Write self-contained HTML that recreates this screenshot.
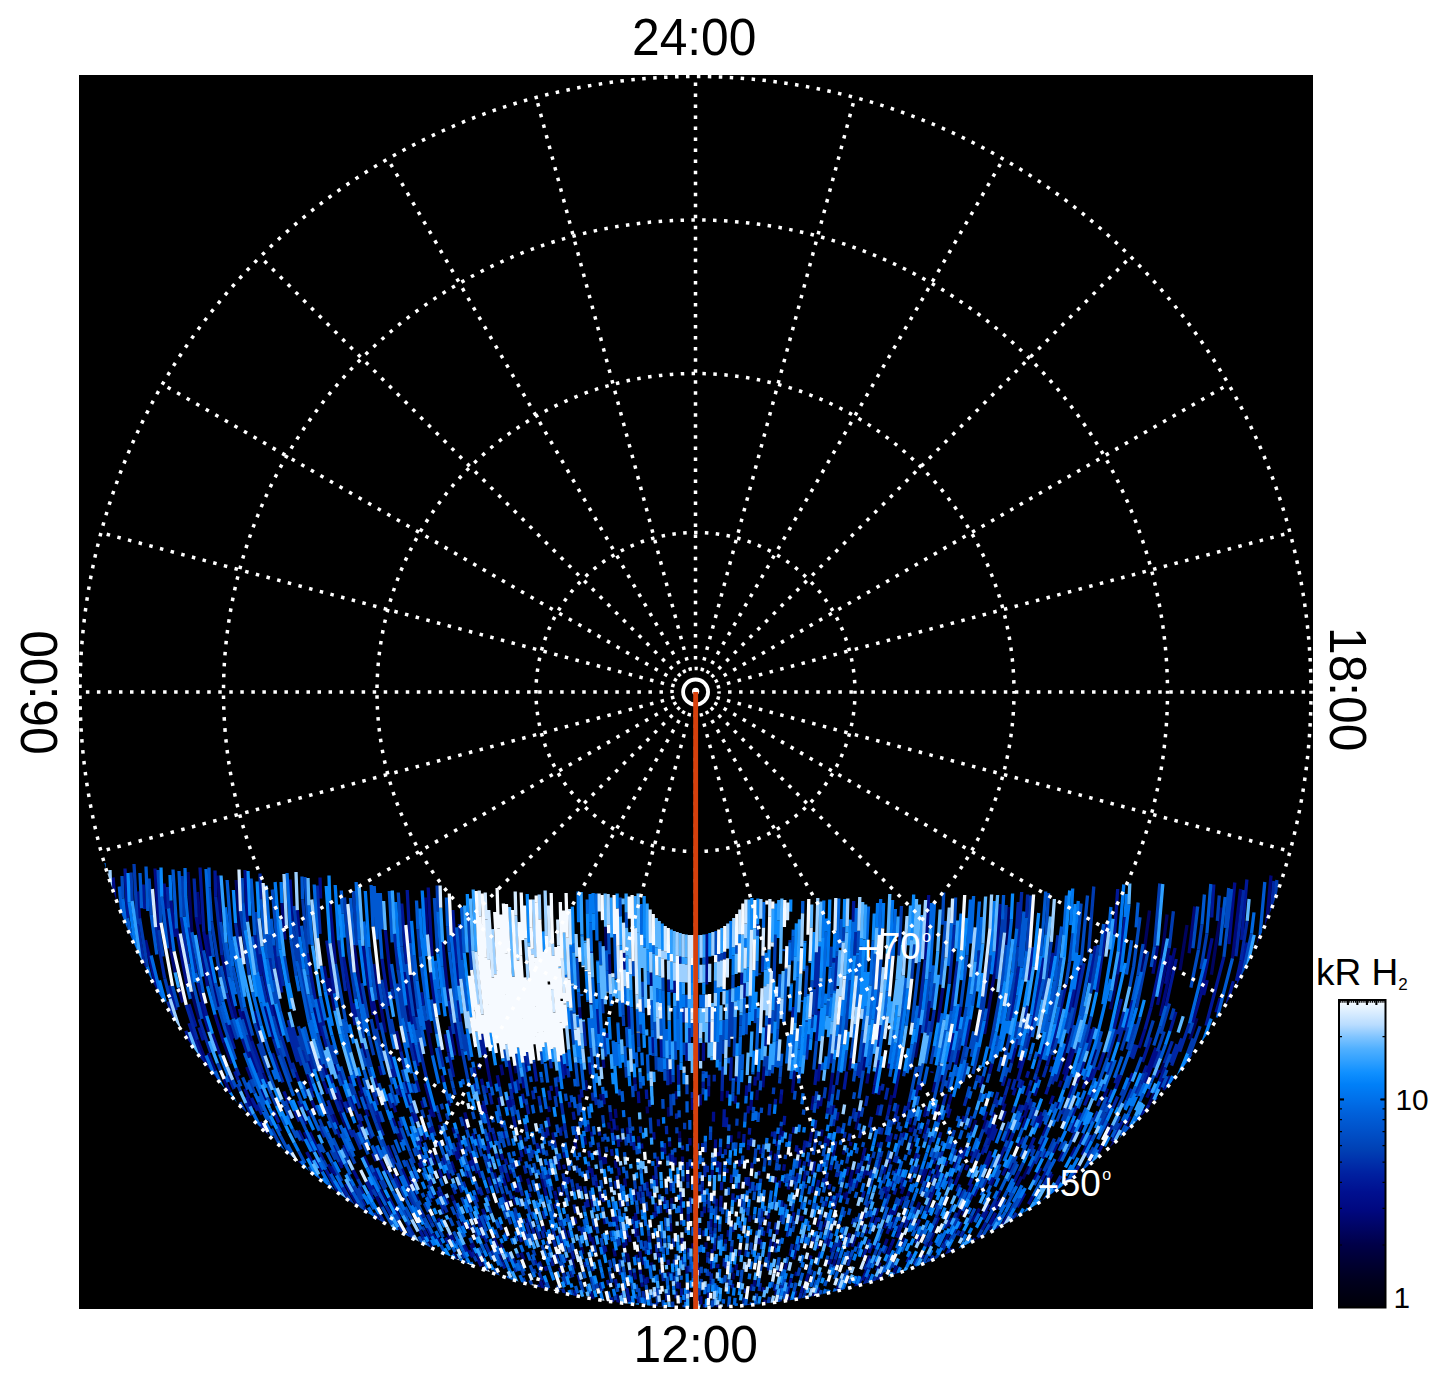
<!DOCTYPE html>
<html><head><meta charset="utf-8"><style>
html,body{margin:0;padding:0;background:#fff;width:1447px;height:1384px;overflow:hidden}
svg{display:block}
text{font-family:"Liberation Sans",sans-serif}
</style></head><body>
<svg width="1447" height="1384" viewBox="0 0 1447 1384">
<defs>
<linearGradient id="cb" x1="0" y1="1" x2="0" y2="0"><stop offset="0.0" stop-color="#000008"/><stop offset="0.087" stop-color="#00001e"/><stop offset="0.145" stop-color="#000032"/><stop offset="0.204" stop-color="#000048"/><stop offset="0.26" stop-color="#000464"/><stop offset="0.317" stop-color="#000880"/><stop offset="0.376" stop-color="#001090"/><stop offset="0.434" stop-color="#0020a0"/><stop offset="0.493" stop-color="#0038b0"/><stop offset="0.512" stop-color="#0040b4"/><stop offset="0.571" stop-color="#0050c8"/><stop offset="0.63" stop-color="#0060da"/><stop offset="0.677" stop-color="#0070ea"/><stop offset="0.726" stop-color="#0080f8"/><stop offset="0.764" stop-color="#1090ff"/><stop offset="0.802" stop-color="#30a0ff"/><stop offset="0.841" stop-color="#50b0ff"/><stop offset="0.88" stop-color="#80c4ff"/><stop offset="0.919" stop-color="#b8dcff"/><stop offset="0.977" stop-color="#e8f4ff"/><stop offset="1.0" stop-color="#f6faff"/></linearGradient>
<clipPath id="circ"><circle cx="695.5" cy="692" r="615.5"/></clipPath>
<clipPath id="sq"><rect x="79" y="75" width="1234" height="1234"/></clipPath>
</defs>
<rect x="79" y="75" width="1234" height="1234" fill="#000"/>
<g clip-path="url(#sq)">
<g clip-path="url(#circ)" fill="none" stroke-width="3.3"><path stroke="#00035f" d="M218.6 1177.9l4.5 6.1M299.4 1261l12.1 13.3M205.3 1131l8.4 13.7M330.5 1292.4l7.6 7.9M332.7 1290.6l10.2 10.6M235.2 1150.8l4.8 7.7M236.8 1145.1l5 8.3M299.2 1229.6l6.2 8M328.1 1265.4l6.8 7.9M165.6 909.4l5 39.4M250.9 1151.7l3.7 6.2M336.5 1265.6l5.2 6.3M191.4 991.7l7.7 27.2M260.2 1154.8l6.8 11.3M188 872l3.9 60.1M342.8 1260.5l5 6.3M321 1229l7.3 9.9M381 1304l7.1 8M223.9 1042.7l7.7 20.9M249 1098.4l4.4 9.5M236.1 880l4 56.4M307.6 1110.2l3.1 7.2M344.4 1122.6l5.5 13.1M341 1100l2.9 7.7M359.3 1090.7l2 6.1M362.9 1093.6l3.4 10.2M428.8 1239.1l4.2 7.7M455.7 1285.8l3.9 6.4M414 1190.9l4.5 9.7M398 1133.4l3.1 8.3M453.3 1252.6l3.6 6.9M479 1292.3l5 8.6M473.7 1267.9l2.7 5.2M490.2 1298.5l3.6 6.5M432.9 1159.5l1.9 5.2M451.4 1195l2.2 5.4M481.3 1253.6l2.1 4.6M406 1005.6l2.8 16.1M410.4 974.9l6.2 42.1M425.9 1021l6.5 34.4M428.6 1019.9l2.3 13.2M463.6 1118.4l3.1 11.4M490.1 1158.7l1.7 6M550.6 1297.6l2.7 6.9M515 1065.7l1.2 7.6M572.7 1262.6l1.7 6.1M581.3 1247l1.7 7.1M562.2 1126.3l0.8 5.2M585.6 1080.2l1.1 10.5M600.6 1093.8l0.6 6.6M608.7 1122.4l0.6 6.2M625.1 1252.5l0.6 4M611.9 1128.2l0.5 4.6M627.4 1253.5l1.3 8.8M605.6 926.8l0.6 23.6M616.8 1125.4l0.5 5.1M620.5 1137.7l0.4 4.3M637.1 1228.2l0.9 7.6M635.3 1188.8l0.6 6.5M643 1241.1l0.6 5.4M638.4 1136.2l0.5 6.5M642.2 1184.5l0.6 7.4M651.5 1262.3l0.8 7.8M647.1 1106.5l0.4 6.8M656.9 1252.2l0.4 4.8M672.8 1272.3l0.5 8.7M668.4 1107.1l0.3 9.7M671.6 1197.9l0.2 5.4M676.1 1091.1l0.2 8.2M679.5 1131.3l0.1 6.4M697.4 1227.8l-0 6.1M706 1242.2l-0.2 6.9M739.1 1131.5l-0.4 7M733.6 1273l-0.6 6.4M757.4 1089.8l-0.6 10.4M749.9 1215.4l-0.6 6.4M781.1 1126.3l-0.9 8.6M783.9 1202.5l-0.7 4.5M780 1264l-1.6 8.2M800.1 1215.7l-0.9 4.8M788.8 1296.2l-2.3 9M823.1 1224.6l-1.8 7.2M844.2 1150.4l-0.9 4.3M828.3 1239.1l-1.7 6.3M858.1 1118.2l-2.2 11.4M844.8 1192.6l-1.4 5.8M860.6 1167l-1.5 6.2M891.8 1095.2l-1.9 9.3M850.3 1251.9l-2.9 8.6M920.6 1025l-5.3 32.6M914.2 1125.2l-1.7 6.7M912 1143.2l-1.6 5.8M868.5 1279.8l-2 4.6M942.3 1075l-1.5 6.7M894.1 1280.5l-2.1 4.3M901.4 1269.7l-2.1 4.3M1009.1 907l-2.7 38M975.9 1120l-3.8 11.6M935.5 1224.4l-3.8 8.3M929.3 1274.5l-3.6 6.4M966.2 1207.4l-3.9 8.1M955.4 1264.7l-5.1 8.4M950.3 1273.1l-4.6 7.4M932.7 1309.5l-1.7 2.5M1071.1 1028.6l-7.9 28.9M1029 1166.3l-6.3 12.8M971.9 1267.9l-4 6.2M1096.4 1049.6l-5 15.7M1117.6 974.6l-7.3 34.8M1024.8 1221.7l-7.9 12.6M1082.8 1121.7l-4.5 9.9M1149.5 910.5l-8 61.4M1167.1 914.5l-5.5 43.9M1108.5 1122.8l-3.2 6.7M1059.5 1227l-7.7 10.9M1187 924.9l-7 45.4M1164.2 1063.2l-4 10M1154.4 1092.8l-5.7 12.2M1120.6 1157.9l-6.5 10.9M1197 1018.2l-7.1 21.2M1221.5 907.5l-10.1 67.2M1123.2 1177.6l-6 9.2M1182.5 1090.7l-4.8 9.9M1125.8 1207.7l-8.1 10.6M1260.2 935l-13.7 62.5M1226.3 1078.8l-4.8 9.7"/><path stroke="#000778" d="M329.1 1304.4l7.8 7.6M256 1217.6l9.8 11.9M202 1138.3l8.3 13.1M286.1 1250.7l7 7.9M303.4 1269.9l10.5 11.3M221.7 1164.8l4.5 6.6M214.9 1138.4l8.3 13.4M155.6 999l4 13.1M247.6 1184.7l9.8 13.7M216.4 1132.2l4.9 8.4M342.4 1296.8l12.9 13.4M208.4 1113.3l5.5 10M228.4 1143.7l8.1 13.1M230.6 1139l8.2 13.8M355.1 1302.2l9.3 9.8M241.8 1153.4l8.7 13.8M224.7 1114.1l5.9 11M289.5 1216.7l9.8 13M170.6 948.8l4.5 23.6M178.7 987.6l4 14.9M197.5 1039.8l12 30.7M214 1074.6l4.3 9.8M208.1 1053.2l7.1 17.8M250.9 1143.1l4.2 7.3M260.6 1159.5l7.9 12.7M274.7 1178.2l4.2 6.4M224.1 1079l6.1 13.6M352.9 1277.9l6.4 7.5M329.5 1246.1l6.2 8M259.5 1135.4l6.1 11.1M297.3 1198.2l7.8 11.5M256.5 1124.7l5.1 9.8M271.3 1147.6l4.5 8M197.5 892l2.5 32.5M213.4 986.5l5.1 20.3M324.3 1224.2l6.7 9.5M207.1 934.4l3.2 21.7M309.1 1194.6l9.1 14M246.7 1066.8l4.8 12.3M222 955.4l14.4 63.8M261.1 1088.9l4.9 11.4M218 875.5l2.6 46.5M353.4 1246.6l8.6 11.8M348.9 1237.1l6.6 9.3M242.8 1011.1l8.8 29.8M263 1073.3l4 10.3M324.6 1184.7l4.9 8.3M254.3 1011.2l5.3 19.2M304.3 1132l3.4 7M387.7 1268l5.9 8.1M264.6 1006.4l9 32.8M327.9 1164.2l5.4 10.1M347.8 1200l6.7 11.2M404.6 1282.9l6.1 8.3M272.9 1004.7l8.2 31M352 1195.1l6.3 10.9M401.9 1273.6l5.7 8M422.1 1301.4l3.3 4.3M402.4 1268.5l5.4 7.8M425.3 1298.1l5.5 7.5M307.4 1074.3l2.4 6.7M281.9 903l3.1 36.6M333.2 1114.4l4.5 11M376.5 1196.7l5.4 10.1M436.3 1294.7l4.8 7M323.4 1064.2l3.4 10.7M340 1111.6l4.4 11M372.9 1185l6.7 12.9M433.8 1288.3l3 4.4M335.7 1093l2.7 7.5M314 1007.7l6.9 28.4M363.9 1156.1l5 10.8M379.9 1189.5l6.8 13.1M334.5 1064.2l3.2 10.4M420.4 1250.8l2.9 4.9M324 966.2l4.9 29.1M328.8 978l6.1 32.6M420.7 1236.2l2.4 4.3M365.7 1109.5l2.6 7.1M357.3 1075.8l2.9 9.2M434.4 1253.1l3.1 5.5M459 1294.2l4 6.4M450.6 1277.3l5.1 8.4M362.2 1042.9l3.7 14.6M374.4 1077.9l2.9 9.7M353.9 945l8.5 59M398.6 1128.1l4.1 11.4M459.6 1260.6l3.5 6.6M447.8 1233.2l3.6 7.3M373.8 963.9l11.5 68.7M398.3 1084.9l3.5 12M489 1299.8l2.4 4.3M406.1 1093.3l3.6 12.1M464.2 1244.6l4.2 8.6M405.5 1081.3l3.5 12.7M396.4 1031.2l4.4 20.2M470.6 1244.4l3.9 8.2M462.5 1221.6l2.7 6.2M472.1 1243l2.1 4.6M483 1261.6l2.2 4.5M425.1 1083.2l9.3 34M439.3 1124.9l1.4 4.7M453.4 1168.2l1.5 4.4M480.6 1221.6l3.2 7.8M458.5 1153.9l1.5 4.7M453 1127.4l1.7 5.9M457.5 1142.3l2.6 8.3M498.6 1254.5l3.2 7.5M448.4 1100.5l1.4 5.6M457.5 1133.9l2.4 8.2M468.4 1161.4l2.4 7.5M425.4 897.5l1.8 37M500.7 1244l1.8 4.5M470.9 1153.2l2 6.6M475.2 1167.1l2 6.1M530.1 1306.9l2.4 5.1M464.7 1112.4l1.8 6.8M449.6 1026.3l5.2 29.2M535 1305.4l2.7 5.9M442.6 941.9l6 58.5M454.8 1022.8l5.6 32.9M494.1 1172.6l2.1 7M521.2 1252.6l2.8 7.3M503.1 1193.9l2.7 8.3M507.5 1200.5l2 6.3M543 1297.8l2.1 5.2M513.2 1195.8l2.6 8.6M543.1 1278l2.5 6.5M485.9 1057.7l3.4 19.3M489.3 1076.9l1.9 9.9M515.6 1187.9l1.2 4.2M556.6 1308.1l1.5 3.9M526.9 1218l2.3 7.2M498.7 1097.4l1.7 8.2M519.4 1175.3l1.8 6.6M500.9 1064.6l1.8 10.5M519.7 1157.2l1.1 4.3M565 1300.6l3.1 8.7M542.2 1178.8l2 8.5M564.8 1256.7l1.3 4.5M539.9 1145.7l1.6 7.7M555.5 1195.2l1.1 4.7M571.4 1258l1.3 4.6M548.5 1106.5l0.9 5.4M552.8 1132.4l1.3 7.1M558.1 1161.5l1.7 8.5M590.7 1291.3l2.4 8.6M574.8 1140.8l1.3 8.1M592.1 1237.1l1.7 8.3M594.3 1225.8l0.8 4M591.7 1198.8l1.5 8.5M584.4 1136.4l1.2 8.3M616.5 1294.3l0.9 4.3M579.5 1007.3l0.7 10.8M599.7 1156l0.6 4.3M613.8 1248.4l1.4 8.1M602.4 1157l1 7.5M604.8 1156.3l1 7.7M603.2 1059.7l0.6 8.1M623.6 1242.5l0.8 5.4M610.3 1112.1l0.9 9.1M615.3 1160.3l0.9 7.8M615.3 1108.9l0.8 9.1M629.2 1235.5l0.9 6.4M609.2 954.4l0.6 19.6M624.6 1178.2l0.9 8.4M633.5 1216.2l0.9 8.3M627.4 1127.3l0.5 6.7M635.4 1212.7l0.9 8.3M639.8 1250.9l0.9 7.5M642.8 1275l0.9 7.1M642.7 1257.3l0.9 7.4M650.4 1305l0.5 4.3M640.4 1191.8l0.5 5.9M634.7 1077.4l0.4 6.7M650.3 1249.5l0.4 4.3M653.6 1175.3l0.3 4.7M656 1211.1l0.4 5.3M651 972.6l0.3 13.4M662.1 1147.4l0.2 4.3M668.8 1272.1l0.3 4.7M670.4 1223.4l0.4 8.3M669.5 1141.4l0.2 5.3M669.9 1153.4l0.3 8.3M670.2 1069.1l0.3 15.1M675 1157.3l0.2 8.2M679.3 1282.6l0.2 6.1M681 1197.9l0.2 7.7M682.5 1156.5l0.1 7.5M685.6 1294.3l0.2 7.6M686.9 1266.1l0.1 7.5M689.9 1138l0.1 7.5M693 1243.2l0 5.1M695.1 1239.6l0 8.3M700.4 1094l-0.1 11.2M712.3 1169.8l-0.2 8.5M712.9 1230.8l-0.2 6.6M717.8 1152.1l-0.1 4.2M722.1 1091.2l-0.3 9.9M717.6 1304.7l-0.4 6.7M725.7 1239.2l-0.3 4.5M736.2 1076.4l-0.2 5.2M735.5 1095.6l-0.3 8.1M733.3 1224.6l-0.5 7.4M740 1159.6l-0.4 6.9M738.5 1182.6l-0.4 6.3M736.5 1263.8l-0.6 6.5M751.4 1099.8l-0.6 10.6M748.5 1145.3l-0.3 4.9M740 1249.6l-0.6 6.6M750.7 1181.9l-0.6 6.8M764.2 1066.6l-1.3 20.7M761 1147.8l-0.5 6M754.9 1280.1l-0.9 6.3M777 1140.7l-0.6 5.5M783.2 1130.8l-0.6 6M794.4 1070.5l-2 22.5M765.2 1299.6l-1.4 7.4M812.9 1014.9l-0.1 1.5M776.8 1289.7l-1.1 5.3M813.6 1095.9l-0.9 7.4M811.6 1131.8l-0.8 5.4M791 1250.9l-1 5M802.4 1215.9l-1 5.2M795.5 1249.9l-1.2 5.4M822.2 1129.6l-1 6.7M832.7 1072.7l-3.7 28.5M826.4 1135.9l-1.1 7M833.9 1104.7l-1.5 10.1M828.6 1138.5l-1.3 7.6M795.9 1290.8l-1.8 6.6M834.2 1150l-1.2 6.4M819.8 1219.4l-1.8 7.7M851.1 1058.4l-1.5 11.8M832.1 1196.1l-1.2 5.1M826.3 1220.7l-1.5 6.2M806 1308.5l-1.1 3.5M865.3 1056.9l-1.9 13.5M851 1141.9l-0.8 4M830.6 1230.4l-2.3 8.7M848.3 1166.8l-1.9 8.7M868.4 1073.6l-1.6 9.9M852.6 1169.7l-1.7 7.2M850.9 1176.9l-1.3 5.6M847.4 1191.7l-2 8M831.1 1259.1l-1.7 5.4M863.3 1155.8l-1.1 4.8M835.2 1259.5l-2.6 8.2M863.7 1174.5l-1 4M867.1 1170.6l-1.2 4.7M848.8 1243.1l-1.3 4.1M879 1142.3l-1.2 5.1M838.5 1285.8l-2.6 7M865 1212.5l-2.6 8.5M878 1207.9l-2.4 7.6M887.8 1191.6l-2.1 6.8M877.7 1241.1l-2.9 7.7M867.5 1267.6l-2.1 5.3M942.9 988l-4.8 34.6M926.9 1106.5l-2.6 10.5M903.7 1186.7l-2.4 7.1M935.3 1082.2l-2.3 10.1M893 1223.8l-2.5 6.6M887.3 1238.8l-2.5 6.4M880 1262.3l-3.6 8.4M909.4 1191.1l-1.7 5M938 1104.4l-1.8 7.1M891.1 1245.7l-3.6 8.6M926.7 1169l-2.8 8.3M923.8 1177.3l-2.3 6.5M951.5 1094l-2.7 10.3M925.1 1187.3l-1.6 4.3M919.6 1202.2l-2.8 7.3M905.1 1238l-3.7 8.7M897.2 1265.5l-3.3 7M917.1 1225.4l-2 4.6M928.8 1208.3l-2.3 5.6M899.3 1274l-2.1 4.3M994.4 973.8l-9.9 60.3M964.1 1115.9l-1.8 5.9M894 1292.3l-3.1 5.8M983.2 1076.4l-3 11.2M961.6 1147.5l-2.7 7.5M933.9 1232.7l-4.1 8.6M917.7 1265.8l-4 7.7M972.8 1151.4l-1.8 4.7M986.5 1119.7l-3.2 9.4M913.9 1287.7l-4.2 7.4M952 1218.1l-3.9 8.1M960.7 1209.2l-4 8.4M949.6 1232.3l-3.5 6.9M1005.1 1103.5l-2.3 6.9M914.5 1300l-4.8 8M930 1287l-3.9 6.5M973.3 1216.5l-3 5.9M994.4 1177.3l-3.7 8.1M979.5 1208.6l-5.9 11.6M953 1258.2l-5.1 8.8M1028.4 1105.6l-4.3 12M945.7 1280.6l-3.1 4.9M1020.9 1139.1l-3.1 7.4M1013.2 1162.9l-4.3 9.4M1000.3 1190.3l-3.1 6.3M974.9 1238.3l-2.4 4.2M965.5 1258.2l-4.9 8.1M982.2 1233.2l-6.5 11.3M966.3 1260.4l-3.8 6.2M1080.9 965.3l-7.7 42.2M995.1 1218.2l-6.6 11.8M981.3 1242.4l-6.9 11.5M950 1295l-2.8 4.1M1071.8 1047.3l-8.3 27.2M1061.3 1080.7l-2.2 6.3M1021.6 1176.4l-4.9 9.8M1059.1 1102.1l-2.4 6.3M1081.2 1070.7l-4.4 12.6M1052.3 1173.8l-6.5 12.1M979.7 1298.8l-10.1 12.9M1053.2 1193.7l-3.8 6.4M1049.4 1200.1l-6.3 10.4M1107.5 1088.5l-4.1 10M986.9 1296.9l-11 13.9M1039.6 1226.6l-5.2 7.9M1071.7 1178.3l-4 7M1157.6 945.7l-4.7 28.1M1045.1 1225.1l-9.2 13.6M1092.9 1158.1l-5.6 10.1M1169.1 948.3l-11.6 56.6M1175.1 948l-14.8 68M1115 1140.6l-6.9 12.6M1194.7 906.5l-5.6 46.7M1151.1 1088.1l-4.3 9.6M1073.5 1223.1l-7.3 10.1M1143.6 1115.4l-6.4 12.4M1163.5 1078.3l-4.7 10.7M1111.9 1176.2l-6.8 10.7M1078.2 1228.9l-8 10.6M1170 1076l-3.4 7.8M1158.2 1107.4l-5 9.8M1152.6 1123.5l-4.1 7.6M1131.6 1160.2l-4.4 7.1M1101.8 1212.2l-6 8.2M1034.6 1294.7l-11.4 12.4M1047.8 1288.7l-11.7 12.7M1240.6 889l-8.1 69.4M1211.8 1033.5l-4.8 13M1149 1160.4l-5.1 8M1195.1 1081l-3.1 6.6M1131.1 1190.7l-8.2 11.4M1126.9 1200l-6.3 8.5M1157.3 1159.1l-5.7 8.7M1094.6 1244.4l-11.4 13.5M1219 1044.7l-13.1 31M1156.1 1172.1l-4.7 6.8M1129.1 1209.5l-5.7 7.4M1078.2 1270.5l-10.2 11.2M1246.2 988.1l-2.8 10.2M1223.2 1055l-5.1 11.8M1160.8 1168.8l-8.9 12.8M1093.5 1255.6l-10.1 11.4M1107.9 1241.3l-7.4 8.7M1263 936.2l-4.5 25M1172.6 1158.7l-7.9 11.7M1087.8 1266.8l-9.1 9.9M1271 875.5l-6.2 67.9M1257.2 979.4l-9 31.2M1189.3 1136.4l-6.6 10.5M1241 1045.8l-10.2 23.5"/><path stroke="#000c89" d="M323.6 1300.8l8.2 7.9M206 1156.4l7.5 11M113.1 877.5l3.9 50.7M197.6 1139.5l6.6 10.3M134.6 996.7l6.3 20M171.2 1088.2l6.5 12.5M201.4 1141.4l7.4 11.5M218 1163.1l7.4 10.8M280.8 1244.6l5.3 6.1M284.9 1246.8l8.4 9.5M171.6 1072.1l4.9 10.4M219.2 1157.3l8 12M253.3 1205.3l6 7.7M137.7 962.6l3.3 14.4M161.9 1035.5l9.3 23.2M143.7 962.8l4 17.5M191.5 1096.3l6 11.4M256.9 1200.8l4.6 6.1M280.4 1231.1l10.9 13.2M137.5 891.5l2.1 26.8M191.4 1090.6l5.7 11.3M292.8 1243.4l8.6 10.2M341.1 1297.5l6.7 7M145.5 940.1l15 65.6M172.8 1041.8l4.9 12.5M190.8 1083.9l6.4 13.2M275 1215.7l4.7 6.1M312.7 1261.9l9.6 11M329 1278l11 12.1M198.2 1082.2l3.9 8.2M228.3 1139.4l6.8 11.4M347 1293.5l8.1 8.7M155 868.5l3.9 61.6M198.9 1071.6l6.1 13.5M253.3 1167.8l5.9 9.1M259.2 1176.9l7.6 11.3M318.6 1256.5l5.1 6.1M332.5 1272.8l6.7 7.6M238.1 1138.6l5.7 9.7M256.9 1169.5l4.5 7M164.2 883.5l1.5 25.9M231.6 1122.2l4.6 8.5M245.6 1147.1l6 10.1M171 900.6l3.7 36.4M221.2 1090.8l3.1 6.5M346.8 1280.2l11.8 13.5M176.6 928.6l10.5 57.6M309.8 1231.8l10.2 13.3M303 1216.4l5.9 8.1M199.9 1001.9l9 29.7M212.4 1033.8l7.3 20.4M378 1304.8l6.4 7.2M353.8 1271.7l9.6 11.7M196.2 917.3l11.3 68.8M215 1014.6l8.9 28.1M245.8 1097.2l4.3 9.2M310.7 1211.2l5.8 8.3M244.7 1088.7l4.4 9.8M203.8 931.9l9.7 54.6M278.8 1151.9l7.9 13.8M331 1233.6l5.4 7.4M298.9 1182l4 6.5M229.5 1024.9l4.4 13.7M324.5 1214.6l7.3 10.7M333.1 1220.6l4.2 6.1M249.4 1051.3l7.7 21M298.9 1161.1l5.8 10.3M308.2 1177.4l4.3 7.3M239.3 1008.9l2.8 10.4M358.3 1247.4l9.6 13.3M373.8 1268.5l7.4 9.7M330.8 1202.8l8.4 13.2M379.3 1273.1l4.7 6.2M383.9 1279.3l8.4 10.9M332.1 1201.1l5.2 8.3M398.9 1296l5.7 7.1M306.6 1152l6.3 11.8M351.5 1224.5l4.4 6.7M355.9 1231.2l4.6 6.9M383.2 1270.2l4.6 6.2M283.8 1091.4l5.1 12.3M315.2 1158.9l6.9 12.7M376.2 1257.7l5.9 8.2M245 870l2.4 51.7M336.5 1188.7l3.7 6.4M301.5 1114.5l4.5 10M309.6 1132.3l6.7 14M366 1233.2l4.6 7M337.4 1181.7l4.2 7.5M341.6 1189.2l6.2 10.8M302.3 1103.8l2.6 6.2M331.4 1166.1l5 9.4M295.6 1072.1l3.3 9.3M345.8 1183.8l6.3 11.3M376.7 1232.5l5.7 8.9M311.6 1100.3l4.1 10.3M339.2 1161.9l3.1 6.2M309.7 1081.1l3.7 10M308.5 1061l4.6 13.8M353.1 1169.9l4.7 9.2M336.6 1129l3.8 8.7M343.7 1144.9l5.4 11.5M406.2 1255.4l7.6 11.9M442.3 1308.6l2.5 3.4M323.5 1081.3l4.5 12.5M290.1 879.5l2 41.2M397.6 1234.3l8.3 13.7M405.9 1248l4.3 6.9M297.3 910.1l2.3 26.6M416.7 1255.2l5.2 8.4M346.8 1101.2l2.2 6.1M374.5 1168.3l5.8 12.2M407.9 1233l7.4 12.8M359.2 1120.3l2.6 6.6M380.9 1160.6l6.1 13.5M320 877.5l0.6 21M462.9 1303.3l3.6 5.5M360.2 1085l2.8 8.5M394.3 1173.9l6.4 14M329.8 903.1l5.6 60.6M401.8 1168.8l4.8 11.1M406.7 1179.9l4.5 10M432.6 1233.7l3 5.7M436.6 1237.2l4.2 7.9M462.3 1280.2l3.1 5.4M392.5 1118.1l2.8 8M472 1290.3l2.8 4.7M379.3 1065.9l2.5 9.1M392.9 1103.2l2.9 9M438.3 1218.2l3.2 6.7M474.6 1287.9l4.2 7.3M362.9 945.8l10.3 69.1M373.4 1001l5.6 28.9M419.1 1162.5l2 5.2M450.9 1235l4.3 8.7M419.3 1150l1.6 4.4M430.6 1179.2l1.9 4.5M437.7 1190.7l2.4 5.7M411.9 1112.7l3.2 10.2M427.4 1158.1l2.6 7M469.2 1250.4l3.4 7M423.8 1133.5l2.2 6.4M385.3 930l6.5 58.4M438.9 1169.1l3.2 8.5M477.9 1259.6l3.3 6.7M476.8 1253l2.7 5.6M421.6 1100.6l2.1 7.3M436.3 1140.2l1.9 5.6M446.8 1170.5l3.2 8.6M413 1043l5.2 23.2M429.5 1109.4l2.1 7.3M404.2 971.9l8 52.4M451.1 1161.6l2.3 6.5M479.2 1229.2l3.8 8.9M490.8 1251l2 4.5M455.3 1151.6l2.7 8.4M510.5 1289.5l2.2 4.6M456.3 1146.9l2.2 7M466.5 1170.7l2.3 6.9M484.1 1219.2l1.8 4.7M442.3 1075.3l1.6 6.8M482.5 1208.8l2.2 5.8M493.9 1237.9l3.5 8.4M430.7 972.4l4 31M524.9 1299.7l2.8 5.9M527.6 1305.6l3.1 6.4M428.2 887.5l3.8 68.6M472.9 1159.8l2.3 7.3M445.2 1034.1l3.4 18.4M478.8 1170.5l2.3 7.3M512.9 1258.5l2.1 5.1M472.8 1133.2l1.7 6M490.1 1167.4l1.4 4.6M496.2 1179.5l2.5 8M541.6 1303.4l2.3 5.4M456.3 963.9l2.2 21.9M487.8 1141.3l2.2 8.3M481.5 1104.8l1.9 8.2M488.1 1132.3l2.3 9M484.4 1105.9l1.8 7.8M503.1 1178l2.3 7.8M481.4 1078.8l1.2 6.2M540.3 1281.1l3.2 8.3M501.3 1153.9l1.6 6.1M506.5 1173l2.5 8.7M510.4 1169.4l1.1 4.1M516.7 1183.4l2.5 8.8M545 1266.4l1.5 4.3M497.3 1075.3l2.1 11.3M557.5 1295.7l2.3 6.1M507.3 1100l2.1 10.4M509.2 1096l2.1 11.1M527.5 1178.5l1.5 5.9M508.6 1060.6l5.4 32.2M559.8 1267.6l1.4 4.5M522.2 1076.8l1.8 11.5M544.2 1187.4l2.1 8.4M558.6 1234.8l2.3 8.4M525.9 1064.8l1.1 7.4M562.6 1241.4l1.1 4.1M548.1 1161.1l1.4 6.8M554.6 1190.9l1 4.3M568.5 1230.2l1.9 7.5M561.8 1191.5l1 4.4M563.7 1164.6l0.8 4.4M564 1152.6l0.9 5.1M568.5 1177l1.1 5.5M556.4 1086.7l1.3 9.9M601.4 1302.9l2.3 8.7M589.2 1233.5l1.7 7.9M564.6 1063.9l1.3 11.4M606.7 1301.7l1.3 5.5M579.1 1094.5l1 8M588.7 1166.3l1 6.7M591.5 1168.3l1.3 8.5M604.7 1245.7l1.2 6.2M588 1124.6l0.9 6.9M595.9 1181.3l0.9 6M617.4 1298.6l1.3 6M591.5 1131.6l0.6 4.8M604.2 1218.3l1 5.8M621.7 1301.2l1.5 7.3M621.9 1292.6l1 5.1M590.8 1003.2l0.1 1.3M615.3 1216.5l1.2 8.3M603.3 1094.1l1 10.2M625.3 1239.2l0.9 6.3M607 1033.1l0.3 4.6M618.5 1167.4l0.9 8M618.1 1139.4l0.7 7.5M634.4 1272.8l1 6.7M636 1254.8l0.8 6M635.4 1232.4l0.6 4.7M640 1269.6l0.6 4.5M641.8 1282.6l0.6 4.2M624 952.8l0.4 16.8M647 1276.9l0.7 6.2M628.6 1005.9l0.8 20.3M638.2 1091.3l0.7 11.9M641.5 1143.5l0.4 5.1M646.8 1181.9l0.4 5.9M656.2 1288.3l0.9 8.8M659.1 1253.2l0.3 4.2M653.7 1132.1l0.4 7.4M656.3 1179.5l0.4 6.9M652.5 1037.2l0.5 15.7M657.7 1161.2l0.3 5.6M664.4 1196.9l0.4 7.1M664.7 1148.5l0.2 5.8M667.3 1208.1l0.2 4.5M672.4 1040.6l0 0.8M674.5 980.8l0.1 12.3M681.2 1205.5l0.2 8.4M682 1237.7l0.2 5.9M687.8 1174.1l0.1 7.5M692.4 1098.7l0 11.2M695.1 1229l0 5.9M703.5 1042.8l-0.1 18M700.9 1296.3l-0.1 8.2M706.9 934l-0.2 50.6M704.4 1206.7l-0.1 6.5M708.6 1086.5l-0.1 9.9M713.6 1111.8l-0.2 9.8M711 1219.1l-0.2 7.9M708.7 1292.5l-0.2 5.5M715.6 1139.5l-0.2 8.7M711.8 1261l-0.3 8.3M717.5 1161l-0.2 6.5M716.3 1198.6l-0.3 7.7M720.9 1200.9l-0.2 5.7M717.9 1263.8l-0.2 4.4M727.5 1090.7l-0.2 7M728.2 1144.3l-0.2 4.3M727.1 1168.7l-0.2 4.2M731.2 1135.1l-0.3 7.3M728.5 1230.1l-0.4 6.7M746.8 1085.3l-0.5 10.5M740.1 1194.9l-0.3 4.1M748.4 1105.9l-0.4 7.6M755.4 1076.7l-0.5 9M760.2 1225.1l-0.6 4.5M758.6 1238l-0.8 5.9M770.9 1150.7l-0.4 4.3M760.6 1239.4l-0.7 5.1M781.3 1094.8l-0.8 8.8M775.6 1153.6l-0.7 6.5M768.5 1212.9l-0.8 5.8M775.4 1177.1l-0.7 5.8M779.8 1180.8l-0.9 6.9M763.6 1287.3l-0.8 4.4M784.4 1164.3l-0.8 6.5M775.4 1241.9l-1 6.2M794 1127l-0.7 6.1M789.5 1180.6l-1.3 8.9M799.1 1148.1l-0.9 6.3M800 1159.1l-1.3 8.7M793.9 1212.3l-0.8 4.4M812.7 1103.3l-0.8 6.8M786.4 1263l-1.4 6.5M819.9 1063.9l-1.9 17.5M810.8 1137.2l-0.8 5.3M805 1174.8l-1.1 6.5M784 1283.4l-1 4.7M818.4 1100.4l-1.1 8.3M821.5 1097.3l-1.1 8.8M800 1238.4l-1.3 6M791.2 1278.3l-1.6 6.8M789.5 1285.1l-2.2 9M812.7 1186.3l-1.2 6.4M796.7 1271.8l-1 4.2M818.7 1179.9l-1.3 6.9M838.1 1112l-1.4 8.5M811.1 1255.5l-1.1 4.4M808.4 1273.6l-2.2 8M818.4 1243.5l-1.3 5M804.6 1306.8l-1.6 5.2M810.5 1300l-2.2 7M859.5 1110.9l-1.3 7.3M830.5 1239.1l-2.1 7.6M814.6 1293l-2.1 6.5M833.2 1244.8l-2.2 7.7M874.7 1085.5l-1.5 8.6M857.6 1169.2l-1.2 5M865.1 1147.6l-1.9 8.2M857.3 1180.8l-1.9 7.4M840.7 1241.5l-1.8 5.9M880.1 1085.7l-1.6 9.1M865 1169.5l-1.2 5M889.3 1063.8l-0.8 4.8M849.7 1233.3l-2 6.5M855.6 1235.6l-1.8 5.7M853.7 1241.4l-1.7 5.3M899.4 1069.2l-5.4 28.8M885.4 1166.8l-1.9 7M866.6 1229l-1.4 4.3M928.7 895l-3.5 64.7M890.1 1158.6l-1.3 4.8M887 1186.7l-2.1 6.9M904.6 1132.4l-1.3 5M910.8 1118.1l-1.5 6.2M897.1 1168.9l-1.3 4.3M872.1 1244.6l-3.2 8.6M856.8 1284.1l-1.9 4.7M911.1 1127.5l-1.2 4.7M870.1 1255.7l-3.2 8.4M849.6 1305.9l-2.7 6.1M887.4 1214.1l-1.8 5.2M865.4 1272.9l-3.1 7.5M891.7 1208.5l-2.3 6.7M886.7 1222.7l-2 5.6M904.3 1177.4l-1.3 4.1M893.4 1210.3l-1.6 4.4M897.2 1205.9l-3.2 8.9M888.9 1228.8l-1.9 5.1M916.8 1153.1l-2.5 8.2M902.6 1197.1l-2.8 8.1M895.4 1217.3l-2.4 6.5M927.4 1124.6l-2.4 8.9M872.8 1279.1l-3.6 8.3M860.2 1306.9l-2.4 5.1M953.5 1033l-5.6 28.9M899.4 1224.8l-2.7 6.8M893.8 1239l-2.7 6.7M875.3 1282.5l-2.9 6.5M898.8 1232l-2.3 5.7M889.8 1253.8l-3.3 7.8M924.3 1168.6l-2.3 6.9M958.7 1050.2l-3.1 14.5M950.3 1108.6l-2.6 9.2M935.3 1158l-1.9 5.8M931.1 1170.4l-1.9 5.4M927.1 1181.9l-2 5.4M916.7 1209.4l-1.9 4.9M938 1164.9l-1.7 4.8M938.9 1169.2l-1.7 4.9M937.2 1174.1l-1.5 4.2M930.6 1191.8l-2.3 5.9M934.8 1187l-2.6 6.7M946.8 1160.8l-1.8 5M1000.3 904l-5.9 69.8M944.5 1174.1l-2 5.2M957.1 1160l-3.1 8.4M950.9 1176.4l-3 7.6M894.8 1301.4l-4.1 7.4M992 1063.7l-2.5 9.9M964.7 1153l-2.1 5.7M938.7 1217.3l-3.2 7.1M958.1 1176.8l-3.3 8.2M931.8 1241.6l-2.8 5.6M986.5 1111.6l-2.8 8.7M967.7 1164.9l-2.1 5.3M962.1 1190.5l-3.4 7.8M994.2 1112.4l-1.8 5.3M989 1127.7l-2.4 6.8M904.3 1307.8l-2.5 4.2M1015.2 1048.5l-3.7 14.5M992.9 1124.1l-4.8 13.4M972.1 1183.9l-3.4 7.8M946.1 1239.2l-2.2 4.4M932 1269.6l-2.8 5M1020.6 1060.5l-2.1 7.7M1015.4 1088l-2.3 7.3M991.6 1154.8l-5.6 13.6M976.9 1189.3l-3.1 6.7M961.4 1221.9l-3.2 6.4M1009.4 1128.8l-5 13.1M953.9 1248.9l-3.9 7M1039 1054l-0.7 2.7M1029.7 1085.8l-3.2 9.7M1044.4 1044.5l-4.1 15.2M1022.2 1115.7l-2.4 6.5M1038 1076.6l-2 6.3M1037.2 1087.7l-2.7 8.1M1026.4 1118.4l-3.6 9.4M1006 1167.9l-3.4 7.5M987.6 1210.8l-4.7 9M997.2 1201.2l-4 7.7M1000.9 1198.6l-5.6 10.8M1042 1112.2l-4.1 10.6M995.7 1212.8l-6.2 11.4M1043.1 1116.2l-4.6 11.5M1053.3 1095.8l-3.1 8.4M941.6 1307.3l-3.3 4.7M1074.1 1049.1l-10 31.7M1047.7 1124.4l-4.8 11.5M997.8 1225.4l-4.4 7.5M1044.6 1137.7l-5.9 13.2M1006.8 1217.5l-7.3 12.5M955 1298.8l-5.8 8.1M1091 1028.8l-3.9 14M1024.9 1193.3l-7.7 13.9M1040.6 1167.7l-6.4 12.5M1057.2 1143.8l-4.3 9M1032.8 1196.3l-4.4 7.8M1010.4 1234l-5.1 8.2M973.4 1289.1l-5.3 7.3M1092.9 1068.8l-4.6 13M1075.7 1120l-5.4 12.1M1063.5 1151.9l-4.9 9.7M1003.8 1254.3l-4.5 6.7M1021.2 1231l-4.3 6.8M1015.5 1243.1l-7.8 11.6M1076 1147l-4.9 9.7M1054.1 1200l-8 13M1109.4 1097l-3 7M1092.2 1135.1l-5.7 11.4M1086.4 1146.5l-4.3 8.4M1144.9 1029.5l-5.9 18.4M1132.7 1073.1l-3.4 8.6M1102.2 1145.5l-4.1 7.6M1171 955.4l-5.5 28.4M1033.9 1259.2l-6 7.9M1068.3 1214.1l-8.9 12.9M1156 1047.7l-9.2 24.5M1157.4 1051.5l-12.4 31.7M1130 1116.3l-4.4 9M1108.6 1156.8l-6.3 10.9M1102.3 1167.7l-7.3 12.1M1043.5 1254.8l-7.4 9.6M1001.4 1306.7l-4.6 5.3M1071.5 1219.5l-6.8 9.6M1028.7 1276.4l-5.2 6.3M1125.1 1136.1l-7.3 13.4M1158.9 1069.6l-3.2 7.9M1144 1109.2l-3 6.2M1011 1306.3l-5.1 5.7M1166.6 1083.8l-2.9 6.4M1059.4 1256.1l-5.8 7.2M1212.1 938.2l-11.2 55.9M1200.9 994.1l-8.2 28.5M1207.3 980.1l-3.7 15.1M1175.1 1076.8l-4.4 9.9M1033.4 1293.9l-9.9 11M1121.2 1184.2l-4.5 6.7M1040.4 1290.4l-6.3 7M1138.2 1165.6l-8.7 13.5M1234.8 882.5l-5.8 61.7M1220.2 998l-4.2 14.4M1153 1150l-5.1 8.3M1128.2 1191.6l-6.1 8.6M1198.1 1074.5l-3 6.5M1069 1271.7l-12 13.3M1104.7 1231.9l-10.2 12.4M1232.2 1006.6l-3.6 11.3M1117.7 1218.3l-7.6 9.7M1061.7 1284.2l-7.2 7.7M1199 1095.5l-3.2 6.2M1111.4 1229.2l-8.2 10M1112.9 1230l-6.8 8.3M1045.8 1305l-7 7M1114.1 1231.3l-11.2 13.5M1046.2 1306.4l-5.6 5.6M1253.5 982.5l-2.9 10.6M1239.8 1034.8l-14.7 34.9M1225.1 1069.7l-6.3 13.4M1184.9 1151.5l-7.4 11M1177.5 1162.5l-6.5 9.4"/><path stroke="#001797" d="M127.4 1010.6l8.1 22.5M177.9 1120l8.1 13.3M258.6 1231.6l12 13.8M108.3 902.6l3.7 32.5M308.6 1283.8l6.5 6.6M238.2 1200.8l9.2 11.7M243 1204l6.8 8.7M225.2 1177l6.5 9M323.4 1293l9.1 9.2M210.3 1151.4l7.7 11.6M181 1096.8l5.4 10.2M332.1 1298l12.2 12.3M125 868.5l2.6 49.6M255.8 1205.5l9.6 12.4M282.4 1238.9l6.5 7.6M178.7 1075.5l2.9 6.1M243.4 1185.6l8.9 12.3M229.4 1153.7l8.2 12.7M143.2 884.5l1.4 24.5M194 1084.9l4.4 9.1M262.3 1191.9l4.6 6.5M256.5 1180.1l6.8 9.9M169.4 985.5l6.8 24.6M187.9 1044.4l11.1 27.2M223.8 1122.4l5.8 10.3M302.7 1239.7l6.3 7.8M185.8 1030.8l6.9 19M311.3 1247.7l7.2 8.8M209 1081.9l5.3 11.3M189 1023.3l6.4 18.5M195.4 1041.7l9.8 25.1M331.4 1266.8l10.8 12.6M189 1004.3l6.9 22.5M258.6 1160.4l5.5 8.9M198.9 1027.5l4.4 12.9M255.2 1150.4l5.4 9.1M268.5 1172.3l8.9 13.8M285.2 1197.7l5.6 8.1M349.1 1280.5l11.9 13.6M242.2 1112.1l4.4 8.7M334.9 1255.9l9.9 12.3M198 983l2.7 11M200.7 994l6 21.8M285.7 1176.3l5.8 9.2M234.7 1071.4l3.6 8.7M331.1 1239.7l7.9 10.6M260.2 1121.9l4 7.8M264.2 1129.7l3.8 7.2M337.2 1245l8.6 11.3M200 867.5l3.8 64.4M251.5 1097.9l6 12.9M226.1 1023l8.5 25.9M257.2 1104.5l4.7 10M283.8 1156.4l8 13.8M291.8 1170.2l7.1 11.7M304.7 1183.6l6.7 10.8M226.7 993.3l6.6 25.1M308.8 1186.4l8.5 13.6M353.9 1253.1l6.5 8.7M215 870.5l0.7 26.4M242.3 1038.6l6.6 19.2M337.3 1226.7l4.3 6.3M273.3 1110.6l5.7 12.2M251.6 1040.9l11.4 32.3M397 1298.3l6.3 7.7M298.4 1130.6l5.1 10.4M412.1 1307.7l3.4 4.3M396.7 1285.7l6.7 8.8M272.4 1053.2l6.3 18.1M294.6 1110.7l4.8 10.8M344.9 1206.8l6.8 11M351.7 1217.8l6.2 9.7M326 1169.8l4.7 8.6M409.4 1297.1l5.2 6.7M316.3 1146.3l7.1 14M370.7 1240.2l5 7.5M254.8 935.1l6.1 40.2M298.4 1100.8l2.6 6.2M260.3 954.4l12.5 61.5M378.9 1239.5l4.8 7.5M365 1213.4l6.8 11.3M363.6 1207.1l7.2 12.3M422.4 1296.7l5.2 7M273.9 945.6l7.9 46.9M333.8 1145.5l4 8.5M337.8 1154l5.4 10.9M361.7 1199.7l3.4 6M358.8 1185.6l4.4 8.3M394.6 1243.7l5.8 9.3M331 1115.5l2.8 6.8M368.7 1190.9l4.7 8.8M366.4 1181.8l6.9 13.3M442.3 1306l4.3 6M367.6 1179.4l5 9.8M329.4 1074.3l3 8.9M338.4 1100.5l4.5 11.9M336.3 1086.8l4.7 13.2M307.5 953.7l7.6 45.4M320.3 1022.7l6.3 24.2M373.8 1172.1l3.7 7.7M317.9 998.7l5.9 26.6M388.9 1197.7l6.5 12.5M395.4 1210.2l4.7 8.8M435.8 1279.2l4.1 6.3M439.8 1285.5l2.7 4.1M436.4 1277l4 6.3M440.4 1283.3l4 6.2M350.4 1096.3l4.9 13.7M372.7 1153.3l3.5 7.8M349.2 1076.1l2.3 7.4M326.7 940.5l7.6 52.8M419.1 1229.1l3.9 7.2M366.4 1103.7l2.1 6M424.3 1230.6l4.5 8.4M375.9 1115.8l5.1 13.9M387.2 1145.5l5 12.2M376.8 1110.7l4.1 11.6M427.3 1227.8l4.5 8.6M471.4 1304.9l4.2 6.7M343.4 956.9l11.8 68.2M353.6 1003.3l2.7 13.7M447.6 1257.7l4.3 7.7M409.9 1176.1l5 11.3M445.6 1237.7l3.1 6.1M471.9 1286.6l3.9 6.8M398.8 1121l2.3 6.8M431.8 1193.6l2.1 4.8M475 1281.6l3.9 7M391.2 1069.1l2.3 8.6M420.2 1159l3.3 8.6M390.4 1054.8l5.7 22.2M418.6 1141l2.2 6.3M462.5 1245.5l3.2 6.5M419.4 1135.7l2 5.9M440.8 1192.4l1.8 4.3M488.8 1292.5l2.5 4.5M382 958.8l6.8 47.2M414.8 1113.7l2.5 7.8M444.2 1194.9l1.9 4.6M446.1 1199.4l2 4.8M429.9 1151.3l3 8.2M472 1251.9l2.1 4.4M416.2 1080.7l3 11.2M429.7 1127.8l1.7 5.2M431.8 1126.2l1.9 6M442.3 1157.8l2.5 7M468.4 1224.9l2 4.6M502.5 1292.9l3.6 7.1M401.7 903.5l4.6 60.6M468 1207.3l2.1 5.2M506 1288.2l3.3 6.7M407.2 890l2.8 52.7M477.3 1219.2l3.3 8.2M484 1235.3l3 7M514.5 1301.6l4.2 8.4M477.8 1214.7l2.7 6.9M421.4 992.2l1.9 13.3M475.1 1195.1l2.5 6.9M501.9 1262l2.9 6.5M499.1 1250.6l1.9 4.6M477.9 1189.7l1.6 4.5M470.6 1160.3l1.8 5.5M508 1256.7l2 4.9M448.6 1052.6l5 24.5M488.2 1177.2l2.8 8.7M457.4 1000.6l3 21.3M486.6 1146l2.2 7.8M452.8 910l3.5 53.9M473.8 1067.6l2 10.2M519 1234.9l2.5 7M537.6 1284.5l2 5M483.3 1100.7l1.2 5.3M486.2 1113.8l2.7 11.4M478.5 1063.4l1.1 5.8M493.7 1134l1.7 6.7M501.8 1165l2.1 7.6M485.6 1086l1.4 6.9M534.5 1260.2l1.8 4.8M480.2 1040l2.5 15.2M489.7 1093l2.4 11.4M505.1 1158.6l1.7 6.3M482.1 1033.7l3.8 24M539.2 1261.6l2.4 6.7M503.4 1131.5l1.7 7.1M532.5 1228.7l1.6 5M554.9 1293.9l1.6 4.4M529 1193.1l1.1 4.2M513.2 1116.3l2.3 11M520.6 1150.3l1.6 6.9M550.5 1257.9l2.6 8M512.6 1099.6l1.1 5.5M542.8 1226l1.8 6.1M524.8 1146.3l1.7 7.7M555.4 1253.4l1.6 5.1M517.2 1079.5l1.8 10.9M522.3 1093.7l1.7 9.8M526.9 1104.9l1.7 9.5M573.8 1292.9l1.9 6M536.8 1143.1l1.2 5.7M574.7 1289.7l2.4 7.5M524.7 1056l1.2 8.9M548.5 1174.4l1 4.3M555.2 1203.6l1.2 4.9M563.6 1228.2l1.1 4.1M533.9 1062.4l2.7 19M544.9 1131.7l1.2 6.2M571.6 1250.8l2.3 8.5M578.1 1274.6l1.9 6.5M546.8 1127.6l1.5 8.2M547.6 1117.3l1.6 9.2M548.8 1090.4l1.4 9.8M550.8 1085.7l0.7 5.2M574.5 1217.5l1.4 6.3M585 1261.8l1.3 5.2M560.9 1055.4l2.7 23.3M579.9 1186l0.9 4.9M569.2 1101.9l0.7 5.6M585.2 1201.9l1.1 5.7M573.2 1111.7l1.1 8.1M576.4 1134.3l0.9 6M587 1199.3l1.4 7.8M607.5 1279.8l1.2 5.3M611.4 1297.3l1.8 7.8M602.6 1245.8l1.7 8.6M581.2 1089.2l0.9 8.3M588.9 1150.7l0.9 6.5M599.9 1191.5l1.4 8.7M615.3 1279l1.5 7.5M603.3 1197.9l0.6 4.2M589.5 1062.7l1.1 11.6M598.7 1147.9l1 8.1M624.6 1306.3l0.9 4.5M599.2 1131.5l0.5 4.1M613.1 1216.8l0.8 5M626.8 1287.9l1.4 7.7M628.2 1295.6l1.2 6.4M597 1009l1.5 24.8M611.5 1149.1l0.8 6.8M617 1175.7l0.5 4.1M629.9 1269.8l1 6.6M613.6 1118.9l1 10.8M615.2 1135.4l0.5 5.1M637.9 1296.5l1 6.2M640 1309.7l0.4 2.3M634.5 1224.4l0.9 8M645.6 1297l0.7 4.8M647.1 1307.5l0.6 4.5M630.5 1133.1l0.6 7.3M645.2 1278.5l0.7 6M633.7 1142l0.7 8.1M649 1236.2l0.6 6.3M649.9 1191.6l0.5 6.9M646.3 1089.5l0.5 9.5M653.8 1212.3l0.4 5.6M655.4 1202.9l0.6 8.2M657.5 1156.6l0.2 4.6M666.3 1293.3l0.6 7.1M658.3 1119.3l0.3 6.9M668 1259.7l0.3 5.3M661.1 1039.3l0.5 18.4M675.8 1291.3l0.4 7.1M668.7 979.4l0.2 12.4M672.5 1154.9l0.2 7.9M677.3 1281.7l0.3 6.8M681.5 1288.4l0.3 7.6M682.3 1308.7l0.1 3.3M678.4 1064.8l0.3 19.8M679.7 1137.7l0.1 4.5M686.6 1042.8l0.1 18M687.6 1162.1l0.1 7.9M688.2 1214l0.1 7.3M688.7 1247.9l0.1 4.3M689.4 1290.7l0.1 6.5M695.2 1303.4l0 6.7M697.9 1043l-0 18M697.2 1262.7l-0 7.4M699.3 1267.9l-0.1 7.9M703.2 1081.8l-0 5.9M702.3 1187.2l-0.1 6.8M704 1230.4l-0.1 6M706.8 1199.7l-0.1 4.4M704.5 1304l-0.1 4.9M709 1208.3l-0.1 4.2M707.9 1251.9l-0.1 4.7M707 1284.6l-0.2 8.1M712.2 1249l-0.1 4.2M711.1 1280.5l-0.2 4.9M715.4 1223.1l-0.2 4.6M714.5 1245l-0.2 5.7M720.5 1147.3l-0.3 8.5M720 1162.1l-0.2 4.8M719.8 1166.9l-0.3 7.6M724.3 1109.3l-0.2 6.5M724.1 1115.8l-0.4 11.2M721.7 1182l-0.3 8.3M721.1 1195.6l-0.2 5.3M726.7 1117.3l-0.4 10M731.3 1057.2l-0.7 23.5M726.3 1262l-0.5 6.5M742 972.5l-0.3 12.1M733.1 1193.4l-0.4 6.5M744.7 983.2l-0.4 14.5M735.2 1197.6l-0.3 4.6M731.7 1246.6l-0.4 5.7M744.1 1134l-0.5 8.7M732.7 1283.7l-0.4 4.6M749.7 1127.9l-0.4 6.8M748.9 1139.6l-0.4 5.7M748.6 1177.2l-0.7 8.7M758.4 1071.9l-0.5 8.5M752.3 1162.7l-0.5 5.7M766.4 1025.9l-1 20.2M755.2 1185.3l-0.6 6.2M769.6 1017.9l-0.3 6.6M759 1170.8l-0.4 4.5M752.3 1284.2l-1 6.6M775.6 1098.8l-0.5 5.6M772.7 1131.7l-0.5 5M763.9 1230.6l-0.7 5.4M781.8 1089.3l-0.5 5.5M780.2 1134.9l-0.5 5M768.9 1226.8l-0.9 6.5M793.2 1007l-0.6 10.3M784.7 1115.8l-0.9 9.3M771.5 1239.1l-1.2 7.8M769.5 1251.9l-1.3 8.3M769.5 1264.8l-1 5.9M777.5 1229.3l-0.8 5.2M796.9 1145.2l-0.9 6.6M776 1284.1l-1.4 6.7M797.9 1173.1l-1.4 8.8M789.7 1222.9l-1.6 8.9M818.9 1010.7l-2.4 30.3M805.2 1140.4l-0.7 4.7M804.5 1145.1l-1 7.3M793.1 1216.7l-1.1 6M816.6 1069.3l-1.7 15.7M804.7 1161.3l-0.6 4.2M780 1292.9l-1.7 7.4M805.7 1170.5l-0.7 4.3M809.9 1159.6l-1.1 6.8M833.8 957.8l-0.2 4.7M794.3 1255.3l-0.9 4.1M814.6 1161.3l-0.9 5.2M813.8 1166.5l-1.4 8.3M828.1 1107.9l-0.8 5.7M805.4 1234.1l-1.7 7.5M791 1309.4l-0.7 2.6M853.7 901l-0.5 20.6M826.3 1178.5l-1.6 7.8M846.6 1071.5l-2.5 18M831.4 1165l-1 5.2M803.2 1285.7l-2 7.1M830 1183.8l-1.2 5.5M826.2 1201.2l-1.1 5.1M820.6 1251.7l-1.6 5.8M837.5 1193.3l-2 8.4M818.4 1287.3l-2.2 6.8M849.6 1182.6l-1.1 4.5M828.7 1260.1l-1.2 4.1M880.6 1025.2l-2.8 21.7M852.9 1178.8l-1.9 7.7M878.7 1060.3l-2.1 13.3M876.6 1073.6l-2 11.9M879.1 1105.2l-2 10M869.4 1171.4l-1 4M864.2 1190.9l-1.8 6.6M890 1104.6l-2.3 10.9M880.4 1157.3l-1.5 5.8M888.4 1135.3l-1.6 6.5M839.6 1293.2l-1.6 4.2M898 1104.5l-2.1 9.6M891.5 1133.1l-2.1 8.8M860 1242.2l-1.9 5.7M873.3 1215.4l-2.3 7.1M884.5 1186.9l-1.2 4M909.2 1102.2l-1.9 8.3M877.2 1217.4l-2.6 7.7M869.7 1239.2l-2 5.6M866.3 1248.8l-3.1 8.4M929.7 1001l-4.5 31.6M858 1276.1l-3.2 8.1M918.3 1084.9l-2.5 11.4M893.5 1180.9l-2 6.3M886.3 1203.7l-1.8 5.5M921.9 1080.8l-2 9.3M896.1 1188.1l-2.1 6.5M932.1 1071.4l-0.3 1.5M903 1181.6l-2.3 7.2M869 1273.8l-2.5 5.9M905.3 1196.2l-1.6 4.4M960.7 1006.9l-4 24.1M900.5 1227.7l-1.7 4.3M881.7 1272.6l-3.8 8.4M940.5 1115.2l-2 7.1M907.3 1216l-2.9 7.3M900.9 1232.2l-2.3 5.7M908.1 1219.8l-3.3 8.2M940.9 1132.1l-1.7 5.7M970.1 1019.6l-4.9 26.2M882.1 1296.8l-3.2 6.4M919.6 1219.4l-2.5 6M886.8 1291.2l-3.9 7.8M932.2 1193.7l-3.2 8.1M897.7 1273.1l-3.6 7.4M919.6 1235l-3.8 8.4M911.2 1253.5l-4.3 9M898.3 1284l-4.3 8.3M893.1 1297.5l-4.5 8.3M940.1 1208.8l-3.9 8.9M966.7 1147.3l-2.1 5.7M927.5 1241.5l-2.4 4.9M959.8 1172.5l-1.7 4.3M923.4 1254.4l-2.1 4.1M1018.8 966.7l-8.8 53.9M919.7 1269.7l-4.1 7.7M978.6 1149.4l-3.3 8.7M948.8 1220.1l-3.9 8.1M927.5 1262.7l-3.4 6.4M1005.1 1076.5l-2.7 9.4M909.3 1299.2l-5 8.6M1032.9 947.1l-4.2 33.2M984.6 1147.1l-2.8 7.3M972.1 1178.2l-3.2 7.5M1010 1078.6l-2.2 7.4M1005 1095.4l-3.2 10M995.4 1124.4l-3.5 9.9M991.9 1134.3l-3.8 10.3M996.6 1128.5l-4.4 11.9M1005.3 1111l-3.5 10M990.6 1151.2l-5.3 13.2M972.2 1194.5l-2.5 5.5M1043.6 957.7l-6.8 44M1036.7 1001.7l-7.2 34.2M1024.2 1057.3l-6.6 23.5M950.2 1247.9l-3.6 6.7M1023.1 1080.6l-2.3 7.5M942.1 1266.3l-5.1 8.9M1053 952.8l-3.5 25.5M1028.6 1071.2l-2 6.6M1020.7 1104.8l-2.1 6M1004.9 1146.9l-4.7 11.3M992 1177.2l-3.2 7M1013.1 1132.9l-3.6 9M1026.8 1102.6l-2.7 7.6M943.7 1277.4l-4.5 7.3M988.6 1204.3l-6.6 12.8M1066.1 984l-14.6 65.3M1050.1 1054.6l-3.1 10.8M938.1 1298.6l-5.2 7.8M1055 1056.8l-0.9 3.1M985.9 1222.6l-3.8 6.9M960.6 1266.2l-5.1 8.3M1073.9 989.5l-4.6 22.7M1048.3 1087l-2.5 7.3M1038 1115.6l-4.6 11.9M1034.4 1137.5l-4.8 11.2M1019.2 1171.2l-5.2 10.6M974.5 1253.8l-3.5 5.7M1095.3 946.1l-5.7 36.9M962.8 1284.8l-5.9 8.7M1106.6 924.3l-9.9 67.9M1073.3 1085.6l-4.6 12.5M1046.1 1151.3l-3.4 7.2M1084.1 1061.8l-2.9 8.9M1117.7 889l-3.2 45.4M1087.3 1076.9l-4.3 11.8M1076.3 1105.8l-4.6 11.2M1047.5 1168.8l-5.7 11M1125.1 917l-7.5 57.6M1096.3 1067l-4.6 13.1M1015.1 1233.6l-8.5 13.3M986 1277l-4.3 6M1103.9 1052.4l-5.9 17.6M1088.8 1094.9l-4.3 10.6M1081.4 1112.8l-2.9 6.7M984.2 1282.3l-9 12.3M1121.4 998.9l-7.6 29.9M1027.8 1227.5l-6 9.3M1132.6 1000.3l-7.9 30.2M1085 1133.8l-5.2 10.6M1060.3 1181.3l-7.1 12.4M1037.5 1219.5l-4.3 6.7M997.4 1278l-7.1 9.6M1055.1 1194.5l-5.1 8.6M1038.9 1220.8l-8.8 13.5M999.8 1280.1l-5.9 7.7M1118.4 1074.5l-3.4 8.8M1120.8 1075.3l-5.3 13.5M1078.8 1165.6l-7.2 12.8M1089.8 1149.9l-3.4 6.4M1035.3 1242.7l-9.4 13.2M999.9 1290.1l-5.4 6.8M1161.6 958.4l-10.5 49M1151.1 1007.5l-6.2 22.1M1044.4 1232.7l-7 10.1M1112.4 1125.4l-4.9 9.8M1063.6 1210.8l-9.3 14M1005.5 1290.4l-10.6 12.9M1151 1037.4l-8.5 24.5M1054.5 1230.9l-6.8 9.6M1176.3 959l-10.3 47M1146.7 1065.5l-2.9 7.5M1122.4 1121.2l-6.1 12M1116.3 1133.2l-4.3 8.3M1028.8 1268.6l-6.4 8.1M1083.6 1194.4l-8.8 13.5M1040.6 1256l-8.9 11.5M1053.2 1241.9l-9.7 12.9M1013.8 1294.3l-7.2 8.5M1175.9 1011.8l-5.8 19.3M1130.7 1125.5l-5.6 10.7M1091 1193.9l-6 9.2M1125 1145.8l-7.5 13.1M1165.3 1067.4l-5.8 14M1148.7 1105l-5.1 10.4M1045.7 1265.4l-6.7 8.3M1137.1 1133l-4.3 7.9M1132.8 1140.9l-7.7 13.6M1097.8 1197.9l-6.3 9.3M1020.2 1298.1l-9 10.1M1125 1158.9l-5 8.3M1213.8 884.5l-2.1 33M1135 1146l-6.5 11.2M1098 1211l-4.4 6.1M1223.9 956.9l-17.9 68.7M1115.5 1199.5l-5.7 7.9M1166.4 1126.9l-7.3 12.8M1078.7 1253.2l-7.2 8.5M1143.9 1168.4l-8.7 13M1095.3 1235.4l-7.4 9.2M1219.9 1018.3l-5.5 16.2M1176.3 1118.3l-4.6 8.3M1152.7 1158.4l-6.9 10.7M1094.7 1238.9l-6 7.3M1246.9 879.5l-5.3 60.4M1233.4 981.1l-7.9 28.5M1157.8 1154.3l-7.4 11.5M1144.8 1174.4l-7.9 11.6M1240.9 960.7l-4.5 20.1M1230.7 1002l-10.9 33.1M1164.8 1147.2l-7.5 11.9M1247.1 942.5l-10.5 48.6M1134.4 1196.1l-8.6 11.6M1103.2 1239.2l-8.2 9.8M1085.6 1259.9l-6.2 7M1226.3 1040.5l-13.4 31.8M1137.8 1197.9l-8.7 11.6M1238.6 1013.8l-4.8 14.1M1233.8 1027.9l-10.5 27.1M1188.4 1124.9l-7.8 13.2M1218.4 1072.3l-3.5 7.4M1171.4 1156.6l-6.4 9.6M1133.8 1209.4l-9.7 12.3M1078.6 1276.7l-10.6 11.2M1156.4 1185.6l-7.3 9.9M1207.7 1109.4l-7.9 13.8M1199.8 1123.3l-5.7 9.6M1091.5 1267.2l-8.7 9.4M1145.4 1206.3l-4.8 6M1140.7 1212.4l-11 13.6"/><path stroke="#0027a4" d="M150.4 1068l6.2 12.7M193.2 1140.7l4.8 7.4M203.9 1157l9.6 13.8M176.1 1102.7l6.5 11.8M287.6 1257.1l7.1 7.8M305 1276l12.3 12.7M151.1 1044l10.1 23.5M131.4 973.7l6.3 23.8M273.3 1235.9l7.5 8.7M170.6 1075.9l3.5 7.4M212.5 1150.9l9.2 13.9M150.5 1019.6l6 16.8M166.2 1059.9l5.4 12.2M236.5 1182.6l7.6 10.5M172 1066.8l4.8 10.4M248.1 1195.3l7.6 10.2M144.3 978.5l6.4 23.7M171.2 1058.7l7.5 16.9M181.6 1081.6l4.4 9M137.3 924l6.4 38.8M297.4 1251.5l12.1 13.9M284.2 1230.2l9.4 11.6M167.9 1001.4l5.5 17.8M292.2 1231.9l5.8 7.2M155.5 927.1l9.2 51.4M192.7 1063.5l3 7.1M224.6 1128.5l6 10.5M251.7 1172.8l4.8 7.3M296.4 1228.9l9.4 11.9M256.5 1165l5.3 8.3M299.2 1226.7l6.4 8.3M167.3 887l1.2 21.2M186.2 1004.9l11.2 34.8M223.4 1101l3.6 7.3M254.6 1157.9l4.2 6.9M314 1242.9l11 13.8M228.1 1105l4.5 9M295.4 1215.5l9.5 12.9M290.8 1205.8l4.6 6.5M199.1 1019l11.6 33.8M246.8 1131l7.2 12.9M290.2 1201.5l7.4 10.5M181.3 917.3l6.8 46.3M289.9 1197.6l8.7 12.7M266.7 1157.1l4.9 8.2M291.2 1196.1l8.3 12.1M188.4 927.6l7.4 45M228.2 1075.7l5.9 13.5M344 1264.6l8.1 9.9M285 1179.1l7.4 11.6M324.4 1236.6l10.4 13.7M245.8 1103.1l5.9 12.1M306.8 1208.7l4.5 6.6M194.1 878.5l2.2 38.8M260 1126.5l4.8 9.1M284 1169.5l7.5 12.2M236.1 1067.9l3.1 7.7M313.5 1211.8l6.1 8.8M312.2 1206.5l4.8 7.2M317 1213.7l7.3 10.5M331.8 1225.2l8 11.4M215.7 896.9l6.3 58.5M277.1 1124.2l3.5 7.1M313.5 1190.2l7 11.1M257.1 1072.3l4.9 12.2M246.8 1035l4.8 14.7M251.7 1049.8l10.8 29.2M333.2 1213.9l5.3 8M315.8 1182l8.1 13.5M317.2 1180.3l6.8 11.4M235.6 923l4.6 35.1M338.6 1207.9l7.6 12M366.4 1243.6l4.2 6.1M278.7 1071.3l4.2 11.1M307.6 1139l6.5 13.1M330.7 1178.4l5.9 10.4M273.6 1039.1l5.1 16M260.9 975.3l5.7 27.1M342.9 1187.2l4.7 8.3M353.9 1206.4l8.2 13.6M281.1 1035.7l10.6 33.3M354.9 1204.2l3.7 6.2M260 873.5l0.7 25.6M292.3 1062.7l3.3 9.5M269.7 957.8l3.7 21.9M319.4 1125.4l5.4 11.9M394.5 1259.9l5.6 8.2M287.2 1027.2l10.4 34.7M349.3 1181.4l7.4 13.5M430.8 1308l3 4M288.2 1020.1l8.8 31M297 1051.1l4.6 14.3M309.5 1088l3.7 9.6M278.3 956.6l5.1 29.5M292.9 1027.2l5.6 19.9M302.4 1050.6l3.9 12.3M374 1213l7 11.9M414.8 1277.8l5.3 7.6M436.3 1308l3 4M309.1 1054.2l4.7 14.9M327.3 1106.2l3.7 9.3M379.1 1213.9l6.9 11.8M385.9 1225.8l5.1 8.5M327.7 1100.4l5.5 14M402.5 1246l5.3 8.6M318.9 1058.6l6.2 19.2M335.4 1099.6l4.5 12M349.8 1129.4l3.2 7.7M385.9 1205.5l5 9.1M430.9 1280.9l4.5 6.7M352.6 1129.9l3.4 8M355.9 1137.9l5.1 11.6M368.9 1166.9l4.4 9.3M396.7 1221l5.7 10.2M441.5 1293.9l2.8 4.1M344.3 1101.8l4 10.8M424.2 1260.7l3.7 6M339.4 1071.4l4.2 13M358.2 1124.5l4.8 11.9M355.3 1110l3.9 10.3M406.2 1221.8l7.4 13.4M359.4 1114l2.7 7.2M420.3 1243.3l2.9 5.1M317.2 885.5l2.9 48.3M355.2 1094.8l4.8 13.7M367 1126.9l4.6 11.5M374.9 1146.6l6 13.9M404.5 1210.1l3.8 7.3M430 1256.4l3.3 5.6M439.2 1271.7l5.1 8.2M393.8 1178.3l4.6 9.9M423 1236.4l3.9 7.1M371.6 1103.4l4.3 12.4M381 1129.7l2.3 6M392.2 1157.7l2.8 6.7M408.2 1193.8l6.3 13.2M338.6 940.5l7 50.4M420.8 1214.9l4.1 8.1M373.3 1092.2l4.3 13.1M421.1 1210.8l3.2 6.5M463.1 1288.3l3.5 5.7M451.8 1265.4l5 8.7M465.5 1289.1l3.2 5.4M427.4 1214.4l4.1 8.3M412.5 1170.8l4.7 11.1M460.5 1269.9l5 9M387.4 1094.2l4.4 13.9M427.2 1193.9l3.8 8.6M396.6 1088.7l1.9 6.5M428.9 1180.9l2.2 5.4M441.1 1209.3l2.2 4.8M462.1 1253.2l2.5 5M416.1 1141l1.6 4.5M441.4 1204.7l2.2 4.9M443.7 1204.7l3.4 7.8M438.6 1186.9l2.2 5.5M411.7 1103.3l3.2 10.4M400.8 1051.4l4.3 17.9M483.8 1275.7l3.1 5.9M391.8 988.4l1.7 10.7M456.5 1212.9l2.7 6.3M453.6 1200.5l3.7 8.9M499.4 1298.1l2.4 4.4M394.5 933.9l3.6 35.9M408 1032.4l6 28.2M453.3 1187.8l2.4 6.1M443.7 1154.8l2.8 8M475 1229.7l2.9 6.7M497.1 1278.1l2.1 4.3M413.6 1016.3l2.4 13.4M418.5 1042.4l7.7 34.6M459.5 1185.3l2.7 7.1M438.5 1113.2l2.5 8.6M485.3 1243.5l3.8 8.7M452.1 1149.5l1.8 5.4M463.1 1181.7l2.2 6M482.3 1214.5l1.8 4.6M521.4 1304.2l3.8 7.8M459.9 1142.1l2.1 7M439.1 1046.8l4.1 20M466.4 1146.6l1.5 4.9M479.4 1187.1l2.9 8.3M486.9 1195.2l2.1 6.1M514.6 1267.6l1.8 4.3M486.9 1188l1.8 5.4M498.6 1221.4l3.1 8.5M504.9 1232.4l2.6 6.8M448.7 1000.4l1.9 13.5M476.9 1138.6l2.4 8.6M517.2 1253.4l1.7 4.3M486.7 1155.6l1.8 6.1M503.8 1203.3l2.9 8.7M474.2 1083.5l1.6 7.7M459.4 924l2.4 35.6M488.9 1125.2l1.7 7M496.2 1153.6l1.4 5.2M499.7 1166.3l1.7 6M515.5 1217.9l2.5 7.5M492.2 1127.9l1.5 6.1M548.7 1302.5l1.8 4.5M524.5 1231.4l2.9 8.4M539 1272.4l2.9 7.8M526.2 1222.9l1.8 5.7M528 1228.6l1.5 4.5M500.1 1116.6l2.4 10.7M513.6 1162.5l1.6 6.3M521.1 1190.6l1.5 5.3M536.4 1227l2.1 6.8M538.5 1233.8l1.7 5.4M563 1300.5l2.6 7.1M524.2 1165.4l2 8.1M542 1230.8l2.2 7.2M510.6 1089.1l1.9 10.5M519.8 1135.4l1 4.7M562.6 1288.5l2.9 8.4M543.1 1210.9l2.2 8M525.3 1124.2l1.5 7.3M553.5 1239.8l2 7M563.4 1272.8l2.6 8.3M566.1 1281l1.3 4.1M533.1 1149.8l1 4.6M552.6 1228.8l2.3 8.3M540.8 1172.8l1.4 6M544.6 1178.9l2 8.5M546.1 1174.8l1 4.6M570.9 1270.8l1.9 6.4M526.9 1051.8l1.9 13.8M532.6 1090.5l1.4 8.7M551.1 1186.1l1 4.4M558.5 1217.2l1.1 4.5M564.6 1232.4l2.2 8.4M538.8 1096l1.5 9.3M569.9 1244.3l1.7 6.5M558.4 1186.9l2 8.9M554.1 1139.6l1.5 8.4M562.5 1183.2l1.7 8.1M562.9 1173.4l1.7 8.7M567.3 1195l1.4 6.5M566.1 1177.1l1.4 7.2M550.2 1059.1l1.1 9.3M559.7 1127.4l1.4 8.3M574 1204.5l1.8 8.7M578.6 1225.8l1.2 5.1M573 1187.6l0.8 4M581.2 1227.3l1.6 7.3M594.8 1284.5l1.2 4.6M557.8 1076.6l0.7 5.7M561.4 1103.1l1.6 11.4M564.3 1123.1l1 6.8M592.3 1266.3l1.1 4.7M576.9 1183.3l1.2 6.4M603.6 1304.2l1 4M600.1 1282.3l2.1 8.7M567.9 1068.3l1 9.2M575.1 1125.9l0.6 4.3M584.7 1186.2l1.3 7.6M585.7 1126.7l0.7 5.3M592.8 1176.9l1.3 8.5M595 1174.8l1 6.5M583.4 1021.6l1.9 24.5M592.4 1092.7l0.8 8M598 1142.5l0.7 5.3M595.5 1097.4l0.8 7.6M619.4 1268.5l1.2 6.5M619.9 1259.5l1.1 6.4M591.4 951.7l0 1.2M616.6 1224.8l0.8 5.4M617.5 1215.6l0.8 5.8M631 1300.3l1.6 8.8M615.2 1180.7l1 7.9M620.1 1200.4l0.9 6.9M626.3 1230.3l1 7.1M642.9 1291l1 7.2M633.6 1195l0.7 6.6M631 1140.4l0.5 5.5M638 1191.7l0.8 8.7M629.4 1026.2l0.1 2.7M640.9 1197.7l0.6 6M645.9 1248.2l0.6 6M635.1 1084.1l0.4 7.1M647.4 1241.6l0.8 8M655.8 1302.9l0.9 7.9M647.2 1187.8l0.7 8.6M656.3 1244.2l0.7 7.9M649.4 1099.7l0.3 7.1M655.5 1166l0.3 4.9M655.8 1170.9l0.5 8.5M660.2 1238.5l0.6 8.6M662.7 1272.7l0.7 8.5M660.2 1205.1l0.5 8.1M664.4 1143l0.2 5.5M666.4 1125.9l0.3 8.3M667.4 1070.2l0.4 15M671 1183l0.3 8.2M673.3 1238.3l0.4 8.8M674.2 1259.3l0.4 7.7M671.7 989.7l0 2.8M676.5 1113.4l0.1 5.5M680.8 1191.8l0.1 6.1M682.5 1256.6l0.2 7.8M680.2 956.5l0 7.1M682.4 1145.5l0.1 4.4M683.5 1007.5l0.1 15.1M689 1265.6l0.1 6M689.3 1027.9l0.1 15M690.4 1197.5l0.1 7.4M692.3 1092.1l0 6.5M692.6 1163.9l0 4.7M695.2 1295.2l0 8.2M697.5 1174.7l-0 8.8M697.5 1196.4l-0 5M697.4 1220.6l-0 7.2M699.6 1227.9l-0.1 7.3M702.7 1142.9l-0 4.2M702.4 1181.1l-0.1 6.2M702 1211.1l-0.1 5.9M705.2 1147.9l-0.1 4.4M705 1164l-0.1 5.7M704.9 1169.7l-0.1 7.4M709.3 1022.3l-0.2 20.1M708.8 1074.8l-0.1 11.7M707.5 1165.7l-0.1 6.5M704.4 1308.9l-0.1 3.1M707.8 1256.6l-0.2 6.1M714.3 1074.7l-0.1 6.9M710.8 1226.9l-0.2 6.6M709.4 1271.6l-0.2 4.5M711.4 1273.3l-0.3 7.1M714.8 1237.9l-0.3 7.1M724.6 951.8l-0.1 7.7M722.7 1066.5l-0.6 24.7M720.6 1206.5l-0.2 5M725.5 1149.1l-0.2 5.8M724.5 1258.2l-0.5 8.3M731.7 1174.7l-0.5 8.3M729.1 1279.4l-0.5 6.2M732.1 1267.4l-0.4 5.2M749.6 1083.2l-0.4 8.6M742.1 1199.1l-0.6 8.2M746.2 1177.1l-0.6 7.6M751.6 1138.1l-0.6 7.9M746.1 1207.8l-0.4 4.4M746.4 1250l-0.7 6.5M745.8 1288.5l-0.6 4.6M744.6 1297.8l-0.7 5M769.9 1103.8l-0.9 11.5M747.6 1303.7l-0.8 5.4M762.1 1208.8l-1.1 9M763.4 1217.1l-0.6 4.7M775.4 1131.4l-0.8 7.7M792.4 960.4l-0 0.9M790.1 1010.7l-0.1 1M769.6 1221.8l-0.7 5M760.4 1282.9l-1.3 8.1M776.3 1222.6l-1.1 7.2M790.6 1133.8l-0.9 7.5M785 1178.6l-0.6 4.4M781.9 1200.2l-1 6.6M782 1214.7l-1.2 7.4M806.7 1020.3l-0.1 1.3M808.5 1034.4l-2.1 25.2M816.3 952.2l-1.7 35.1M795 1176.4l-0.6 4.1M819.5 946.6l-3.8 68.4M788.1 1231.8l-0.9 5.1M807.7 1141.2l-0.9 6.4M781.6 1285.4l-1.7 7.5M792.4 1243.9l-1.4 7M780.4 1299.6l-1.3 5.6M815.8 1120.1l-1.2 8.4M784.2 1291.2l-1.3 5.7M815.7 1138.6l-1.1 7.4M796.7 1244.1l-1.2 5.8M836.8 956.6l-2 34M785.3 1302.6l-1.5 6.1M832.1 1053.5l-1.1 9.9M833.9 1084.9l-1.2 9.1M831.1 1105.7l-1.3 9M821.7 1163.8l-1.4 7.9M838.4 1070.9l-1.8 14.1M834.2 1119.6l-1 6.4M823.9 1178.2l-0.8 4.2M855.8 932l-1.1 23.5M827.4 1172.5l-1.2 6M813.6 1236.6l-1.1 4.8M838.4 1126.3l-1.2 6.9M835.8 1141.3l-1.6 8.8M815.8 1236.5l-1.7 6.9M801.2 1292.8l-2.2 7.8M840.8 1127.5l-1 5.8M811.6 1269.5l-1.5 5.3M806 1289.6l-1.5 5M845.2 1131.9l-1.1 5.8M837.2 1172.5l-1 4.6M858.9 1062.4l-1.9 13.5M840 1170.9l-1.2 5.7M864.3 1043l-4.8 35M854.6 1108.3l-1.8 10.5M850.1 1133.5l-1.4 7.5M835.5 1201.7l-1.8 7.3M826.4 1237.9l-1.5 5.5M840 1192.7l-1.2 4.9M867.4 1095.9l-1.8 10.1M861.2 1129.4l-1.8 8.7M836 1242.6l-2.6 8.8M839.1 1239.5l-2.2 7.3M871.6 1116.9l-2.2 10.7M862.1 1160.6l-1.5 6.4M837.5 1251.8l-2.4 7.6M883.1 1083.9l-1.2 6.6M839.7 1258.3l-2.1 6.6M870.5 1157l-1.8 7.6M854.1 1218.5l-1.7 5.9M887.8 1087.7l-2.3 11.9M882.4 1127.8l-1.5 6.7M872.3 1169.7l-2.2 8.4M887.7 1115.4l-1.1 5.1M878.9 1163.1l-1.6 6.2M868.5 1200.9l-2 6.7M850.7 1257l-3 8.7M845.2 1272.7l-2.5 6.9M863.6 1224.4l-1.7 5.1M895.9 1114.1l-2.3 10.3M898.1 1116.1l-1.3 5.9M925.2 959.7l-6.5 58.3M896.4 1134.2l-1.3 5.4M905.7 1105.9l-2.6 11.3M901.9 1133l-1.8 7.2M895.8 1156.2l-1.7 6M898.2 1156.4l-1.9 6.7M889.4 1186.4l-1.6 5.2M879.5 1217.4l-1.5 4.4M934.3 1009.9l-3.3 22.1M866.8 1264.1l-2.2 5.6M861.2 1278.2l-3.1 7.6M901.9 1169.5l-1.7 5.7M902 1177l-1.8 5.7M871.4 1263l-2.5 6.3M860.2 1290.1l-2.9 6.8M876.1 1256.4l-2.8 6.9M866.6 1279.7l-2.9 6.8M954.4 925.4l-5.1 58.3M921.1 1128.7l-1.4 5.2M928.4 1111.1l-1.3 5.1M957.6 961.3l-6.1 49.4M928.9 1119.2l-1.5 5.4M925 1133.5l-1.4 5M918.9 1154.3l-1.3 4.2M915.1 1166.5l-1.9 6.1M911.9 1176.6l-1.9 5.6M886.6 1246.1l-3 7.3M918.2 1164.6l-2.9 9M875.9 1276.6l-3.9 8.9M932 1135.9l-2.7 9M902.7 1222l-2.2 5.7M950.1 1077.3l-2.7 11.2M946 1094l-2.9 11.2M880 1280.7l-3.2 6.9M948.8 1104.3l-2.5 9M979.3 950.4l-2.5 23.4M913.1 1218.7l-1.7 4.2M874.4 1304.7l-3.7 7.3M942.6 1151.1l-2.3 6.8M934.6 1174.4l-2.8 7.8M884.9 1291.1l-2.8 5.6M940.3 1172.1l-2 5.5M929.1 1201.8l-1.6 4.1M927.4 1205.9l-2.1 5.1M966.8 1097.1l-2.5 8.8M953.1 1142.4l-2.4 7.1M978 1075.2l-1.4 5.3M955.9 1149.3l-2.1 6M937.8 1203.2l-2.2 5.3M971.8 1116.3l-3.5 11.1M958.9 1155l-1.8 5M963.1 1150.3l-2.4 6.7M917.1 1258.6l-3 6.1M1018.3 902l-1.6 26.5M909.5 1281.4l-2.2 4.1M1021.7 892l-3.5 54.7M959.9 1184.3l-3.1 7.4M1027.6 894.5l-1.1 22.9M976.2 1149.2l-5.2 13.6M901 1307l-2.9 5M997.9 1092l-1.9 6.4M996 1098.4l-1.6 5.3M988.8 1120.7l-4 11.7M998.2 1099.9l-2.3 7.4M933.4 1255.4l-4 7.7M1017.4 1039.2l-2.2 9.3M988.1 1137.5l-3.6 9.6M956.7 1212.8l-2.4 5.1M1027.3 1005.7l-2.2 11.1M1007.8 1086l-2.9 9.4M988.1 1144.6l-3.1 8.2M968.7 1191.7l-4 8.8M943.9 1243.5l-2.2 4.2M930.3 1269.1l-2.2 4M928.1 1273.1l-4.1 7.3M913.5 1298.6l-2.8 4.8M958.6 1218.5l-3.9 8M945.8 1244l-3.3 6.3M1015.3 1079.3l-3.2 10.5M955.8 1228.8l-2.4 4.8M1029.5 1035.9l-3.1 12.6M1020.8 1079.3l-2.6 8.4M959.4 1230.5l-2.5 4.8M944 1259.1l-2.9 5.3M1014.7 1106.6l-2.1 6.2M986.7 1178.2l-4.9 10.8M963.6 1230.8l-3.1 5.9M950.1 1255.8l-4.8 8.5M1057.9 935.2l-2.3 20.7M1000.3 1158.2l-3 7M1031.4 1080.3l-1.7 5.5M1023.3 1105.1l-2.6 7.5M1009.5 1141.9l-3.9 9.6M1040.3 1059.6l-2.4 8.3M1037.9 1067.9l-1.6 5.3M959.7 1250l-3.8 6.6M1030.9 1098.4l-2.5 7.2M964.7 1244.9l-4.9 8.6M943.1 1281.6l-4.5 7.2M1032.5 1101.6l-2.9 8M1047 1065.4l-1.7 5.6M1045.3 1070.9l-2 6.4M1035.8 1107.2l-4.4 11.8M1024.2 1137.3l-3 7.3M997.2 1196.6l-7.1 13.9M1055.3 1073.9l-3.4 10.4M1084.1 963.1l-13 65.4M1063.2 1057.5l-7.6 24M1033.6 1145.2l-3.3 7.3M964.8 1275.8l-3.1 4.7M989.2 1240.2l-5.9 9.8M1034 1160.9l-6.5 13.5M1041.1 1151.1l-6 12.6M1010.5 1211.1l-3.6 6.5M1064.7 1108.2l-2.5 6.2M969.9 1283l-6 8.6M1094.3 1027.1l-6.7 23.8M1016.4 1212.9l-5.2 8.8M969.6 1289.1l-5.4 7.5M1009.9 1231.3l-8.7 13.8M1001.3 1245.1l-8.8 13.6M964.4 1299l-5.8 7.8M1015.5 1225.8l-5.1 8.2M1051 1171.5l-7 13.1M1075.2 1127l-2.8 6.2M1094.1 1088l-3.6 9.1M1075.4 1132.3l-3.6 7.6M1116.4 1029.6l-8.7 28.3M992.4 1276.5l-8.4 11.5M1124 1011.8l-6.1 22.4M1021.8 1236.8l-6.4 9.6M1122.7 1027.6l-4.3 14.4M1112.2 1061.1l-4.8 13.5M1103.8 1084l-2.7 6.9M1060.9 1175.9l-7.3 13M1000.5 1270.8l-4.6 6.3M1100.9 1098.1l-3.3 7.9M973.2 1309.5l-2 2.5M1097.9 1111.5l-4.4 9.9M1023.7 1243.9l-5 7.3M1112.4 1089.8l-3 7.2M1047.8 1217.6l-7.8 11.8M1134.6 1044.4l-4.3 12.8M1110.5 1107l-3.4 7.6M1107 1114.7l-4.9 10.5M1137.2 1045l-4.7 13.8M1117.7 1096.5l-5.2 11.8M1054.3 1224.8l-8.2 11.8M1131.8 1088.9l-4.9 11.3M1066.2 1210.4l-6.8 10.2M1046.5 1239.2l-5.9 8.1M1000.1 1299.4l-10.6 12.6M1140.7 1080.5l-5.5 12.9M1146.8 1072.2l-4.8 11.8M1058.8 1231.1l-7.3 10.2M1160.6 1050.4l-6.6 17.5M1105.4 1170.9l-5.6 9.1M1101 1181.9l-4.6 7.2M1050.3 1254.3l-8.6 11M1172.3 1041.2l-8.1 22M1099.5 1191.7l-7.4 11.1M1176.9 1044.2l-6.9 18.5M1181.8 1038.3l-10.2 27.3M1157.3 1098.1l-5.4 11.3M1112.4 1179.3l-5.4 8.4M1189.6 1023.3l-9.9 28.4M1045.8 1272.7l-8.5 10M1167.3 1088.2l-3.2 7M1093.6 1217.1l-4.4 6.1M1192.6 1054.6l-12.1 28.6M1034.1 1297.4l-9.6 10.4M1077.9 1249l-6.5 7.9M1078.2 1251.2l-10.2 12.2M1184.2 1092.7l-6.9 13.9M1139.3 1171.7l-7.1 10.7M1172.6 1120.3l-4.8 8.7M1033.8 1305.8l-6 6.2M1243.6 890l-7.7 66.2M1171.8 1126.6l-4.9 8.6M1078.9 1257.9l-8.8 10.2M1150.4 1165.9l-5.6 8.5M1094.1 1242.3l-10.6 12.6M1078.3 1261.1l-9.3 10.6M1247.1 920.9l-6.2 39.7M1135.3 1198.1l-6.1 8.2M1234.3 1018.1l-8 22.3M1177.1 1139.6l-5.6 9.1M1258.5 961.1l-5 21.4M1250.6 993.1l-3.9 13.1M1243.3 1016.8l-5.8 16.5M1175.8 1157.6l-8.6 12.7M1103.6 1251.4l-8.7 9.8M1273.9 881l-4.4 51.7M1189.2 1140.7l-8.7 13.6M1162.1 1180.9l-8.1 11M1111 1245.3l-7.3 8.3M1202 1124l-4.3 7.2M1171 1171.9l-7.2 10.1M1100.7 1259.4l-7 7.7"/><path stroke="#003bb1" d="M198 1148.1l5.9 8.9M315.1 1290.5l14 13.9M187.6 1127.4l7.2 11.7M119.9 928.3l14.7 68.5M161.2 1067.5l6.5 13.7M231.7 1186l5.7 7.6M142.3 1012.1l11.3 31M175.5 1091.4l5.3 10.1M180.8 1101.6l6.4 11.6M187.2 1113.2l4.2 7.5M225.5 1173.9l9.9 13.9M263.3 1223.8l10.1 12.1M313.9 1281.2l13.5 14M135.5 978.6l10.1 34.9M174.2 1083.3l6.8 13.6M192.7 1118.3l4.8 8.3M260.9 1218l8.9 11M264.5 1219.7l9.6 11.8M200 1121.9l5.3 9.2M131 872.5l1.1 28.6M201.2 1119.4l6.4 11.1M134 864l3.3 60M161 1024.9l13 33.6M248.6 1189.5l8.2 11.3M139.6 918.3l7.8 48M301.4 1253.6l8.2 9.5M234.6 1157.9l6.2 9.5M279.8 1221.8l7.5 9.5M213.3 1117.5l3.5 6.3M280.1 1219.3l9 11.5M301.8 1246.5l7.7 9.1M183.2 1046.9l11.7 28.1M343.5 1291.9l12.3 13.1M164.8 978.5l5.2 20.3M318.5 1261.4l6.9 8M325.4 1269.4l10.9 12.4M158.9 930.1l4.2 26.3M230.8 1130.3l7.8 13.6M243.8 1148.4l7.2 11.9M224.3 1108.2l7.3 14M269.3 1184.7l9.2 13.5M227.1 1108.4l5.7 11M286.6 1203.1l8.8 12.4M224.4 1091.7l3.3 7M253.9 1143.9l6.3 10.9M217.6 1063.3l2.9 7.1M247.3 1127.1l5.5 10.2M308.8 1224.5l8.5 11.4M182 876l2.2 40.7M250.4 1128l3.8 7.1M240.1 1102.2l4.9 10.1M279.4 1174l3.8 6M357.6 1278.7l6.4 7.6M237.3 1084.1l3.2 7.2M291.5 1181.8l7.5 11.8M286.7 1165.7l7.7 12.9M249.2 1080.1l5.6 13.1M258.8 1102.3l4.2 9.1M271.5 1128.7l6.2 12M291.2 1165.1l4 6.9M211.6 921.4l8.6 55.8M230.8 1019.7l6.2 19.9M347.8 1247.7l4.5 6.1M339.5 1233.2l5.7 8M333.3 1217.5l5.3 7.9M271.2 1093.8l5.2 12M311.9 1175.3l3.9 6.6M323.9 1195.5l3.9 6.3M336.1 1214.8l4.6 7M258.1 1043.6l11.1 31.6M349.7 1228.5l8.5 12.5M254.8 1023.4l10.1 32.2M284.6 1106.3l5.6 12.5M351 1227.2l7.3 10.9M285 1100.8l4.1 9.5M240.5 911.1l8.6 64.1M378.7 1258.3l6.4 9M323.4 1160.3l3.5 6.7M345.3 1199.8l5.7 9.6M279.3 1048.3l11.7 33.7M255.6 912l4.7 42.4M272.8 1015.9l6.7 23.9M347.6 1195.6l6.3 10.8M291.7 1068.9l3.2 8.9M332 1162.4l4.5 8.6M336.5 1171.1l5.3 10M362.7 1213.4l7.5 12.4M304.5 1088.9l2.8 7.3M330.8 1150l4.8 9.7M382.3 1241.4l4.2 6.4M319.3 1119.2l3 6.9M334.4 1152.1l4.8 9.8M356.7 1194.9l6.9 12.2M397.8 1261.7l4.6 6.8M347.2 1172.9l3.4 6.5M354.2 1186l7.6 13.7M357.7 1188.1l6 10.9M376.1 1220.6l6.6 11M382.8 1231.7l8.5 13.7M298.1 1035.6l4.4 15M344.7 1158l3.2 6.5M298.4 1026.2l10.1 34.9M324.6 1106.3l3.2 7.9M327.8 1114.3l3.2 7.7M331 1121.9l5.3 12.4M342.4 1147.8l5.8 12.2M357.7 1179l3.9 7.4M379.8 1219.2l4.8 8.1M424.3 1288.6l5.6 8M308.1 1041.3l9.2 30M349.2 1151.4l5.8 12.3M393.3 1234.5l4.4 7.2M427.8 1288l4.8 6.9M320 1071l3.5 10.2M292.1 920.7l4.6 40.1M328.5 1087.9l4.2 11.5M372.7 1189.2l3.9 7.4M294 906l6.8 62.7M300.8 968.7l10.1 50.5M405.3 1243.5l4.3 7M419.5 1266.4l4.6 7.1M392.1 1212.6l4.6 8.4M444.3 1298.1l3.1 4.5M302.7 899.3l4.8 54.4M356.4 1132.9l5 11.8M327.3 1039.1l7.1 25.1M380.3 1180.4l4.6 9.3M419.8 1253.4l4.4 7.4M331.7 1045l5.4 19M348.1 1097.4l4.9 13.6M363 1136.5l2.6 6.3M382.5 1180.1l3.7 7.7M406.9 1227.2l5.4 9.7M348.7 1083.3l4 11.9M459.5 1306.7l3.6 5.3M351.5 1083.5l3.7 11.3M387.6 1170l4.4 9.7M400.7 1187.9l5.9 12.2M455.7 1289l3.2 5.2M366.6 1096.5l4.5 13.1M371.1 1109.6l4.8 13.3M375.9 1123l2.9 7.8M382.2 1139.4l4.6 11.4M386.8 1150.7l3.3 8M422.2 1226.6l2.1 4M405 1186.8l3.2 7M396.7 1162.6l5.4 12.5M407.2 1186.6l5.2 11.1M412.4 1197.7l6 12.4M392.1 1145l4 9.9M365.9 1057.6l3.1 11.2M375.4 1090.1l2 6.3M344.5 897.5l4.2 54.3M348.7 951.8l7 47.2M357.6 1009.2l6.3 29M366.6 1049.1l4.6 17.4M431.4 1222.7l2.2 4.4M456.2 1269.6l2.9 5.2M384.4 1101.7l2.7 8.1M405.7 1160.3l4.4 10.7M424.4 1203.2l4.2 8.8M473.1 1295.4l3.3 5.6M369.1 1036.3l4.6 18.9M435.5 1221.7l3.4 6.8M353.3 891l3.6 54.4M361.8 983.1l6.2 34.9M371.1 1019.1l4.6 21.2M409.7 1151.3l4.6 11.8M376 1028.7l7.6 32.2M392.5 1093.2l3.8 12.2M487.9 1307.7l2.6 4.3M428.2 1185l3.7 8.6M463.9 1260.8l3.7 6.9M415.9 1147.4l2.7 7.2M421 1154.3l2.7 7.2M491.4 1304.1l4.5 7.9M476.4 1273l3 5.7M381.7 979.8l9.5 54.2M391.1 1019l3.1 15.3M457.5 1220.6l3.9 8.7M474.2 1256.3l2.4 5M411.5 1083.5l2.6 9.4M421.6 1109.7l2.4 8M429.5 1135.2l1.5 4.4M436.2 1154.7l2.9 8.2M491.9 1283.7l3.7 7.1M396.9 983.6l5.5 34.4M441 1161.1l1.6 4.4M485.2 1266.1l2.1 4.3M398 969.8l10 62.5M428.4 1114.8l3.5 11.4M433.7 1132.1l1.3 4M446.5 1162.8l2.2 6.3M448.8 1169.1l1.6 4.4M449.6 1164.4l2 5.6M461.7 1197.3l2.8 7M473 1224.9l2 4.7M499.2 1282.3l3.3 6.6M447.7 1151.5l1.7 5M436.3 1105.5l2.1 7.6M446.7 1140.7l2.8 8.9M466.1 1196.4l3.3 8.5M441.2 1103.8l1.5 5.6M492.6 1250.2l3.7 8.3M519 1306.9l2.5 5.1M446.4 1113.2l1.9 6.7M474.6 1200.2l3.2 8.5M418 929.1l2.2 27.2M449.1 1068.6l2.6 11.7M453.6 1088.7l1.5 6.2M460.6 1116.9l2.5 9.2M466.4 1137.8l2.6 9M469 1146.8l1.9 6.4M488.4 1206.1l2.6 7.2M473.2 1143.8l2.4 8.1M522.7 1281.9l3.6 8.4M532 1303l3.4 7.4M437.1 885.5l0.8 25.9M523 1277.8l2.6 6.1M450.6 1013.9l3.2 20.1M479.3 1147.3l2.6 9M521.2 1268.6l2.9 7M485.5 1160l2.4 8M462.1 1049.6l1.3 7.1M463.4 1056.6l4.4 22.4M495.3 1184.4l2.8 8.9M529.9 1280.1l1.9 4.5M460.4 1021.8l4.8 29.4M508.4 1217.1l2.5 7.1M465.1 1034.2l4.5 26.3M501.4 1172.2l1.7 5.8M513.3 1211.2l2.2 6.7M533.6 1269l1.7 4.6M482.7 1085l1.9 9.1M509.2 1190.7l2.5 8.2M514.5 1207.7l1.9 6M516.4 1213.7l2.1 6.5M520.9 1227.3l1.5 4.5M532 1258.9l2.4 6.4M504.1 1164.3l2.4 8.7M545.2 1288.7l1.8 4.5M467.9 914.2l3.7 55.8M533 1250l2 5.8M529.5 1233.1l2.8 8.5M511.3 1163.4l1.1 4.1M507.5 1137.9l1.9 7.8M530.3 1221.7l2.2 7M528 1206.5l2.4 8.2M542 1244.9l1.8 5.7M557.6 1285.2l1.7 5M529 1184.3l1.9 7.3M513.6 1105.1l1.8 9.4M547.3 1241l1.7 5.7M530.2 1169.8l1.4 5.5M525.4 1137.3l0.9 4.1M528.8 1153.2l1.8 8M562.6 1276.5l2.5 7.7M569.4 1297.1l2.8 8.2M530.8 1150.8l1.6 7.1M534.7 1168.1l1.2 5M516 1053.7l4.5 29.8M562.3 1262.4l1.6 5.1M570.9 1289.8l2.4 7.3M525.8 1098.8l1.1 6.1M533.2 1137.9l1.3 6.4M550.6 1203.9l1.6 6.4M560.4 1233.3l2.2 8.1M547.5 1170.2l0.9 4.2M581 1297.6l2.6 8.3M541.9 1129.6l1.5 8.2M545.9 1150.3l1.1 5.6M561.5 1219.9l2.1 8.4M568.5 1247.2l1.5 5.4M533.6 1060l0.3 2.4M581.1 1285.1l2.2 7.5M549.1 1140.8l1 5.2M552.7 1159.2l0.9 4.3M551.5 1139.7l1.1 5.8M556.7 1154.2l1.4 7.2M555 1096.1l1.6 10.8M590.8 1276.8l1.6 6.3M568.8 1165.5l0.9 5M571.4 1179.3l1.6 8.3M565.3 1129.9l1.3 8.4M583.2 1226.4l1.2 5.6M596.5 1283.7l1.2 4.6M576.3 1165.9l1.2 6.7M583.5 1205.6l1.2 6.1M593.9 1245.4l1.6 7.3M566.2 1052.6l1.4 13.6M577.5 1103.9l1.5 11.6M609.8 1271.7l1.4 7M611.3 1278.7l0.8 4M614.9 1295.8l0.9 4.4M590.2 1141.5l0.8 5.8M609.5 1259.7l1.6 8.2M576.9 958l1.5 30.4M614.8 1265.9l1 5.5M600.3 1160.2l1.1 8.5M610.8 1230.8l0.9 5.6M591.1 1048.1l1.4 16.7M598.4 1099.3l0.9 8.8M602.5 1137l0.5 4.6M616.6 1239.2l1.2 7.3M602.7 1115.1l0.8 8.1M606.1 1146.6l0.7 5.7M610.5 1182l0.6 4.8M618.4 1237.1l1.3 8.3M602.2 998.8l0.8 14.5M604.3 1035.9l1.4 20.7M609.7 1105.1l0.6 7M635.6 1294.2l0.8 4.8M627.2 1201.6l0.6 4.7M639.9 1296.8l0.9 6.2M619.1 1089.4l0.4 5.9M622.3 1128.3l0.4 4.8M625.6 1136.8l0.8 8.7M638 1235.8l0.7 6.3M623.2 1015.8l0.5 10.2M625.9 1067.5l0.6 10.1M629.2 1117.2l0.8 10.3M634.6 1180.4l0.8 8.4M638.5 1219.9l0.4 4.2M649.8 1299.6l0.7 5.4M639.9 1186.1l0.5 5.6M645.1 1240.7l0.8 7.4M642.8 1191.9l0.4 4.4M654.2 1305l0.5 4M640.4 1126.5l0.4 6.3M646 1202l0.8 8.9M648.5 1230.5l0.5 5.7M638.2 1032.6l0.6 13.8M657.1 1297.1l0.7 6.4M640.8 1024.8l0.3 8.7M642.4 981.7l0.4 14.7M650.3 1117.6l0.6 11.8M650.9 1129.3l0.2 4.2M660.4 1269.4l0.4 4.9M665.5 1306.5l0.5 5.5M653 1052.9l0.1 3.1M659.6 1194.3l0.3 5.2M656 1056.5l0.4 13.4M668 1289.8l0.4 5.2M666 1226.4l0.2 4.2M666.4 1187.7l0.3 6.6M672.6 1301.7l0.3 4.9M672.9 1306.6l0.3 5.4M670 1214.5l0.4 8.9M667.2 1058.4l0.3 11.8M671.8 1203.4l0.3 6.5M675 1275.9l0.4 7.8M670.8 1094.2l0.2 9.8M671 1104l0.3 11.8M673.1 1075.2l0.1 7M676.8 1127.2l0.1 6.2M681.5 1220.3l0.1 4.3M684 1304.8l0.2 6.2M682.9 1176.5l0.1 5M684.6 1122.7l0.1 6.5M686.9 1084.4l0.1 9.9M687.8 1181.6l0.1 6.5M690.1 1159.3l0.1 7.1M690.5 1204.9l0.1 7.9M693.1 1269l0 8.8M695.1 1143.2l0 4.4M695.1 1210.2l0 6M697.3 1249.7l-0 4.5M699.9 1184.6l-0 6.6M699.1 1288.3l-0.1 7.3M703.3 1070.9l-0 3.2M703.2 1087.7l-0.1 6.7M701.2 1278.9l-0.1 5.8M705.3 1141.7l-0.1 6.2M710.6 1131.9l-0.2 8.1M709.2 1200.4l-0.2 7.9M708.7 1221.1l-0.2 8.6M707.4 1269.2l-0.2 6.7M710.6 1233.6l-0.2 6.3M718.7 954.1l-0.1 7.4M714 1195.6l-0.2 8M721.6 953l-0.1 7.5M716 1206.3l-0.3 8.9M715.2 1227.7l-0.2 5.5M723.3 1040.4l-0.3 13.5M714.1 1299.1l-0.4 7M719.3 1235.8l-0.2 4.9M730 989.3l-1.2 57.6M721.6 1234l-0.3 5.8M732.7 1002.1l-0.8 34.7M729 1124.4l-0.3 6.4M734.7 1037.9l-0.5 18.7M737.1 1118.6l-0.3 7.2M728.8 1304.2l-0.5 5.1M745.4 1112.5l-0.5 8.8M757.6 923.9l-0.2 12.1M755.6 1008.9l-0.5 14.2M742.2 1225.7l-0.5 5.2M763 955.8l-0.4 16.2M755.9 1148.5l-0.7 8.6M764.8 1056.3l-0.6 10.3M767.6 1055.8l-0.9 14.3M751.5 1242.5l-0.9 7.8M744 1302.8l-0.7 5.5M775.3 934.7l-1.3 45.9M769.6 1069.9l-0.4 6M760.7 1178.7l-0.4 4.2M776.3 996.7l-1.1 24.1M765.2 1157.8l-0.8 8.7M773.8 1087.5l-0.5 6.7M761.1 1217.7l-0.9 7.3M780 1077.5l-0.5 6M790.1 940l-0.1 2.2M761.3 1264.2l-1 6.6M756.7 1293.5l-1.1 6.5M778.5 1150.4l-0.9 8.2M777.6 1158.6l-0.5 4.2M785.6 1154.7l-0.5 4.4M806.9 965.6l-0.1 1.5M776.6 1247.9l-0.8 4.6M786 1204.3l-1.1 7.2M780.3 1238.7l-1.2 6.9M769.5 1296.9l-1.3 6.6M792.7 1175.2l-0.7 4.8M814.5 989.2l-1.7 25.7M812.7 1016.4l-0.9 11.4M794.4 1180.5l-0.6 4.1M793.1 1203.6l-1.3 7.6M775.2 1305.9l-1.4 6.1M794.6 1221l-0.9 4.6M825.2 1003.6l-0.1 0.7M816.8 1091.3l-1.4 11.4M810 1142.5l-0.7 4.8M785 1279l-1 4.4M831.4 946.6l-1 20.1M808.1 1170.9l-0.8 4.7M805.9 1184l-0.7 4.2M816.9 1130.6l-1.2 8M814.6 1146l-1.4 8.7M825.5 1087.2l-1.4 11M820.4 1141.2l-0.7 4.1M844 927.2l-0.5 14M799.8 1267.7l-2 8.2M816.5 1203.1l-1.5 6.9M794.2 1297.4l-2.1 7.8M850.1 980.5l-4.2 49.4M827.3 1160.3l-1.1 6.1M821 1214.5l-1.1 5M804.5 1294.6l-1.2 4.1M833.6 1199.7l-1.1 4.6M856.6 1112l-1.7 9.6M848 1156.7l-1.4 6.8M843.4 1177.8l-1 4.4M841.2 1187.4l-1.2 5.3M834 1217.4l-1.6 6.4M862.8 1107.4l-1.7 9.3M839.9 1220.8l-1.1 4.1M851 1186.5l-1.8 7.1M848.2 1197.8l-1.6 6.3M844.8 1210.7l-1.7 6.2M833.4 1251.4l-2.3 7.7M859.1 1162.8l-1.5 6.4M845 1226.7l-2.6 8.9M865.7 1156l-1.1 4.6M901.5 906l-2.5 49.5M882 1104.5l-2.2 11.1M879.9 1127.2l-1.5 6.7M874.3 1151.7l-1.5 6.3M856.8 1217.1l-1.6 5.4M881.7 1142l-1.4 6M872 1180.1l-1.7 6.1M856.9 1231.4l-1.4 4.3M914.5 944.5l-2.8 34.3M882 1150.9l-1.6 6.3M891.8 1120.6l-1.4 6.3M841.6 1288l-2 5.3M904.6 1071l-1 5.3M882.1 1169.8l-2 7.2M870.6 1209.2l-2.5 7.9M915.1 1042.4l-4.7 27.1M899.3 1122.1l-1.8 7.3M885.7 1174.6l-2.5 8.8M881.7 1188.2l-2 6.5M838.8 1309.4l-1.1 2.6M891.1 1164.2l-2.1 7.4M883.3 1190.9l-2.5 8.3M849.8 1286.9l-3.4 8.5M911.6 1091l-2.4 11.2M847.7 1297l-2.2 5.2M919.4 1065.7l-1.2 6.4M894.2 1170.7l-1.3 4.4M934.7 983.4l-3 24.5M929.8 1020.9l-2.2 14.2M889.5 1194l-1.8 5.5M887.7 1199.5l-1.4 4.2M916.4 1116.6l-2.2 8.7M911.4 1136l-1.8 6.8M882.4 1228.4l-2 5.6M934.2 1046.2l-3.3 17.8M915.9 1129l-2 7.3M876.6 1249.6l-2.1 5.5M917 1134.5l-2 7.4M897.7 1197.5l-2.2 6.4M881.5 1248l-3 7.5M927.5 1133.7l-2.3 8M907.7 1196.1l-1.6 4.4M947.5 1064.1l-6.5 28.5M953.1 1050.2l-4.1 19.6M921.7 1169.1l-1.9 5.8M934 1137.8l-1.3 4.2M913 1200.9l-2.7 7.3M890.2 1258l-2.7 6.3M960.9 1038.9l-2.2 11.3M934.8 1152l-2.4 7.4M915.3 1207.2l-1.9 5M892.6 1261.8l-3.6 7.9M965.2 1045.8l-3.8 17.9M894.6 1262.2l-2.4 5.3M965.6 1057.2l-0.5 2.5M939.8 1152l-2.8 8.4M967.2 1062.8l-4.5 19.1M982.5 996.6l-2.1 13M990.6 955.6l-9.6 67.3M981 1022.9l-3.7 19.2M954.5 1130l-2.1 6.6M936.5 1182.6l-1.6 4.3M918.8 1226.7l-1.9 4.5M979.1 1046.9l-3.8 17M975.2 1063.9l-2.4 10M942.5 1179.3l-3.1 8M921.9 1229.9l-2.3 5.2M1002.5 919.7l-5.8 59.3M967 1115l-2.5 8.1M1006.2 905l-1.7 27.6M980.6 1075.9l-1.8 7M1001.7 985.1l-11.7 63.5M952.3 1179.2l-3.2 7.9M936.2 1217.8l-3.3 7.3M926.7 1238.7l-2.5 5.3M972.1 1131.6l-1.4 4M931.7 1232.6l-4.2 8.9M911.8 1273.2l-3.5 6.8M963.3 1163.5l-3.5 9M1018.2 946.7l-8.3 59.8M914.6 1275.6l-2.2 4.2M924.2 1261.1l-2.3 4.4M1009.9 1034.8l-4.7 20.2M983.3 1129.1l-4.2 12M1030.6 895.5l-1 21M1029.6 916.5l-3 34.6M929.7 1258.5l-2.2 4.2M1018.4 1021.7l-3.4 15.6M979.8 1152.9l-3.1 8M972.1 1172.3l-1.8 4.3M965 1189.3l-3.7 8.5M911.9 1294.7l-2.6 4.5M1011.6 1063l-2.6 9.5M927.3 1270.7l-3 5.4M956.8 1217.5l-3.7 7.6M937.8 1255l-4.3 8M907.8 1308.1l-2.4 3.9M1027.3 1033.3l-4.1 17.2M953.4 1233.5l-4.1 7.9M982.3 1177.1l-5.4 12.2M940.1 1262.5l-3.3 5.9M916.5 1302.9l-5.3 8.6M934.7 1275.5l-2.5 4.3M1051.3 941.9l-8.3 57.6M1009.4 1121.9l-3.3 8.9M951 1250.3l-4.4 7.9M971.2 1216.1l-3.4 6.6M957 1251.1l-4 7.1M1036.3 1073.2l-2 6.5M1030.7 1091l-3.9 11.6M1062.2 989.8l-3.2 16.7M962.2 1253.1l-2.7 4.6M1051.5 1049.3l-1.5 5.3M1057.3 1038.2l-4.6 16.8M1016.4 1155.8l-3.2 7.1M1052.2 1066.5l-1.8 5.8M1016.5 1161.2l-6.2 13.4M982.1 1229.5l-4.4 7.9M1069.2 1012.2l-4 17.1M1051.9 1076.1l-3.6 11M966.5 1263.5l-4.1 6.6M949.5 1290l-4.3 6.5M1045.5 1109.9l-2.4 6.3M1023.2 1162.8l-4 8.5M1093.8 886.5l-5.2 66M1014 1186.9l-4.6 8.9M969.5 1265.2l-3.8 6M1034.5 1149l-3.4 7.5M1098.4 945.1l-7.8 48.2M1078.8 1042.4l-3.1 10.7M948.1 1305.9l-4.2 5.9M1017.6 1198.1l-7.1 13M949.3 1306.9l-3.7 5.1M1091.2 1016.6l-4.9 19M1086.3 1035.6l-8 26.9M1061.3 1110.1l-4.6 11.4M1006.4 1226.1l-8.4 13.8M1067.8 1107.3l-5.7 13.8M1054.5 1138.6l-5.7 12.5M1069.6 1109.4l-5 12.1M1004.2 1237l-4.2 6.7M1060.1 1137.5l-2.9 6.3M1049.5 1159.8l-5.8 11.5M1051.1 1161.7l-3.6 7.1M1063.4 1141.5l-4.4 9.2M1014 1231.8l-4.9 7.8M1026.4 1215.3l-5.8 9.5M1010.5 1244.2l-6.7 10.1M1030.8 1215.6l-4.8 7.8M977.9 1293.6l-8.1 10.7M970 1308.8l-2.5 3.2M1092.6 1117.4l-2.9 6.3M980.7 1300l-7.4 9.5M1128.4 1027.6l-7.1 23M1147.9 951.4l-11.3 56.4M1066.6 1178.7l-7.2 12.4M1135.1 1023.9l-7.9 25.7M1106.5 1104l-6.2 13.9M1069.4 1178.1l-6.4 11M1159.8 883.5l-5.2 62.7M1105.5 1112.2l-6.4 13.9M1063 1193.1l-6.9 11.3M1035.9 1238.7l-9.1 13M1093.6 1147.4l-5.7 10.7M1048.9 1222.7l-4.6 6.9M1123.4 1089.4l-2.7 6.3M1070.4 1192.6l-4.3 7M998.1 1294.8l-9.4 11.5M1129.3 1081.7l-5.1 12.2M1124.2 1093.9l-5.8 13.1M1066.4 1202.9l-8 12.4M1173.4 911.2l-4.2 37M1153.3 1020.4l-8.3 26.5M1092.9 1162.6l-7.1 12.3M1119.6 1116.1l-6.7 13.8M1118.9 1122.9l-3.3 6.6M1092 1172.7l-3.8 6.3M1143.7 1073l-3 7.5M1096.3 1169.6l-8 13.4M1169.5 1003.5l-8.8 30.2M1142 1084l-5.4 12.4M1164.2 1031.5l-6.8 20M1073.6 1213l-6.9 10M1017.8 1287.2l-6.3 7.5M1173.9 1008.5l-3.3 11.4M1040.7 1261.3l-7.1 9.1M1124.1 1142.8l-5.8 10.4M1201.9 924.7l-3.4 25.1M1104 1184.9l-4.5 6.9M1206.9 933.4l-5.9 35.5M1219.3 895.5l-2 25.3M1193.1 1038.3l-5.6 15M1148.6 1135.5l-5.1 8.9M1096.3 1216.6l-7.3 9.8M1023.5 1304.9l-6.6 7.1M1200.1 1026.2l-10.7 29.4M1083.7 1236.2l-8.8 11.1M1126.3 1180.3l-6 9M1113.1 1199.6l-9.8 13.6M1118.2 1199l-7.1 9.9M1135.2 1181.4l-7 10.2M1056.4 1283.6l-10.2 11.1M1105.2 1228.5l-11.1 13.7M1219.8 1035.1l-12.4 31M1195.8 1091.2l-4 8M1112.6 1222l-7.8 9.9M1236.6 991.1l-4.4 15.5M1129.2 1206.4l-10 13M1211.8 1080.4l-3 6.1M1192.1 1118.3l-3.8 6.6M1246.5 997.6l-5.4 17.3M1093.1 1258.4l-11.4 12.7M1081.8 1271.1l-12.8 13.8M1180.5 1146.5l-7.9 12.2M1068 1287.9l-8 8.3M1074 1283.7l-6.2 6.5M1265.4 956.1l-5.4 23.7M1171.8 1167.2l-9.6 13.7M1276.9 880l-5.7 60.6M1084.3 1277.1l-11.3 11.8"/><path stroke="#004ac1" d="M142.9 1044.7l4.7 11M231.9 1195.7l7.7 9.9M177.7 1100.7l4.1 7.5M213.3 1159.7l4.7 7M338.9 1306.8l5.3 5.2M122 876l0.9 22.5M202.2 1134.5l4.5 7.3M206.7 1141.8l5.8 9.1M325.4 1291.1l6.7 6.9M149.9 1009l8.1 23.6M158 1032.6l13.9 34.2M213.7 1144.8l7.5 11.8M341.6 1301.9l10 10.1M223.2 1151.8l6.5 10.1M159.6 1012.1l5.8 17.2M257.5 1198.4l8.2 11M320.1 1274.9l10.9 11.9M177.7 1054.2l5.6 13.1M183.3 1067.3l3.6 8M237.6 1166.4l8.8 13M189.5 1075.2l4.5 9.7M198.4 1093.9l5.3 10.4M240.7 1167.4l8.2 12.3M175.5 1033.9l7.6 19.8M191.9 1074.4l2.9 6.3M149.1 878.5l2.1 36.3M279.8 1215.9l5.6 7.3M208 1091.5l4 8.3M250.5 1167.2l7.6 11.6M158 870l3 52.8M172.5 986.1l5.7 21.1M205.9 1081.2l4.8 10.2M261.4 1176.5l8.5 12.7M220 1093.9l3.4 7.1M243 1138.2l7.9 13.6M252.2 1149.6l6.4 10.7M227.7 1098.7l4.6 9.5M238.1 1119.6l4.8 9.1M329.6 1257.1l6.9 8.5M188.1 963.7l13.8 55.3M236.3 1105.5l5.3 10.7M263.8 1156.5l7.6 12.6M271.4 1169.1l6.4 10.2M339.4 1264.1l6.5 7.9M273.2 1163.9l6.2 10.1M335.7 1254.2l8.3 10.4M232.7 1079.8l3.2 7.5M278.1 1167.9l6.9 11.2M311.3 1215.3l9.7 13.6M238.3 1080.2l2.6 6.1M203.4 950.4l13.1 59.7M372.5 1289.6l7.2 8.5M218.5 1006.8l6.8 23.2M225.4 1030l10.3 29.7M242.6 1077.3l5.2 12.4M215.6 983.2l5.3 21.8M209.7 931.3l3.7 25.6M209.3 887.6l2.3 33.8M251.5 1079.1l3.2 7.6M269.4 1119.2l3.1 6.3M373.5 1281.2l6.7 8.3M220.9 965.9l5.8 27.5M280.5 1136.2l5.9 11.2M286.4 1147.4l7.3 13.2M220.6 922l8.2 54.5M267.3 1097.3l3 6.7M242.1 1019.3l4.7 15.8M232.8 966.5l10 44.7M267 1083.6l4.2 10.2M298.6 1151.3l6.4 11.9M244.8 1007.7l7.9 27.9M309.3 1166.4l7.9 13.9M269.2 1075.2l5 12.6M292.4 1128.9l4.3 8.8M281.8 1099.8l2.8 6.5M295.7 1130.4l5 10.2M333.8 1192.2l8.1 13.5M382.1 1265.9l6.1 8.3M242.1 878l0.9 25M407.9 1297.7l4.8 6.1M299.8 1116.6l6.1 13.3M344.5 1202.4l5.8 9.5M278.7 1055.1l12 33.1M351 1209.3l7.2 11.6M317.8 1144.1l3.9 7.9M370.4 1236.5l7.6 11.5M393.4 1270.2l7.8 10.9M279.5 1039.8l5.3 17M297 1090.6l5.3 13.2M320.4 1144.2l4.1 8.3M273.1 992.7l2.4 10.9M417.4 1295.1l4.7 6.3M266.6 934.1l3.1 23.8M273.4 979.8l6.8 31.3M358.9 1203l6.1 10.5M386.5 1247.8l8 12M400.1 1268.1l5.8 8.4M269.6 934.8l4.7 33.8M322.3 1126.1l6.3 13.8M386.8 1241.7l5.7 8.8M272.3 889.5l6 67.1M298.6 1047.1l8.8 27.2M332.9 1138.1l5.8 12.5M419 1286.5l4.7 6.7M306.3 1062.8l3.1 9.3M397.6 1251.8l5.2 8M284.2 956.2l4.4 26.4M319.3 1092.3l5.4 14M432.5 1294.8l4.4 6.2M291 939.9l5.2 36M382 1206.8l6.3 11.4M388.3 1218.2l3.6 6.4M431.6 1287.8l4.7 6.9M317.3 1033.4l10 34.7M435.3 1287.6l5.3 7.8M448.4 1306.7l3.7 5.3M307.8 975.4l3.6 19.6M373.3 1176.2l6.6 13.3M370.6 1165.3l3.2 6.9M395.2 1214.1l3.3 6.1M405.9 1233.3l4.7 8.1M305 877l4.3 67.5M323.8 1025.3l3.5 13.8M337.7 1074.6l3.7 11.2M363.2 1142.9l5 11.4M415.3 1245.8l4.5 7.5M432.9 1274.6l2.9 4.6M455.3 1308.6l2.3 3.4M428.1 1263.6l3.5 5.7M340.7 1066.4l4.3 13.6M399 1203.8l6.6 12.6M418.7 1236.5l5 9M444.2 1279.9l5.1 8.2M365.2 1115.4l5.3 13.9M370.5 1129.3l2.9 7.3M405.3 1207l6.4 12.4M426.9 1243.4l3 5.4M437.3 1261.7l4.5 7.6M378.2 1135.7l4.4 11M335.4 963.7l10.3 57.4M390.1 1158.7l4 9.4M363.4 1077.9l3.7 11.8M464.1 1296.3l4 6.5M455.4 1278.6l2.9 4.9M360.8 1048.5l4.9 18.1M379.6 1111.3l3.8 10.7M396 1154.9l5.8 13.9M416.8 1202l4.3 8.9M424.3 1217.4l4 8M447.6 1261.5l4.9 8.6M369 1068.7l2.2 7.6M418.5 1200.6l2.1 4.4M440.8 1245.1l3.5 6.6M403.2 1160.1l2.7 6.5M378.7 1083.2l2.3 7.5M395.3 1126.2l2.6 7.3M422.1 1193l1.9 4.2M438.8 1228.5l4.4 8.8M409.9 1158.3l3.3 8.3M401.1 1127.8l3.7 10.3M404.8 1138.1l4.9 13.3M390 1084.6l2.5 8.6M400.1 1117l3 8.8M390.7 1077.4l2 6.9M413.6 1148.2l2.9 7.7M368.9 947.2l7.3 52.9M380.4 1022.7l7.5 33.7M388 1056.4l3.2 12.7M455.9 1240.9l2.1 4.3M453.6 1231.5l2.3 4.9M379.4 983.8l4.1 25.2M449.6 1217.9l3.6 8M402.9 1082.1l3.1 11.2M416.8 1128.1l2.6 7.6M402.4 1069.7l3.1 11.7M424.3 1142.6l3 8.6M461.2 1233.7l1.9 4.1M451.5 1206.6l3.4 8M457.3 1209.3l2.8 6.7M469.7 1237.8l2.4 5.2M423.3 1097.2l2.8 9.9M478.7 1247.8l2.7 5.8M398.3 892.5l3.2 54.2M401.5 946.7l2.7 25.2M451.5 1170l2 5.4M406.2 964.1l7.4 52.2M416 1029.7l2.5 12.7M494.4 1268.3l4.1 8.7M416.6 1017l3.8 20.7M457.6 1173.3l2.9 8.2M410.1 942.7l8 65.5M452.6 1143.1l2.7 8.5M423.4 1005.5l2.5 15.4M464.4 1171.6l1.6 4.8M480.6 1215.8l2.6 6.7M483.2 1222.5l3.5 8.7M498.6 1259.2l3.3 7.3M463.7 1154.2l1.4 4.3M465 1158.5l1.9 5.8M469.1 1171l3 8.8M431.2 999.6l5.5 34.3M475.1 1181.5l2.8 8.2M514.9 1282.2l3.2 7M495 1229.7l3.3 8.4M451.7 1080.4l1.9 8.3M466.7 1129.8l2.2 7.8M476.4 1163.1l2.3 7.4M434.4 898l3.2 55.6M474.1 1128.4l1.5 5.8M517.7 1260l3.5 8.6M472.5 1111.7l1.9 7.5M483.8 1154.1l1.7 6M498.8 1202.4l2 5.9M447.6 926.2l1.7 25.2M457 1018.1l5.1 31.5M491.5 1172.1l2 6.7M503.9 1210.7l2.8 8.2M471 1067.5l1.8 8.9M480.5 1112l2.7 11.1M484.6 1128.8l1.8 7M500.8 1186.5l2.3 7.3M478.1 1089.4l1.1 5.1M530.1 1265.1l2.6 6.7M505.4 1185.8l2.6 8.4M543.4 1294l3 7.3M484.6 1094.2l2.3 10.6M492.2 1117l1.2 5.3M498 1140.9l2.1 8.1M546.9 1293.2l2.2 5.7M499.3 1136l1.8 7.1M522.6 1218.9l1.5 4.6M527.5 1233.7l1.5 4.5M537.7 1263.4l3.2 8.7M545.5 1284.5l2.6 6.7M502.6 1138.7l2.1 8.6M546.6 1282.2l2.2 6M513.6 1172l1.6 5.8M504.6 1125.2l1.2 5.2M518.9 1182.5l2.3 8.1M499.3 1086.6l1.9 9.8M525.5 1197.9l2.5 8.7M531.9 1211.8l2.1 7M557.9 1291.6l3.1 8.5M504.2 1049.6l2.7 17.3M534.3 1186.1l1.4 5.5M556.9 1258.5l1.6 5.1M533.6 1163.2l1.1 4.9M560 1261.6l1.3 4.1M559.8 1253.9l2.5 8.5M522.8 1062.6l5.3 33.7M542.8 1170.9l1.8 8M552.2 1210.3l2.2 8.4M577.1 1297.2l2.3 7.3M563.8 1245.5l1.8 6.5M530.4 1076.5l0.9 5.6M559.6 1221.7l1.1 4.2M534.7 1086.7l1 6.3M540.9 1124l1 5.6M580 1281.1l1.2 4.1M571.6 1242.5l2.1 8.2M541.5 1077.3l0.7 5.2M566.9 1214.2l1.9 8M540.9 1051.4l1.6 12.6M566 1188.6l1.3 6.4M556.7 1124.5l1.4 8.4M562.6 1144.5l1.4 8M592.4 1283.1l1.9 7.2M555.2 1077.5l1.2 9.3M565.4 1093.6l1 7.4M571.1 1095.3l0.9 7M575.8 1130.2l0.6 4.1M592.9 1218.5l1.4 7.3M579.7 1121.4l0.8 6.3M586.9 1170.3l1.4 8.6M590.2 1190.6l1.4 8.3M596.7 1226.8l1.3 6.7M571.1 1010.6l2.8 33.9M575.6 1062.7l2.5 23.8M580 1102.6l1.2 9.6M582 1118.2l0.9 7.1M601.1 1238l1.5 7.8M574.1 1012l0.1 1.6M602.5 1233.9l1 5.2M578.6 992.5l0.9 14.8M616.8 1286.5l1.1 5.3M600.6 1180l1.3 8.6M623.2 1308.5l0.7 3.5M601.2 1100.4l0.7 6.7M604.7 1133.7l0.7 6.1M623.2 1266.6l0.9 5.5M623.7 1256.7l0.9 5.9M600 941.2l0 1.1M632 1283.5l0.9 5.8M633.8 1268.6l0.6 4.2M636.1 1284.4l1.2 7.7M608.7 933.2l0.5 21.2M638.6 1288.2l1.3 8.6M624.5 1152.2l0.4 4.4M626.3 1170.7l0.8 7.9M631.6 1219l0.6 5.2M640.6 1274.1l1.1 8.5M620.1 897.5l0.2 18.9M622.7 1002.7l0.5 13.1M630 1127.5l0.4 5.6M637 1205.4l0.9 8.5M646 1284.6l0.7 5.2M626.6 1027.2l1 20.2M632.5 1126.5l0.3 4.2M643.6 1246.5l0.4 4M626.3 912.6l0.2 15.1M632.5 1085.8l0.7 11.3M636.6 1145.8l0.7 8.6M652.1 1303.3l1 8.1M639.3 1148.8l0.4 4.8M643.2 1196.3l0.6 7.1M633.1 961.1l0.4 15.2M644.4 1183l0.6 7.6M640.5 1082.3l0.3 6.2M658.1 1288.2l0.7 7.2M659.9 1306.2l0.6 5.8M657.9 1237.4l0.4 4.7M663 1300l0.7 8.1M654.7 1152.6l0.3 6M662.9 1246.2l0.5 7.4M655 1021.9l0.4 16M664.5 1238.4l0.3 4.9M665.5 1217.5l0.5 8.9M662.8 1099l0.3 9.7M667 1200.2l0.4 7.9M662.8 977.6l0.2 12.7M664.7 1069.3l0.3 11.5M667.5 1155.6l0.2 4.9M669.9 1055.3l0.1 4M672.3 1149.6l0.2 5.3M673.5 1093.6l0.3 11.7M674.8 1148.1l0.1 4.3M675.3 1041.7l0.3 18.2M679.1 1110.3l0.1 7.3M682.7 1164l0.1 5.9M683.7 1042.6l0.1 12.3M686.2 1227l0.1 6M687.4 1289.7l0.1 4.1M687.4 1143.9l0.1 7.4M688.2 1206.9l0.1 7.2M688.8 1252.2l0.1 7.2M691 1263.9l0.1 8.3M692.2 1023l0 14M695 995l0 10.9M695 1034l0 9M695.1 1176l0 4.4M697.9 1023l-0 20M697.1 1292.4l-0 8.3M702.6 1157.7l-0 4.1M701.3 1266.7l-0.1 6.5M701.1 1284.7l-0.1 5.7M704.5 1202.3l-0.1 4.4M710.7 1126.4l-0.1 5.6M715.8 931l-0.1 24M712.6 1157.5l-0.1 5.1M709.8 1258.4l-0.2 5.2M717.6 1042.5l-0.3 17M715.1 1156.7l-0.2 7.8M720.6 1035l-0.5 27M712.2 1300.3l-0.4 8.3M723.7 1020l-0.4 20.4M719.8 1224.4l-0.3 7.4M725 1161.6l-0.3 6.1M722.9 1207.6l-0.3 6.7M733.1 975.3l-0.2 13M736.5 945.2l-0.1 8.5M733.3 1080.7l-0.4 11.6M732.9 1092.4l-0.3 8.9M728.6 1187.3l-0.4 7.7M725.4 1243.6l-0.5 7.5M723.2 1277.6l-0.4 5.9M725.4 1275.2l-0.5 6.9M741 1015.2l-0.3 10.3M736 1142.3l-0.3 6.2M728.9 1255.6l-0.4 5.7M732.2 1240l-0.5 6.6M746.8 1012.9l-0.7 21.5M742.8 1155.5l-0.6 8.6M744.3 1201.5l-0.6 7.7M753.7 1106.8l-0.4 6.1M750.1 1188.7l-0.4 4.5M748.4 1207.1l-0.8 8.4M742.1 1269.7l-0.8 7.3M741.3 1277l-0.6 5.2M760.7 1080.6l-0.6 9.8M758.6 1112.3l-0.7 9.7M753.1 1181.8l-0.8 8.9M761.6 1107.7l-0.4 5.1M754.6 1191.6l-0.8 8.6M754.6 1214.6l-0.5 5M772.8 1010.3l-1.1 23.1M763.9 1144.3l-0.8 8.7M772.7 1065l-0.5 8.3M759 1215.9l-0.8 6.6M777.6 1029.1l-0.7 11.6M783.9 949.1l-0.1 2M769.9 1160.9l-0.5 4.6M754 1286.4l-0.7 4.7M780.9 1066l-0.9 11.5M762.4 1242l-1 7.3M781.5 1121.7l-0.5 4.5M777.1 1162.8l-0.9 7.7M779.4 1164.3l-0.7 5.9M774.4 1203.6l-0.7 5.3M768.2 1260.2l-1.2 7.5M795.2 1090.9l-0.9 8.7M785.5 1174.3l-0.6 4.2M806.9 967.1l-1.5 29.8M788.1 1173.6l-1.2 8.8M784.8 1211.5l-1.3 7.9M783.6 1219.4l-0.8 4.9M772.5 1281.6l-1.1 5.8M812.1 980.5l-0.6 11.6M779.2 1257.3l-1.5 8M803.9 1109.5l-0.6 5.2M796.6 1181.9l-1.3 8.2M816.5 1041l-2.7 28.6M793.7 1225.7l-1.2 6.3M787.6 1256.9l-1.3 6.1M815.4 1102.7l-1.3 10M802.8 1201.6l-1.4 7.7M831.6 994.7l-0.2 2.4M785.9 1292.4l-1.6 6.9M837.1 951.8l-0.2 4.8M836.7 1036.2l-1.4 13.3M829 1101.2l-0.9 6.7M808.2 1220.6l-1.2 5.5M841.5 1015.9l-1.7 18.3M824.1 1149.7l-1.1 6.6M796.1 1282.7l-2.2 8.7M825.9 1154.2l-1.4 7.6M838.7 1089.6l-1.5 10.3M846.5 1050.2l-2.6 20.9M822.5 1196.7l-1.3 6.3M858.8 930.7l-1 22M823.9 1201.2l-1.3 5.8M853.5 1038.4l-2.4 20M821.7 1221.2l-2.1 8.9M810.8 1264.9l-2.3 8.7M844.2 1122.9l-1 6M837.2 1160.7l-1.7 8.5M855 1071l-1.5 10.5M839.1 1163.8l-1.8 8.7M834.2 1186.7l-1.1 4.8M828.2 1212.8l-1.9 7.9M862.9 1030.7l-3.9 31.7M854.6 1092.3l-1.1 6.8M850.6 1116.2l-1.7 9.6M863.3 1070.4l-4.4 28M816.6 1280.1l-2.3 7.6M821.1 1271.9l-1.8 5.9M881 959.2l-5.9 64.7M828 1255.6l-1.2 4M814.3 1299.9l-1.7 5.3M857.5 1147.4l-1.3 6M821.3 1290.1l-2.8 8.5M818.5 1298.6l-1.4 4.2M863.7 1142.1l-1.1 4.9M854.3 1183.2l-1.9 7.7M831.6 1264.3l-1.7 5.5M826.5 1280.4l-1.8 5.5M850.1 1208.5l-1.7 6.4M860.8 1176.4l-1.4 5.7M902.7 1009l-2.7 20.7M860.2 1213.2l-2.5 8.5M848.5 1250.8l-1.9 5.7M829.9 1303.8l-1.7 4.5M879.3 1152l-1.9 7.6M868.1 1194.1l-1.4 5M866.7 1199.1l-1.8 6.2M830.3 1307.7l-1.7 4.3M853 1250.1l-2.4 6.9M895.6 1103l-1.8 8.4M871.3 1199.4l-1.3 4.5M848.2 1269.9l-2.3 6.4M919.1 962l-6.8 60.6M842.5 1290.5l-1.8 4.6M889.7 1150.8l-2.3 8.6M860 1248.5l-2 5.6M871 1222.5l-1.7 5.1M850.7 1279.4l-1.6 4.2M901 1126.1l-1.3 5.3M930 972.5l-7.7 60.7M916.5 1066.8l-4.9 24.2M898 1147.9l-2.2 8.3M903.3 1137.4l-2.1 8.1M922.6 1063.4l-4.3 21.5M943.7 892.5l-1.2 32.3M915.1 1111.3l-1.4 5.6M897.5 1175.7l-2.3 7.5M945.7 921l-5.3 63.7M910.4 1149l-1.7 5.8M920 1123l-1.9 7M955.6 897.5l-1.2 27.9M899.6 1199l-2.4 6.9M939.4 1062.8l-0.6 2.7M864.9 1292.5l-3.8 8.5M941.6 1065.9l-7.8 34.5M906.1 1200.5l-3 8.2M900.3 1216.4l-1.6 4.2M868.6 1292.9l-2.5 5.4M908.7 1199.8l-3 8.4M967 955.7l-6.3 51.2M946.6 1080.3l-1.4 6M959.9 1029.1l-6.5 33.2M966.4 1007.2l-5.5 31.7M925 1181l-2 5.6M899.5 1246.1l-3.3 7.5M967.8 1046.8l-2.2 10.5M925.9 1191.6l-1.7 4.4M973.7 1031.4l-3.5 17.5M929.1 1189.5l-3.4 8.9M922.9 1205.6l-3.4 8.6M893.9 1272.6l-3.5 7.3M975.8 1035.4l-4.5 21.4M932.9 1185.8l-2.3 6M958.8 1115.9l-1.6 5.3M892 1284.8l-2.1 4.1M969.7 1086.5l-2.8 10.6M956 1141.3l-2.1 6.4M969.3 1107.1l-2.4 7.9M925.2 1227.5l-3.8 8.6M1006.5 945l-4.8 40.2M939.2 1205.6l-3.8 8.9M981.4 1093l-2.2 7.6M929.8 1232l-3.1 6.7M998.4 1035.7l-2.2 10.1M989.4 1073.6l-2.4 9M894.7 1305l-2.9 5.2M986.8 1093.3l-1.6 5.4M1009.8 1006.4l-2.6 14M1001.9 1057.2l-3.7 14.3M927.7 1254.3l-3.5 6.8M949.7 1213.2l-3 6.6M994.3 1103.7l-3.8 11.7M919.6 1277.5l-2.8 5.2M1007.6 1067.4l-2.5 9.1M1025.1 1016.8l-6.3 28.4M910.6 1303.3l-2.9 4.8M914.4 1303.2l-2.7 4.5M1048.6 893l-2.6 41.4M955.5 1233.6l-2.9 5.6M1030.5 1054.4l-1.6 5.9M921.8 1300.4l-5 8M974.9 1208.6l-3.7 7.5M1007.5 1140.5l-2.6 6.4M1000.2 1164.1l-5.8 13.2M1061.3 957.9l-11.4 63.9M1000.1 1170l-4.3 9.5M966.7 1245.3l-4.5 7.8M1072.9 933.3l-3.5 29.7M1069.4 963.1l-3.3 20.9M1033.1 1107.5l-4.1 11.2M1013.6 1156.3l-5.4 12.2M957.6 1267.8l-4 6.5M1081.1 903.5l-4.4 48.8M1035.2 1115.9l-3.8 9.7M993.2 1208.9l-7.3 13.7M1026.3 1144.5l-5.4 12.4M1017.7 1164l-5.1 10.9M1087.5 895.5l-6.6 69.8M1073.2 1007.5l-6.1 25.9M1007.2 1190.7l-3.3 6.5M989.5 1224.2l-6 10.6M962.4 1270l-2.6 4.2M1005.5 1198.7l-6 11.4M1074.8 1025.1l-4 15.4M1070.8 1040.5l-3.6 12.6M1047.2 1112.2l-3.6 9.2M959.3 1281.1l-4.7 7.2M1013 1193.4l-7.3 13.7M1056.4 1102.2l-4 10.4M1042.8 1135.8l-3.6 8.3M950.8 1299.5l-3.6 5.1M1038.7 1150.9l-4.6 9.9M977 1263.3l-6.6 10.2M1071.8 1074l-4.8 14M969.3 1278.1l-5.2 7.6M1044.9 1148.4l-4.1 8.7M1020 1198.1l-5.6 10.1M969.5 1280.6l-5.7 8.3M1012.6 1215.4l-6.3 10.7M963.9 1291.6l-6.2 8.7M1076.8 1083.3l-4.2 11.3M959.6 1300.3l-5.8 8M1055.6 1141.7l-6.5 13.9M1039.2 1175.4l-5 9.6M1101.7 1031.2l-5.4 18.4M1041.7 1179.8l-3.8 7M1101.4 1042.1l-8.6 26.7M1006.6 1246.8l-7.2 10.9M1071.8 1139.9l-3.6 7.5M1107.7 1057.9l-11.1 30.8M1041.8 1201l-6.5 11M984 1288l-8.5 11.3M1140 917.2l-6.3 49M1133.7 966.2l-3.9 20.5M1048 1194.4l-4.6 7.9M1006.8 1262l-6.3 8.8M1143.1 943.9l-5.2 31.7M1026.5 1236.4l-9 13.4M1106.8 1096.8l-5.7 13.2M1089.7 1134.8l-5.3 10.7M1021.3 1250.4l-8 11.3M1026 1246.7l-9.4 13.2M1154.6 946.2l-3.4 20.8M1139.9 1017.2l-5.8 19.9M1134.1 1037.1l-4.4 13.6M1109.7 1102.8l-4.1 9.4M1095.4 1133.7l-3.6 7.2M1032.5 1240.5l-8 11.4M1024.5 1251.9l-9.5 13.1M1069.5 1186.2l-7.1 11.7M1056.4 1207.6l-5.9 9.3M994.6 1294.4l-6.4 7.9M1069.1 1190.8l-8.5 13.8M1060 1209.2l-6.9 10.6M1141.5 1057l-5.6 14.9M1126.9 1100.2l-3.3 7.3M1160.1 1026.3l-6.3 19.3M1132.3 1105.9l-3.6 7.6M1074.8 1207.8l-9.1 13.4M1125.5 1125.3l-5.1 9.9M1094 1185.4l-8.6 13.3M1153.8 1075.3l-2.9 7M1037.7 1267.7l-7.2 8.9M1197.7 906.5l-4.8 41.7M1023.1 1290.2l-12 13.9M1011.1 1304.1l-7 7.9M1198.5 949.9l-7.6 37.7M1170.6 1053.8l-5.3 13.6M1167 1069.9l-3.5 8.4M1167.1 1076.2l-4.9 11.3M1047.6 1268.1l-10 12M1084.3 1223.6l-7.1 9.5M1192.7 1022.6l-3.6 11M1164.1 1095.2l-5.9 12.3M1114.8 1183l-6.4 9.6M1119.8 1179.1l-5.7 8.6M1155 1123.9l-6.4 11.6M1130.5 1166.1l-7.3 11.5M1089 1226.4l-5.3 7M1131.9 1167.8l-5 7.8M1042.1 1286.3l-7.5 8.4M1228.7 888l-3.2 40M1086.5 1235.4l-9.7 12.3M1231.6 889l-7.7 67.9M1186.5 1075.9l-5.6 12.4M1129.5 1179.1l-9.1 13.5M1109.8 1207.4l-9.8 13.2M1165.2 1124.3l-6.6 11.8M1133.5 1176.7l-7.2 10.7M1198.1 1061.9l-4.8 11.1M1156.2 1148.8l-7.2 11.6M1192 1087.6l-3.9 8M1158.6 1149l-5.8 9.4M1193.6 1090l-3.2 6.5M1205.8 1075.7l-3.8 8.2M1081.7 1261.9l-6.4 7.2M1251.5 933.5l-13.6 63.7M1226.8 1031.5l-7.7 20.1M1213 1065.9l-6.3 13.9M1146.1 1186.5l-8.2 11.3M1249.3 975.7l-3.1 12.4M1187.7 1130.5l-7.6 12.5M1059 1295.3l-6.6 6.8M1213.4 1093.8l-6.4 12M1225.2 1075.5l-5.5 11.2M1176 1161l-4.2 6.2M1082.8 1276.6l-13.1 13.7M1065.6 1296.4l-11.8 11.7"/><path stroke="#0058d1" d="M114 962.1l3.5 14.8M135.5 1033.1l14.9 34.9M164.1 1090.2l5.6 10.5M311.1 1280.3l12.2 12.7M119.3 886.5l4.1 45.1M171.2 1082.8l4.3 8.6M327.4 1295.2l11.5 11.6M293.2 1256.3l9.6 10.7M127.6 918.1l10.1 57.7M180.3 1090.2l6.2 12M186.5 1102.2l6.8 12.5M227.2 1169.2l4.7 6.8M265.4 1217.9l9.6 11.9M157.9 1024.2l4.1 11.2M275 1221.5l10.2 12.7M309.6 1263.1l10.5 11.8M140 873l1.6 35.3M316.6 1268.7l10.2 11.3M179.1 1050.7l7.1 17M186.2 1067.7l3.3 7.5M203.7 1104.4l4.7 8.9M292.5 1237.9l8.7 10.6M146 866.5l1.8 44.5M247.4 1173.7l5 7.5M151.2 914.8l5.6 39.7M312.4 1254.1l6.2 7.3M205 1085.1l3 6.4M345.2 1287.3l8.6 9.4M161.8 896.7l5.8 51.7M269.9 1189.2l9.4 13.5M315.8 1250.5l6.8 8.2M322.6 1258.8l5.5 6.6M208.4 1074.3l5.2 11.6M213.5 1085.8l6.4 13.5M296.2 1219.6l7.9 10.5M319.9 1247.7l6.9 8.5M173 869.5l3.6 59.1M187.1 986.1l3.3 12.9M215.2 1070.9l4.5 10.5M242.4 1122.8l4.4 8.2M179 871l2.3 46.3M241.6 1116.2l5.7 10.9M256.3 1143.5l7.5 13M317.3 1235.9l6 7.9M225.6 1076l2.6 6.1M195.7 972.6l2.3 10.4M319.9 1233.5l9.5 12.6M191.9 932.1l11.4 60.7M295.5 1184.3l5 7.8M327.2 1231.4l4.5 6.2M336.4 1241l9.9 13.2M220.9 1005l5.1 18M247.4 1082.3l4.5 10.5M276.8 1143.6l7 12.8M362.3 1272.1l8.8 11M219.3 986.5l3.6 15M263.1 1111.4l4.3 9M277.7 1140.7l6.3 11.6M209 867.5l0.3 20.1M258.7 1096l5.3 11.8M264 1107.8l5.4 11.4M233.3 1018.4l5.9 19.2M244.4 1052.9l12.4 32.1M256.7 1085.1l5.6 13.1M262.3 1098.2l2.9 6.5M276.9 1129l3.6 7.2M293.7 1160.6l6.2 10.8M299.9 1171.4l5 8.4M287.4 1144.5l4.3 8M385.9 1291.7l10.8 13.2M238.7 1017.4l10.7 34M226 942.6l6.7 38.4M281.3 1116.6l4.3 9M327.8 1201.7l8.3 13.1M227.1 880l4.4 59.3M339.2 1216l8.2 12.4M317.3 1176.2l5 8.7M400.5 1295.5l4.9 6.2M265.2 1039.4l3.8 12M328.3 1182.8l5.5 9.5M341.9 1205.8l6.5 10.5M243 903l2.3 27.1M338.2 1195.6l6.7 11.1M319.4 1157.4l6.5 12.3M251.9 936.4l5.4 35.8M290.6 1088.2l3 7.6M330.6 1173.8l3.7 6.7M382.1 1257.1l9.6 13.6M251.1 878.5l3.7 56.6M410.7 1291.2l6.6 8.8M326.8 1152.2l5.2 10.3M376.5 1239.1l8.1 12.3M260.7 899.1l6 59.1M310.3 1110.2l4.2 9.8M314.5 1120l4.8 10.9M394.2 1262.5l7.7 11.2M280.2 1011.1l8.4 30.9M301.7 1081.5l2.7 7.4M352.7 1192l6.2 11M412.8 1286.1l4.5 6.2M328.6 1139.9l5.8 12.2M271 918.7l2.9 26.9M316.2 1105.2l4.3 10.4M327.8 1132.6l5.9 12.9M345.1 1163.7l5.4 10.7M309.4 1072.1l3.9 11.2M328.1 1121.2l2.9 6.7M366.5 1195.6l7.6 13.7M304.2 1026.7l3.9 14.6M341.2 1133.6l3.4 7.8M344.6 1141.4l4.6 10.1M413.9 1267.2l8.8 13.2M340.2 1125.2l5.5 12.8M350.7 1149.3l3.4 7.3M407.9 1254.6l8.1 12.7M296.7 960.8l12.1 61.4M349.8 1141.6l4.3 9.6M421.8 1273.2l5.5 8.3M446.6 1309.4l1.9 2.6M316.4 1040.3l7 23.9M390.6 1218.2l6.9 12M378.8 1192l7.1 13.6M301.5 925.7l6.4 49.7M311.4 995l2.6 12.7M302 876.5l0.6 22.8M428.7 1261.2l4.5 7.4M371.9 1145.5l3.8 8.8M392.7 1191.1l6.3 12.7M405.6 1216.4l4.4 8.2M429.1 1258.3l4.1 6.8M392 1179.7l4 8.5M462.9 1306.2l3.8 5.8M353 1070.6l2.3 7.7M361.3 1096.8l4.4 12.7M381.3 1149.8l2.8 6.6M342.5 1019.2l8.1 33.1M406.5 1200.1l6.4 12.9M417.7 1222.3l3.7 7.1M345.7 1021.1l2.7 11.9M363.6 1087.3l3 9.2M363.8 1069.8l3 10M424.8 1223l2.5 4.8M411.2 1189.9l5.6 12.1M428.3 1225.3l4.3 8.3M341.3 890.5l1.1 23.2M395.1 1139.6l5 13M468 1290l2.6 4.4M390.6 1120l4.8 13.4M350.5 898l3.3 47M375.7 1040.3l3.8 15.8M379.5 1056.1l5 18.7M452.6 1247.1l2.5 4.8M470.3 1280.2l4.3 7.7M487.2 1309.6l1.4 2.4M407.1 1130.1l2.2 6.2M423 1172.4l2.9 7.1M438.4 1197.9l3 6.9M462.9 1250.7l3.6 7.2M371.1 885l1.9 41.6M430.8 1173.5l1.8 4.6M374.2 886l2.9 53.5M409.6 1105.4l2.2 7.2M377.3 893l4.7 65.8M380.3 893l1.9 36.3M440 1178.4l2.9 7.4M461.5 1229.3l3.5 7.6M391.5 963.9l9.6 62M414.3 1083.7l2.4 9M389.3 891l2.9 51.3M414 1071.8l2.3 8.9M428 1122.3l1.7 5.5M505.8 1306.4l3 5.6M439.2 1141.2l2.6 7.8M441.8 1149.1l1.9 5.7M454 1183.5l2.3 6.1M416.2 1045l3.8 17.4M448.1 1160.2l1.5 4.2M481.1 1243.8l2.9 6.5M502.4 1289l3 6M470.1 1212.6l3.1 7.5M443.9 1131.6l1.6 5.1M445.5 1136.7l1.3 4.1M460.6 1181.5l1.6 4.4M489.1 1252.1l3.4 7.6M500.7 1277.3l2.6 5.4M421.2 1026.8l3.8 19.6M444 1123.1l2.1 7.2M414.2 955.3l2.8 25.1M483.8 1229.4l3.7 9M495.4 1251.9l3.2 7.3M516.2 1297.3l2.3 4.7M416.5 900.5l1.4 28.6M420.2 956.3l8.4 63.5M454.7 1133.2l1.4 4.8M464.6 1164.9l1.9 5.8M495.8 1247.8l2.9 6.7M507.9 1275.6l2.7 5.9M436.5 1047.9l4.4 21.2M445.6 1089.4l2.8 11.1M456.2 1129.3l1.3 4.6M484.6 1214.5l2.8 7.2M464.7 1149.4l1.9 6.3M472.3 1165.8l1.6 5.1M446.6 1056.6l1.2 6M506.1 1252l1.9 4.7M438.6 989.5l1.8 13.6M495.7 1219.6l3.1 8.3M508.6 1252.9l2.4 5.8M523 1287l3.5 7.9M532.2 1307.3l1.9 4.2M452.3 1057.2l0.5 2.6M475.6 1151.9l1.8 6.1M481.4 1171.1l2.8 8.8M515 1263.6l2.9 6.9M526.4 1290.3l3.8 8.5M462.3 1079.1l1.2 5.4M521.7 1264.7l2.7 6.8M446.4 897.5l1.2 28.7M449.3 951.4l7.6 66.7M501.8 1197.1l2 6.2M515 1235.9l2.1 5.7M486.4 1135.8l1.4 5.4M499.4 1181.8l1.4 4.7M539.5 1294l2.6 6.1M456.6 927.4l4.1 51.5M461.8 959.6l5.7 51.6M527.4 1252.3l3 8.2M549.9 1309.9l0.9 2.1M461.6 907l2.6 45.9M525.2 1240l1.9 5.5M532.4 1254.4l2.1 5.9M498.3 1131.6l1.1 4.4M548.1 1291.2l2.5 6.4M491.2 1086.8l1.7 8.6M500.8 1131.3l1.8 7.4M509.2 1164.7l1.3 4.8M518.5 1198l2.5 8.4M497.6 1105l2.5 11.6M508.5 1152.4l1.3 5.3M509.8 1157.7l1.5 5.7M505.8 1130.4l1.7 7.5M513.3 1151.4l1.1 4.7M536.6 1220l1.3 4.4M565.6 1307.5l1.7 4.5M511.3 1107.1l1.9 9.3M509.6 1083.2l1 5.9M525.7 1161.3l1.6 6.5M517.2 1109.7l2 10.4M529 1164.5l1.3 5.2M532.7 1180l1.5 6M514.7 1081.4l2.1 11.9M537.7 1190.3l2.2 8.4M529.6 1145l1.3 5.9M538.4 1183.5l1.3 5.2M574.9 1302.2l2.2 6.6M567.2 1271.8l2 6.6M578.9 1308.6l1.1 3.4M532.3 1104.9l1.5 8.5M548.3 1184.4l1.8 7.7M550.1 1192.1l1.6 6.6M575.5 1286.1l2.2 7.2M543 1148.7l1.2 6M571.4 1265.3l2.6 9M556.6 1199.9l1.4 5.8M540.3 1105.3l1.2 7.1M588.3 1309.2l0.9 2.8M565.5 1218l1 4.2M544.5 1097.6l1.8 11.5M570.5 1219.8l2 8.4M583.4 1271.7l1.8 6.6M545.2 1063.4l2.5 19.2M555.4 1132.3l0.8 4.8M559.1 1153.5l1 5.5M579.4 1238.7l2 8.4M587.9 1265.3l1.4 5.8M583.9 1219.1l1.8 8.4M572.6 1126.3l1.3 8.7M577.1 1155.9l0.7 4.4M579.1 1168.1l1.3 7.6M579.1 1152.4l0.7 4.5M573.9 1096.9l1.4 11.2M608.2 1291.5l1.4 6.3M574.6 1078.9l0.8 7.5M588 1161.4l0.8 4.9M581.3 1063.7l2.7 26.3M587.4 1120l0.6 4.6M602.4 1207.1l0.7 4.4M593.4 1126.2l1 8.4M606.3 1217.1l1.1 6.6M613.4 1258.2l1.4 7.7M604.4 1189.8l0.9 6.1M609.3 1221.8l0.8 4.9M587.8 1000.4l0.1 1.4M611.7 1222.1l0.7 4.4M618.5 1263.5l0.9 5M596.5 1046l1.9 23.7M624.1 1272.1l1.5 8.8M607.6 1136.7l0.6 5.1M618.8 1208.7l1 7.3M620.7 1222.2l0.9 6.5M600 942.3l0.7 22M612.3 1132.8l0.8 8.1M620.4 1184.1l0.9 7.7M606.2 950.4l0.7 20.5M606.8 970.9l0.8 20.8M623.4 1166.6l0.7 6.6M614.7 934l1.3 44.8M622 1091.1l0.8 10.7M638.5 1257.7l0.6 4.5M643.9 1298.1l0.9 6.6M627.9 1134l0.8 8.9M624.7 1046.1l1.2 21.4M636.5 1200.4l0.5 5.1M640.7 1240.2l1 8.5M645.2 1260.9l0.9 7.7M631.5 1007.5l1.1 26.7M640.9 1168.6l0.4 4.7M645.3 1220l0.6 6M652.6 1291.6l0.7 5.9M636.2 1052.4l0.7 15M637.4 1010.6l0.8 21.2M638.8 1046.4l0.2 5.5M656.8 1274.6l0.6 6.2M642.7 996.4l0.5 16.5M651.7 1183.5l0.4 5.1M647.5 1054.4l0.7 18.8M663.8 1308.1l0.4 3.9M651.5 1000.1l0.4 16M651.9 1016.1l0.4 13.8M661.9 1232l0.4 6.3M655.4 1037.9l0.6 18.6M667 1276.5l0.6 8.7M658.8 1057.2l0.4 14.3M671 1305.5l0.4 6.5M660.6 1018.6l0.4 17.2M661.6 1057.7l0.4 14.3M664.4 1057.7l0 0.7M669.4 1137.2l0.1 4.2M673.3 1181.3l0.2 5.9M676.1 1254.1l0.2 5.5M679.9 1297.1l0.2 5.7M681.1 1275.6l0.1 4.3M677.6 1000.8l0.2 18.3M684.8 1262l0.1 4.6M686.3 994.7l0.1 13M687 1101.2l0.1 11.3M689.8 1119.9l0.1 9.8M690.9 1256.5l0.1 7.4M692.7 1184.3l0 5.7M692.9 1227l0 8.8M695 958l0 7M695.2 1290.8l0 4.4M697.6 1143.3l-0 6.4M697.6 1160.8l-0 8.3M697 1306.4l-0 5.6M700 1172l-0 6.3M703.9 957.5l-0 7.1M703.3 1074.1l-0.1 7.7M706.1 1071.4l-0.1 6.6M709.5 1007.1l-0.1 15.1M705.4 1268.5l-0.1 4.3M709.3 1193.1l-0.2 7.3M711.4 1205.8l-0.2 7.1M713.6 1208.4l-0.2 6.6M710 1306.6l-0.2 5.4M713.1 1278.8l-0.2 5.5M720.7 1138.6l-0.3 8.6M722.8 1154l-0.2 4.2M716.8 1285.1l-0.3 5.2M728.5 1057.8l-0.2 5.6M724.7 1167.6l-0.2 4.2M735.2 1017l-0.5 20.9M727 1217.3l-0.3 5.7M733.4 1142.5l-0.4 8M723.6 1299.2l-0.3 4.5M740.7 1025.5l-0.3 10.9M739.7 1055.1l-0.7 19.1M739 1074.2l-0.8 20.3M730.9 1226.7l-0.6 8.8M730.3 1235.5l-0.4 5.5M744.4 997.7l-0.4 16.3M742.6 1054.3l-0.6 15.4M731 1280l-0.5 5.1M729.6 1296.3l-0.7 8M752.9 1072.6l-0.1 1.7M738 1270.1l-0.6 5.9M759.6 973.5l-0 1M758.1 1018.6l-0.5 11.4M757.6 1030l-0.9 19.6M747.5 1190.5l-0.4 5M755.2 1157.1l-0.6 6.8M747.8 1236l-0.8 7.3M766.8 1015.6l-0.5 10.2M766.8 1070.1l-0.4 5.8M757.8 1183.1l-0.7 7.5M763.1 1153l-0.5 5.1M752.8 1249.5l-0.6 5M746.4 1299.1l-1.1 7.9M759.9 1208l-0.9 7.9M757.3 1230.6l-0.6 4.8M780.1 974.2l-2.5 54.9M777 1040.7l-1.7 26.3M778.5 1060.9l-0.5 6.8M770.5 1155l-0.6 5.9M762.2 1227l-1.1 8.2M758.8 1252.7l-0.9 6.5M751.5 1302.6l-1.1 6.8M786.2 968.4l-2.5 54.6M781.8 1053.6l-0.9 12.4M759.2 1278.1l-1.4 8.7M755.7 1300.1l-1.1 6.8M793.1 936.7l-0.7 23.8M775.3 1196.8l-0.9 6.8M766.6 1256.9l-0.9 5.7M758.9 1303.5l-1.2 7M791.5 1071.5l-0.7 7.7M802.8 901l-0.2 12.4M803.8 969.8l-0.1 1.3M802.2 1000.4l-0.1 1.4M800.1 1067.6l-1.5 15.8M790.1 1176.3l-0.6 4.2M793.9 1167l-1.2 8.2M797.3 1160.5l-1.2 8.1M783.1 1269l-1.4 6.9M783.3 1277.4l-1.7 7.9M808.6 1152.3l-0.6 4.2M807.9 1156.5l-0.8 5.2M803 1186.7l-1.4 8.4M799.1 1208.9l-1.1 6.2M828.3 1000.8l-1.1 15M822.8 1062.7l-0.8 7.6M833.6 962.5l-2 32.2M787.3 1286.4l-1.4 5.9M831.2 1034.5l-3.6 34.5M810.3 1186l-1.5 8.2M798.8 1244.4l-1.3 6.2M792.2 1273.8l-1 4.4M841.3 919l-1.1 28.8M810.1 1199.7l-0.9 4.9M792.1 1282.9l-1.2 4.9M834.2 1059.9l-1.5 12.8M832.7 1094.1l-1.6 11.6M825.3 1142.9l-1.1 6.8M817.4 1186.8l-0.8 4.1M814.2 1203.1l-1.2 5.9M832.4 1114.8l-1.8 11.4M809 1237.6l-1.8 7.6M836 1108.2l-1.8 11.4M832.1 1133.1l-1.2 6.9M802.6 1272.8l-2 7.6M824.7 1186.3l-1.3 6.2M857.6 955.1l-1.3 20.5M817.1 1231.2l-1.3 5.3M841.1 1140.4l-0.8 4.3M815.2 1271.1l-2.3 8.2M812.9 1279.3l-2.2 7.6M847.3 1147.6l-1 5M840.5 1180.1l-1 4.4M828.6 1229.6l-2.2 8.3M875.4 953.8l-3.5 45.4M832 1233.3l-1.6 5.8M872.6 1044.1l-3 21.7M859.8 1123.5l-1.3 6.8M843.5 1207l-2 7.5M824 1293.7l-1.6 4.6M872 1127.4l-1.1 5.2M862.1 1171.2l-1.3 5.2M856.8 1191.9l-1.6 6M835.1 1266.2l-2.7 8.2M827.1 1295.8l-2.5 7M847.7 1239.9l-2.1 6.8M837.5 1271.4l-2.7 7.9M891 1069.7l-1.2 7.1M850.5 1237.9l-1.6 5.2M845.9 1252.2l-1.5 4.6M906 977.9l-3.3 31M900 1029.7l-5.2 34.1M894.8 1063.8l-0.9 5.2M833.8 1293.1l-2 5.4M877.4 1159.6l-1.9 7.6M841 1278.8l-2.5 7M889.4 1119.5l-2.3 10.1M887.2 1129.6l-1.2 5.3M834.9 1300.5l-2.5 6.6M867.8 1211.1l-2.2 7M856.3 1246.6l-1.7 5M883.3 1165.2l-1.2 4.6M863.1 1232.7l-1.5 4.6M845.3 1283.2l-2.8 7.3M900 1140.2l-2 7.7M850.2 1290.7l-2.6 6.3M933.6 965.4l-3.9 35.6M910.2 1109.6l-2.8 11.8M913.4 1107.3l-2.6 10.9M931 1031.9l-5.6 31.6M918.6 1096.2l-2.1 9.2M901.9 1161l-2.2 7.5M887.6 1206.9l-1.8 5.3M885.8 1212.2l-2.5 7.3M927.6 1066.6l-3.6 17.6M906.2 1154.7l-1.6 5.5M900.1 1175.3l-2.6 8.5M871 1258.8l-3.5 8.8M862.1 1285.5l-2 4.6M889.4 1221.4l-1.8 5M891.6 1221.7l-2.6 7.1M866.5 1284.4l-3.3 7.6M945.5 1030.1l-6.1 32.6M938.9 1065.5l-3.6 16.6M913 1165.4l-2.6 8.2M884.8 1245.3l-2.5 6.1M951.4 1010.7l-3.3 20.6M895.9 1222l-2.3 6.1M929.1 1128l-1.6 5.6M884.7 1265.7l-3 6.9M887.4 1264.3l-3.4 7.7M933.4 1148.1l-2.9 9M928.9 1162.3l-2.2 6.7M900 1239.8l-3.5 8.4M882.1 1280.6l-3.4 7.3M958 1066.8l-2.2 9.6M922.9 1186.7l-2.7 7.5M913.4 1212.2l-2.9 7.3M976.8 973.8l-4.3 31.5M937.5 1151.4l-2.2 6.6M943.2 1141.3l-1.4 4.5M934.1 1169l-1.6 4.7M903.5 1246.9l-2.2 4.9M915.9 1223l-3.1 7.4M886.9 1287.1l-2 4.1M950 1136.1l-2.8 8.6M947.2 1144.7l-1.3 4.1M915.1 1230l-2.7 6.2M950.1 1143.8l-1.7 5.3M986.4 1008.5l-2.1 12M893.8 1284.9l-3.7 7.4M971.1 1091.1l-2 7.4M895.5 1285.6l-3.6 7.1M891.8 1292.7l-3.9 7.4M1003.6 895l-1.1 24.7M976.6 1080.6l-2.3 8.7M962.2 1130.3l-2.8 8.6M953.8 1155.3l-3.2 9M966.4 1125.3l-1.4 4.3M899 1286.4l-2.8 5.3M985.7 1066.5l-2.5 9.9M976.4 1110l-2.7 8.6M969.2 1132.7l-1.8 5.5M958.2 1163.9l-3.2 8.4M945.7 1195.5l-2.6 6.2M996.2 1045.9l-4.2 17.8M903.3 1289.4l-4.3 7.9M907.3 1285.4l-2.8 5.2M919.1 1267l-4.5 8.6M1023.9 911.5l-5 55.2M992.6 1091.8l-1.6 5.3M1026.5 917.4l-4.8 50M1017.5 995.8l-4 22.2M953.3 1205.1l-3.6 8M926 1261.7l-3 5.6M903.9 1302l-2.8 4.9M1008.6 1052.6l-7.8 29.4M942.4 1233.4l-2.4 4.9M940 1238.3l-3.5 7M992.5 1117.7l-3.4 10M1001.8 1097l-2.5 8M966.4 1191.6l-3.2 7.3M921.9 1280.6l-4.3 7.5M982.5 1164.9l-3.1 7.4M964.4 1206.4l-2.1 4.5M1045.7 891.5l-4.8 64.1M1043.5 979.3l-11.4 57.8M984.1 1178.5l-4.1 9.2M920 1300.3l-3.2 5.1M1006.1 1130.8l-3.8 10M996.3 1155.8l-5.4 12.9M984 1189.4l-2.8 6M945.2 1264.4l-4.5 7.8M927.7 1293.9l-4.5 7.2M1036.9 1051.7l-2 7.3M1018.6 1110.7l-3.2 9M1061.6 926.5l-6.7 54.1M1055 980.6l-10.2 50.9M990.7 1185.4l-3.4 7.2M1049.9 1021.8l-5.5 22.6M1019.8 1122.2l-2.9 7.7M979.3 1213.5l-4.5 8.7M951.7 1263.9l-4.6 7.7M1046.9 1055.9l-1.3 4.5M1022.8 1127.8l-3.6 9M1034.9 1102.4l-1.8 5.1M970.7 1241.9l-4.6 8.1M1005.9 1178.8l-5.5 11.5M1027.4 1135.8l-5.2 12.3M1010.3 1174.6l-3.1 6.5M959.7 1274.2l-4.6 7.2M1000.4 1212.7l-7.8 13.9M1091.4 953.5l-11.3 61.6M1053.1 1103.8l-2.1 5.6M1048.5 1115.7l-3.6 9M1001.5 1214.8l-4 7.2M991.1 1233.1l-7.5 12.6M971.4 1265.4l-2.8 4.3M952.2 1294.6l-2.8 4.1M1084.9 1006.7l-3.1 13.3M1005.3 1212.1l-4 7.1M947.2 1304.5l-5.3 7.5M1068.5 1075.8l-4.8 13.7M1049 1127.4l-4.4 10.4M1103.6 924l-3.6 31.3M1086.5 1024.2l-6.3 23.2M978.5 1264.1l-9.2 14M1078.3 1062.5l-2.5 7.6M958.3 1296.9l-3 4.3M978.4 1270.5l-8.5 12.5M995.1 1251.4l-8.7 13.3M1086.8 1070.6l-3.2 9.2M1073 1107.5l-3.5 8.5M1038 1186.8l-5.2 9.5M999.1 1251.8l-6.2 9.3M1081.6 1099.4l-3.6 9M1071.7 1123.2l-3.5 7.9M1055 1158.9l-3.7 7.4M1051.2 1166.3l-4.7 9.1M988.8 1270.1l-4.6 6.6M1066.2 1141l-4.1 8.6M1020.6 1224.8l-5.5 8.7M1095.2 1078l-2.6 7.1M1131.7 940.2l-5.3 34.2M1086.2 1107.7l-5.5 12.9M1068.2 1147.4l-6.9 13.8M1039.1 1201.6l-8.3 14M1138.1 902.5l-2 24.8M1096.6 1088.7l-3.8 9.7M1036 1214.5l-8.2 13.1M1000.6 1268l-6.1 8.4M1045.7 1202.4l-5.8 9.6M1137.9 975.6l-5.3 24.7M1115.3 1059.9l-11.8 31.6M1079.8 1144.4l-3.9 7.8M1075.9 1152.2l-3.5 6.7M1122.1 1056.5l-7.7 21.4M1059.4 1191.2l-5.3 8.8M1074.7 1168.6l-5.3 9.5M1129.7 1050.7l-8.8 24.6M1026.8 1251.7l-6.3 8.7M1106.9 1120.6l-3.5 7.4M1103.4 1128l-5.6 11.2M1044.3 1229.6l-9 13.1M1098.2 1143.4l-5.8 11M1088.9 1160.8l-7.6 13.5M1076.9 1181.8l-6.5 10.8M1021.8 1269.7l-7.2 9.3M1015.2 1280.7l-7.4 9.3M1135.5 1086.5l-4.9 11.4M1115.6 1129.5l-3.9 7.7M1022.5 1274l-9.2 11.5M1165.9 1006l-5.8 20.3M1125.9 1113.8l-3.6 7.3M1095.3 1175.5l-7.2 11.7M1143.3 1093.6l-3.5 7.8M1127.6 1126.4l-5.7 10.9M1033.5 1270.3l-4.9 6.1M1165.5 1044.7l-5 13.7M1021.7 1287.3l-8.6 10.2M1129.7 1137.2l-4.7 8.6M1092.5 1198.8l-6.8 10.1M1204.4 894.5l-2.4 30.2M1011.2 1308.2l-3.4 3.8M1210.8 884l-3.9 49.4M1119.9 1167.2l-7.6 12.1M1151.7 1115.1l-5.4 10.5M1026 1295.8l-5.6 6.3M1148.4 1131.2l-5.3 9.5M1114.1 1187.7l-8.9 13.1M1073.7 1243.5l-9.3 11.7M1225.2 897l-5.3 48.6M1189.4 1055.6l-7.1 17.2M1180.5 1083.2l-4 8.6M1151.6 1139.4l-4.8 8.2M1038.9 1294.2l-11.8 12.8M1111 1209l-9.2 12.3M1232.5 958.4l-15.2 59.2M1087.9 1244.6l-6.7 8.1M1188.1 1095.7l-5.7 11.2M1182.4 1106.9l-6.1 11.4M1083.6 1254.9l-5.3 6.2M1176.5 1132l-4.5 7.6M1166.4 1148.6l-4.1 6.5M1162.3 1155.2l-6 9.3M1148.8 1175.7l-5.2 7.6M1143.5 1183.3l-9.1 12.8M1237.9 997.2l-11.1 34.2M1149.7 1178l-9.8 13.9M1212.9 1072.3l-3.5 7.5M1209.4 1079.8l-5.6 11.6M1199.6 1099.5l-4.3 8.2M1095.3 1251.1l-5.9 6.8M1180.5 1138.1l-4.6 7.5M1264.8 882l-4.7 53M1204.1 1101.3l-3.3 6.2M1192.2 1122.9l-4.5 7.6M1192.7 1126.4l-4.6 7.7M1060 1296.2l-12.9 13M1061.5 1296.6l-8.2 8.3M1248.6 1026.3l-7.6 19.6M1214.6 1101.6l-5.3 9.7M1192.6 1139.4l-7.7 12M1093.7 1267l-9.4 10.1"/><path stroke="#0067e1" d="M104 863l2.5 52.7M160.8 1089.1l6.5 12.1M203 1159.3l4.6 6.7M207.7 1166l9.8 13.7M232 1198.9l8.3 10.5M160.3 1082.8l3.8 7.4M246.4 1214.1l9.8 11.9M256.2 1226l10.1 11.9M110.7 894.2l4.8 44M200.9 1148.7l5.1 7.7M182.6 1114.5l6.5 11.1M218 1166.7l7.2 10.2M122.9 898.5l3.3 32.5M167.3 1068.6l3.4 7.3M186.4 1107l6.3 11.2M235.9 1185.2l7.5 10.2M274.1 1231.5l7.4 8.9M233.9 1171.9l9.5 13.6M266.7 1213.8l7.9 10.1M147.4 966.3l8.2 32.7M208.7 1123.4l4.4 7.6M202.8 1107.7l3.3 6.2M151.1 955.5l12.2 50M213.9 1123.3l6.6 11.5M252.4 1181.2l5.3 7.7M208.5 1103.3l4.3 8.3M285.4 1223.2l6.8 8.7M320.7 1266.4l9.4 10.7M263.3 1190l8.5 12M229.6 1132.7l7.2 12.4M192.7 1049.8l7.2 17.8M323.6 1262.5l8.8 10.3M214.3 1093.2l5.3 10.8M168.5 908.2l5.5 43.2M212.3 1077l4.1 9.2M206.1 1055.4l7.9 19.2M218.3 1084.4l2.9 6.4M264.1 1169.3l7 10.9M242.9 1128.7l3.7 6.8M302 1221.3l7.8 10.5M323.3 1243.8l6.3 8M366.4 1295.9l10.5 11.8M246.6 1120.9l3.7 7.1M185 868l0.7 28.7M185.7 896.7l2.7 31M219.6 1054.2l8.6 21.5M264.1 1148.3l3.9 6.8M265.6 1146.5l5.2 9.1M253.7 1114l6.3 12.6M345.8 1259.1l9.1 11.5M273.1 1146.3l7.5 13.3M319.6 1220.6l7.7 10.8M265.7 1122.4l6.8 13.3M321.8 1217.3l7.5 10.7M206 869l3.7 62.3M222.9 1001.5l6.6 23.4M254.8 1093.2l4.1 9.1M345.2 1241.2l8.7 11.9M324.9 1208.2l8.2 12.3M228.8 976.5l6.9 29.7M304.7 1171.4l3.5 6M321 1198.5l7.7 12M369.3 1268.1l7.4 9.6M232.7 981l3 13.4M301.3 1160.9l7.2 12.7M225.3 907.2l7.5 59.3M231.5 939.3l13.3 68.3M272.7 1069.8l3.6 9.5M395.3 1286.3l9.8 12.7M252.6 992l8.6 33.8M269.1 1051.4l10.9 30.4M322.1 1171.6l6.3 11.2M362.2 1237.4l4.2 6.2M319.5 1162.2l4 7.4M412.7 1303.8l6.5 8.2M260.9 1002.7l9.2 34.2M305.9 1129.9l5.3 11.1M357.1 1222.7l7.1 11M393.6 1276.1l7.9 10.6M385.7 1259.3l7.6 10.9M336.4 1175.4l6.5 11.8M380 1247.7l5.9 8.8M365.9 1222.4l4.2 6.8M266.8 958.2l6.3 34.5M266.2 885.5l3.4 49.3M325.1 1126.4l2.8 6.2M350.6 1179.3l3.6 6.7M368.4 1207.4l7.7 13.2M423.7 1293.2l3 4.1M384.6 1227.3l5.7 9.4M301.8 1028.4l7.3 25.8M333.8 1122.3l2.8 6.7M405.9 1258.1l5 7.7M397.7 1241.7l8.5 13.7M287 873l4 66.9M296.2 975.8l2.9 15.4M345.7 1138l5 11.3M395.4 1234.2l7.1 11.8M308.8 1022.2l4.4 16.8M343.9 1127.9l5.9 13.7M441.1 1301.7l5.5 7.7M310.9 1019.3l5.4 21.1M308.3 994.3l3.9 18.1M332.3 1083.2l3.4 9.8M342.9 1112.4l3 7.7M346 1120.1l3.8 9.3M408.7 1242l7.9 13.2M315.1 999.2l5.2 23.5M358.6 1132l4.5 10.9M309 905.2l3.4 40.1M320.4 996.6l5.1 23.8M337.2 1063.9l2.3 7.4M376.8 1167.9l5.7 12.2M332.1 1035.5l5.2 19.2M366.8 1139.5l2.7 6.4M397.6 1205.7l5.2 9.8M314.2 884.5l3.4 53.6M321 965.7l4.3 25.7M423.2 1248.3l2.5 4.2M396.3 1193.7l3.8 7.7M400.1 1201.3l4.4 8.7M377 1145.4l5.5 13M438.6 1267.4l4.9 8.2M334.3 993.3l2.8 14.4M341.1 1026l3.4 14M344.5 1040l8.4 30.6M382.6 1146.7l3.2 7.7M400.1 1176l4.9 10.8M414.6 1207l6.3 12.6M447 1267.7l2.6 4.5M452.6 1277.3l3.4 5.7M402.1 1175.2l5.1 11.4M440.7 1252.9l3.2 5.7M414.9 1187.5l2.9 6.5M435.7 1231.1l3.2 6.3M354.3 972.3l10.9 59.5M481.3 1308.9l1.9 3.1M362.4 1004l6.7 32.3M390.2 1111.2l2.3 6.9M401 1141.8l3.3 8.7M425.9 1201.5l3.6 7.9M432.5 1215.6l2.9 6.1M402.7 1139.4l2.3 6.1M413.2 1166.5l5.2 12.4M426.3 1197.2l4 8.8M356.1 882l3.2 57.9M389.8 1093.1l3.1 10M428.3 1191l3.2 7.4M460.6 1258.5l3.2 6.1M363.8 921.5l7.3 65.4M395.7 1094.6l2.6 8.7M455.1 1243.7l2.7 5.4M478.9 1288.6l3.8 6.8M423.6 1167.7l2.3 5.9M436.6 1199.1l2.3 5.2M455.9 1236.3l2.8 5.8M458.7 1242.1l4.2 8.6M410.5 1116.6l3 9.3M415.8 1132.8l1.4 4.2M423.7 1155l2.2 5.8M470.9 1262.3l2.9 5.6M391.3 1033.9l3.3 15M425.1 1152l2.2 6.1M442.6 1196.7l3.7 8.7M477.6 1271.4l3.7 7.2M409 1094l2.7 9.2M480.2 1272.5l2.8 5.3M494.4 1299.2l2.6 4.7M421 1124.9l2.8 8.6M487.7 1279.3l3.4 6.6M404.4 1042.5l7.2 30.8M460.1 1216l2.4 5.5M402.4 1018.1l5.9 29.6M457 1203.1l1.7 4.2M461.8 1214.6l3.3 7.8M414 1060.6l2.8 11.8M451.7 1183.6l1.6 4.1M412.2 1024.3l4.1 20.7M505.4 1294.9l2.6 5.2M445.7 1145.6l2 6M449.6 1149.6l1.8 5.5M469.4 1204.9l2.6 6.7M418 1008.2l3.2 18.6M417 980.5l3.5 24.8M420.4 1005.2l4.1 24.5M496.2 1258.6l3 6.8M432.4 1055.3l6.4 28.3M472.9 1195.6l1.7 4.5M473.3 1190.2l1.8 4.9M513.1 1286.9l3.4 7.3M497.3 1246.4l1.8 4.3M510.9 1277.6l4 8.7M514.8 1286.3l1.9 4.1M449.4 1093.6l2.3 9.2M504.9 1259.4l3.6 8.4M434.4 979.7l4.8 35.3M435.4 960.8l3.2 28.7M519.9 1275.2l2.9 6.7M530.2 1298.8l1.9 4.2M437.9 911.4l3.9 54.8M441.8 966.2l2.3 21M516.9 1263.2l3.1 7.5M478.3 1134.4l2.1 7.8M480.4 1142.3l1.7 6.1M511.4 1238.1l2.2 5.9M467.8 1079l1.7 7.8M483.8 1145.1l1.4 5.2M499.7 1198l2.2 6.8M540.2 1304.4l2.7 6.1M451.1 935.1l6.3 65.4M508.4 1210.2l2.2 6.5M515.6 1231.3l1.6 4.6M520.5 1245l2.6 6.9M472.7 1061.7l1.1 5.8M475.8 1077.7l2.4 11.6M484.6 1118.2l1.3 5.2M499.8 1175.3l2.3 7.9M514.9 1223l1.5 4.5M532.7 1271.8l2.1 5.3M518 1225.4l1.9 5.6M495.4 1140.7l1.2 4.6M487.5 1081.8l1.2 6.1M511.8 1183l2.2 7.8M496.2 1111.2l2.6 11.6M554.5 1302.8l2.1 5.3M512.4 1167.5l1.2 4.6M531.9 1233.8l2 6.1M496 1083.6l1.5 7.8M503.5 1120.5l1 4.7M512.5 1158.3l1.1 4.2M524.3 1201.7l2.1 7.3M527.8 1213.4l2.6 8.4M518 1160.5l1.3 5.2M543.9 1250.6l2.3 7M548.7 1265.4l2.2 6.5M548.1 1257.1l1.5 4.7M548.8 1252.6l1.7 5.3M535.7 1200.7l1.3 4.7M549 1246.7l1.7 5.6M546.8 1231.8l1.5 5.1M570.4 1305.4l1.7 4.9M526.7 1131.5l1.6 7.6M537.6 1169.7l1.2 5.2M546.2 1195.8l1.9 7.5M550.3 1211.8l1.5 5.7M551.8 1217.5l1.8 6.6M553.5 1224.1l1.8 6.5M562.1 1254.6l2.5 8.3M541.6 1165.7l1.2 5.3M539 1127.9l1 5.4M545.1 1158.9l1.3 6.3M543.5 1137.8l1.2 6.3M549.5 1168l1.5 7M584.8 1303.8l2.1 6.8M584.9 1297.9l2.1 7.1M555.9 1174.7l1.3 6.1M540.7 1071.9l0.7 5.4M552.6 1145.4l0.8 4.2M587.3 1286l2.2 7.8M593.1 1306.7l1.5 5.3M580.1 1250.5l2.2 8.8M597 1307.5l1.3 4.5M586.2 1258.4l1.7 7M564.8 1142.6l1.2 7M592.7 1276.2l2.1 8.4M570.3 1160l1 5.9M573.6 1149.4l1.3 7.6M585.7 1216.3l1.7 8.2M582.2 1171.5l1 5.8M599 1259.5l1.6 7.1M602 1272.9l1.2 5.5M565.9 974.9l0.1 2.6M593.2 1207.3l0.9 4.9M614.7 1303.5l1.9 8.4M570.5 946.9l1.8 36.6M572.4 985.6l1.7 26.4M577.8 1057l0.6 5.9M608.9 1267l1 4.7M573.3 943.9l0.3 8.4M577.3 1016.4l0.8 10.9M588.5 1106.4l1.4 11.8M592.1 1136.4l0.6 4.5M592.7 1140.9l0.5 4.1M607 1234.6l1 5.5M581.6 994.2l0.1 1.7M611.7 1236.4l0.8 4.8M588.9 1017.9l0.5 8M589.4 1025.9l1.6 22.1M592.5 1064.7l3.1 32.6M614 1236.7l0.8 5.1M587.2 899.5l0.2 13.8M591.8 1018.5l0.6 9.5M623.6 1280.5l1.4 8.1M590.6 922.3l0.8 29.4M592.4 977.2l0 1.1M592.5 978.3l4.1 67.7M613.2 1201.4l1.2 8.5M602.6 1086.8l0.7 7.2M611.2 1167.7l0.7 6.1M596.1 893.5l0.9 47M597.6 960.6l0 0.8M598.6 983.6l3.8 64.9M605.7 1090.6l0.6 7.3M621.6 1228.7l1.2 8M621.4 1191.8l1 8.5M624 1213l0.9 6.6M623 1185.5l0.6 5.4M610.7 994.2l0.5 11.6M613.1 1040.7l1.6 24.7M616 1041.9l1.5 24M628.7 1193.7l0.5 4.3M617.8 1022.5l0 0.6M617.8 1023.1l1.1 20.3M623.4 1110.2l0.5 6.9M619.7 1000.8l0.7 15.9M625 986.2l0.7 18M642 1209.6l0.6 5.8M632.6 1034.1l1.2 25M649.8 1265.4l0.5 4.5M650.3 1269.9l1 8.9M648 1224.6l0.5 5.9M640 1072.5l0.5 9.8M641.8 1052.6l0.6 12.7M642.9 1076.2l0.5 9.4M641.1 904l0.3 30.8M652.7 1161l0.3 4.8M659.5 1257.4l0.4 5.1M648 971.1l0.3 13.6M649.7 1036.4l0.6 18.7M658 1206.1l0.5 7.6M660.8 1247.1l0.3 4.6M652.3 1029.9l0.2 7.3M667.4 1306.9l0.4 5.1M653.5 945.2l0.1 8.5M657.1 988.3l0.3 13.8M667.3 1247.5l0.4 7.4M663 990.3l1.4 67.4M673.6 1285.8l0.2 4.2M666.5 1029l0.2 11.5M669.6 1040.9l0.3 14.3M673.5 1187.2l0.2 5.9M676.9 1271.5l0.2 5.2M672.8 1059.6l0 1.3M672.8 1060.9l0.3 14.3M675.5 1174.7l0.3 8.5M676.6 1207.8l0.2 5.4M678.8 1205.8l0.2 7M677.8 1019.1l0.4 30.9M684.5 1249.3l0.1 4.5M693.1 1261.7l0 7.3M693.2 1277.8l0 4.1M695.1 1203.1l0 7.1M695.2 1267.4l0 8.3M700.8 994.8l-0 13M700.1 1155.2l-0.1 8.8M699.4 1246.2l-0.1 6.1M703.7 994.7l-0.1 13M702.2 1194.1l-0.1 7.8M701.6 1244.7l-0.1 7.2M704.6 1194.8l-0.1 7.4M705 1287.1l-0.2 7.1M715.5 980.8l-0.1 12.3M715.2 1006.3l-0.2 15.2M715.1 1021.5l-0.3 20.2M709 1283.8l-0.3 8.7M720 1061.9l-0.2 8.6M715.7 1215.1l-0.3 8M715 1233.2l-0.2 4.7M713.8 1263.1l-0.2 5.1M724.2 988.9l-0 2.3M714.9 1283.2l-0.4 7.8M726.6 1019.3l-0.4 20.5M719.7 1268.8l-0.5 7.9M727.6 1158.6l-0.2 4.5M733.4 1078.3l-0.1 2.5M730.1 1157.9l-0.3 7M727.4 1209.4l-0.4 7.9M740.4 1036.3l-0.6 18.8M734.5 1168.6l-0.5 8.6M743.9 1014l-0.7 21.3M737 1169.3l-0.4 7.1M737.7 1195.3l-0.3 4.2M750.2 995.8l-0.5 15.9M746.2 1095.8l-0.4 7.7M740.3 1221.2l-0.6 6.7M757 961.1l-0.4 15.2M735.1 1297.9l-0.7 6.9M753.3 1113l-0.5 8M736.4 1303.3l-0.6 5.2M763.9 902l-0.1 10.7M763.7 912.7l-0.2 15M756 1111.1l-0.6 8.9M740.7 1282.2l-1 8.9M758.8 1144.6l-0.4 5M748.3 1251.6l-0.6 5.6M741.3 1309.3l-0.4 2.7M759.5 1190.4l-0.6 5.8M751.3 1261.4l-1 7.7M749.8 1273.5l-0.7 5.7M767 1137.9l-0.5 5.4M764.3 1166.4l-0.5 5.2M764.3 1189.7l-0.7 6.5M756.3 1255.5l-1 7.5M764.8 1205.7l-0.7 5.6M774.6 1139.1l-0.5 4.8M790 942.2l-0.7 22M778.3 1127.6l-0.6 6.3M771.4 1190.5l-1 7.9M770.4 1198.4l-0.6 4.6M793.3 929.6l-0.2 7.1M788.7 1034.3l-2.1 29.2M779.1 1144.9l-0.6 5.5M770.8 1229.1l-1.1 7.7M797.6 977.6l-2.5 45.4M794.6 1030.2l-2.2 29.8M787.1 1142.1l-0.6 4.8M800.6 1026.2l-1.7 23M786.9 1182.4l-0.6 4M791.1 1169.8l-0.9 6.5M803.1 1093.3l-1.2 11M795.1 1158.7l-1.2 8.3M782.6 1237.9l-1 5.9M800.2 1174.4l-0.7 4.6M791.1 1228.1l-1.5 8M826 931.4l-2.2 49.1M823.8 980.5l-1.6 25.4M822.1 1005.9l-0.1 1.7M804 1165.5l-0.9 5.5M785 1269.5l-1.7 7.9M778.3 1300.3l-2 8.8M803.9 1181.3l-0.9 5.4M830.3 968.2l-1.9 30.4M838.8 898.5l-1.7 53.3M834.8 990.5l-0.2 2.6M827.3 1113.6l-0.8 5.5M788.7 1303.9l-1.8 6.9M802.8 1255l-2 8.2M791.9 1298.9l-2 7.7M847.6 974.7l-6 69.4M841.6 1044.1l-3.1 26.9M819.6 1187.9l-1.6 7.8M803.2 1262l-1.3 5.4M853.2 921.6l-3 58.9M856.5 908l-0.8 24M833 1156.4l-1.6 8.6M861.1 946.1l-4.3 60.7M855 1024.2l-1.5 14.2M827.2 1196.7l-1 4.5M843.1 1128.9l-0.8 4.7M821.4 1231.8l-1.6 6.5M868.5 906.5l-3.1 65.5M856.1 1063l-1.1 8M865.5 1006l-2.6 24.7M842.3 1159.9l-1 4.7M834.6 1195.7l-0.9 4M819 1257.5l-2.1 7.5M873.2 940.6l-3 44.9M871.9 999.2l-2.6 25.4M880.7 899l-1.3 35.9M870.2 1040.8l-3.6 26.6M819.3 1277.8l-2.2 7.3M869.5 1065.8l-1.2 7.8M847.1 1183l-1.3 5.3M817.1 1297.1l-2.1 6.3M887.2 991.2l-8.5 69.1M855.4 1178.7l-1.1 4.4M819 1302.7l-2.4 7M816.6 1309.7l-0.8 2.3M895.4 909l-2.3 46.9M859.1 1173.2l-1.8 7.5M825.6 1289l-1.6 4.7M844.7 1235.1l-1.8 6.1M842.4 1249.8l-2.7 8.5M894.2 1030.6l-4.9 33.1M876.8 1129.2l-1.9 8.8M863.9 1183.1l-2.4 9M835.5 1288.6l-1.6 4.5M873.8 1173.5l-1.8 6.6M908.4 1009.5l-2.1 16.2M859.1 1231.5l-1.8 5.5M890.4 1126.9l-2 8.4M917.5 1005.7l-3.1 22.7M912 1044.3l-5 28.8M881.6 1180.2l-2.4 8.4M872.5 1210.8l-1.9 6M840.8 1304.7l-1.9 4.7M931.5 903l-1.1 25.7M889 1171.6l-2.2 7.5M871.6 1227.4l-2.2 6.5M934.5 903.5l-4.5 69M845.5 1302.2l-3.1 7.5M891 1181.3l-1.5 5.1M885.7 1198.4l-2.6 8.1M870.5 1242.9l-1.9 5.3M907 1133l-1.8 6.9M895.9 1173.2l-2.3 7.7M895.2 1183.2l-2.3 7.3M880.3 1234l-2.6 7.1M868.9 1269.3l-3.2 7.7M951.5 923.1l-3.3 42.9M942.4 1013.3l-4.4 27.2M938 1040.5l-3.1 16.6M873.3 1263.3l-1.9 4.5M857.1 1301.4l-3.7 8.3M853.4 1309.8l-1 2.2M905.9 1180.2l-2.1 6.5M918.9 1146l-2.1 7.1M858.4 1306.9l-2.4 5.1M933.7 1100.4l-2.1 8.5M897.9 1216.9l-1.9 5.1M955 1006.1l-2.8 17.6M934.6 1107.4l-1.8 7.1M896.7 1226l-1.8 4.7M914.4 1183.5l-3 8.7M970.5 899.5l-3.6 56.2M936.2 1121.3l-1.9 6.7M926.9 1152.9l-2.4 7.7M907.7 1209.1l-2.7 7.1M973.6 896l-2.6 47.5M951.3 1072l-1.2 5.3M938.5 1122.3l-1.4 4.9M936 1131.3l-1.9 6.6M915.9 1192.9l-2.9 8M970.6 976.8l-4.2 30.4M955.6 1064.7l-6.4 27.3M944.5 1110.1l-2.7 9.6M913.2 1206.6l-2.2 5.9M979.4 901.5l-4.2 60.3M971.2 994.2l-3.3 21.7M981.7 917l-2.4 33.4M911.4 1222.9l-3.7 8.9M965.1 1059.7l-6.8 28.7M906.8 1239.2l-3.3 7.7M950.1 1127.3l-2.1 6.9M960.5 1118.9l-2.6 8.5M890.1 1292.3l-4.5 8.7M953.9 1147.7l-1.9 5.5M928.3 1220.3l-3.1 7.2M886.5 1306.5l-3 5.5M946.7 1181l-3.3 8.4M926.7 1229l-2.4 5.2M1011.5 919.1l-6.3 62M960.7 1157.1l-2.5 6.8M943.1 1201.7l-3 7.2M1004.1 1006.1l-3.3 17.6M919.8 1257.3l-4.4 8.7M1016.8 928.5l-4.5 43.5M1000.3 1039.9l-4 17.4M969.7 1146.1l-1.6 4.3M901.9 1295.4l-3.5 6.3M985.6 1106.1l-2.9 9.4M977.6 1138.1l-4.8 13.3M961 1187.3l-3.8 8.8M944.7 1223.9l-2.7 5.7M931.9 1250.1l-3.1 6M1026.6 951.1l-3.6 28.3M905 1303.3l-4 6.7M1015 1037.3l-5.3 22.1M961.3 1197.8l-3.9 8.6M946 1230.6l-3.7 7.5M942.2 1238.1l-2.1 4.2M940.2 1242.3l-2.2 4.3M1020.1 1027.4l-2.6 11.8M939 1248.8l-2.1 4.1M953.1 1225.1l-3.5 7.1M917.4 1291.8l-4 6.8M1021.5 1045.8l-2.8 11.2M970.6 1192.7l-2.6 5.8M947.9 1239.9l-2.1 4.1M1031.2 1015.3l-3.9 18M975.8 1186.4l-3.6 8.1M969.7 1200l-3.4 7.4M1026.5 1048.5l-2.3 8.8M1001.1 1130.2l-4.9 13M970.7 1207.7l-3 6.2M1033.5 1042.8l-3 11.6M1024.3 1085.7l-2.5 8M1045.8 1014.2l-4.3 19M940.3 1276.3l-4.6 7.7M1020.6 1112.5l-3.2 8.8M1017.4 1121.3l-4.4 11.6M966.1 1234.4l-3.3 6.2M932.1 1293.1l-4.5 7.2M1066.5 895.5l-2.7 39.5M1009.3 1148.6l-5.3 12.6M990.2 1191.5l-6.4 13.2M956 1256.6l-4.3 7.3M1047.8 1042.2l-4.7 17.4M998.9 1178l-4 8.6M931.1 1300.6l-5.1 7.8M1058.9 1006.5l-3.8 17.4M1039.8 1079.8l-2.6 7.9M997.6 1191l-3.7 7.4M952.8 1272.4l-5.5 8.9M953.6 1280.7l-4.7 7.3M1013.1 1178.8l-5.9 11.9M1029.6 1148.7l-3.6 8M1014.1 1181.9l-5.2 10.4M955.9 1283.3l-5.1 7.7M1004.7 1204.7l-4.3 8.1M1080.1 1015.1l-8.3 32.2M1016.7 1186.2l-3.7 7.2M1033.8 1156.1l-4.8 10.2M1010.6 1202.5l-5.2 9.6M960.6 1285l-3.2 4.8M957.4 1289.8l-3.2 4.7M1056.7 1108.4l-4.7 11.8M1022 1185.2l-3.9 7.5M1018.1 1192.7l-5 9.4M966.1 1279.8l-3.4 5M1063.8 1096.7l-4.8 12.6M1054.9 1119.6l-2.7 6.4M1022.4 1189.1l-4.8 9M983.1 1256.9l-4.6 7.2M999.8 1233.5l-4.8 7.9M949.6 1309.1l-2.1 2.9M1110.9 907l-2 24.2M1087.1 1042.8l-9.3 29.7M954 1305.6l-4.1 5.7M1072.7 1094.6l-4.9 12.7M1048.7 1151.1l-3 6.3M1011.2 1221.7l-4.9 8.2M997.7 1243.8l-4.2 6.7M1008.9 1229.3l-4.7 7.7M1111.5 990.6l-2.3 10.8M1022.9 1213.5l-7.3 12.3M1085 1090.6l-3.4 8.7M1113.8 1028.8l-7 23.2M1025.9 1223.5l-4.8 7.6M1016.8 1237.8l-9.1 13.9M1109 1062.3l-3.3 9.5M984.6 1289.9l-10.2 13.4M1087 1123.9l-4.3 9.3M1031.4 1225.4l-6.8 10.5M1141.5 971.9l-13.2 55.7M1093.4 1121.4l-5 10.8M993.9 1287.8l-7.1 9.1M1062.4 1198l-6 9.6M1097.6 1149.5l-4.7 8.7M1083.7 1174.4l-4.2 7.2M1007.8 1289.9l-7.8 9.5M1047.7 1240.6l-6.7 9.2M1100.7 1162.1l-4.4 7.5M1036.3 1258.9l-7.4 9.7M1128.7 1113.5l-3.5 7.3M1051.5 1241.3l-6.2 8.4M1145 1083.2l-5.7 13M1088.6 1190.2l-8.8 13.7M1025.3 1278.1l-7.5 9.2M1098.1 1178.8l-4.1 6.6M1150.9 1082.4l-2.8 6.5M1117.8 1149.5l-4.3 7.6M1138.7 1114.7l-3.4 6.8M1036.5 1274.2l-6.3 7.7M1125 1154.5l-7 11.8M1067.5 1240.2l-9.4 12.2M1028.6 1288.3l-8.5 9.8M1205.8 958.8l-16.2 64.6M1116.2 1177l-8.1 12.5M1094.4 1209.6l-5 7M1153.2 1117.3l-4 7.6M1089.1 1223.2l-5.7 7.7M1101.4 1209.5l-5.1 7M1137.6 1158.7l-5.7 9.2M1089.4 1228.8l-5.7 7.4M1092.7 1230.3l-7.1 9.1M1190.2 1085.8l-5.5 11.5M1208.4 1057.1l-14.8 32.9M1178.3 1119.6l-7.9 13.9M1057.1 1285l-7.8 8.4M1199.8 1082.7l-4.1 8.5M1186.9 1108.6l-3.6 6.7M1136.7 1189.7l-6.1 8.4M1183.7 1119.4l-7.2 12.6M1254 912.4l-2.5 21.1M1206.6 1079.9l-3.2 6.7M1154.4 1171.1l-4.7 6.9M1095 1249l-9.4 10.9M1164.9 1159l-4 6.2M1123.4 1216.9l-10.5 13.2M1167.7 1158.5l-6.9 10.3M1214.9 1079.7l-5.2 10.6M1180.1 1143l-8.7 13.7M1113.1 1235.2l-5.2 6.2M1246.7 1006.3l-3.4 10.5M1158.4 1179.4l-7.2 10M1128.1 1219.5l-6.7 8.3M1167.2 1170.3l-5.4 7.7M1067.8 1290.2l-6.3 6.5M1072.9 1288.9l-7.4 7.5"/><path stroke="#0078f1" d="M120.4 987.6l7 23M159.1 1074.8l4.2 8.6M163.3 1083.4l3.9 7.6M174.1 1104l6 10.7M180.1 1114.7l7.5 12.7M255.6 1219.8l8.4 10.1M237.4 1193.6l8.5 11.1M277 1242.7l7.4 8.5M338.7 1308.3l3.7 3.7M176.5 1082.5l3.8 7.7M129.2 902.7l8.5 59.9M185.8 1095.7l3.7 7.2M221.2 1156.5l8.9 13.3M309.7 1267.9l8.8 9.7M197.5 1107.8l4 7.4M225.6 1151.7l6.8 10.5M246.4 1179.5l5.3 7.6M163.3 1005.5l5.2 16.3M159.4 980.3l5.7 21.4M223.2 1135l5.2 8.7M211.2 1103.4l3.1 6M302.4 1241.9l10 12.2M339 1282.6l8.9 9.9M240.2 1137.8l5.4 9.3M170 875l1 25.6M298.6 1210.3l4.3 6.1M184.2 916.7l10.7 65.6M344.8 1268.2l8 9.7M292.4 1190.7l4.9 7.5M334.8 1250.3l8 10.2M272.5 1154.2l6.8 11.6M279.3 1165.7l6.4 10.6M207.5 986.1l7.5 28.5M339 1250.2l6.8 8.8M380.9 1301.7l7.9 9M268 1136.9l5.1 9.4M287.5 1171.3l8 13.1M379.7 1298.1l11.1 12.8M210.3 956.1l5.3 27M306.9 1194.8l9.1 13.9M318.2 1208.5l7.6 11.2M325.9 1213.2l4.2 6.3M236.4 1019.3l5.9 19.4M248.9 1057.8l12.2 31.2M269.6 1108.4l3.2 6.8M338.6 1225.4l9.2 13.3M347.8 1238.6l5.6 7.9M294.2 1142.8l4.4 8.5M286.2 1115.7l6.2 13.2M323.1 1177.8l4 7M365.3 1245.2l7.5 10.8M305.1 1139l6.3 12.6M290.1 1100.4l4.4 10.4M254.9 975.1l5.9 27.6M311.2 1141l4.7 9.5M382 1260l5.7 8M257.3 972.2l7.3 34.2M334.3 1180.4l6.9 12.1M266.6 1002.4l7.7 29.6M274.3 1032l4.9 16.3M307.6 1116.5l6 13.5M390.7 1263.5l7.2 10.2M303.7 1100.9l3.9 9.4M301.8 1089.1l3.7 9.4M334.2 1161.8l5.4 10.5M370.3 1225.8l3.9 6.3M407.6 1281.6l9.8 13.4M369 1212.3l3.6 6.1M318.8 1105l4.6 11.3M407.8 1270.4l7.9 11.5M275.1 882l5.2 67.6M363.2 1193.9l5.7 10.4M391.4 1242l6.2 9.8M426.8 1294.9l5.9 8.2M434.8 1303.4l4.1 5.6M281.1 882l0.8 21M372.5 1202.2l6.6 11.7M432.7 1292.3l4.1 5.9M424.1 1273.5l5 7.6M299.6 936.7l4.3 32.3M312.2 1012.4l5.1 21M366.9 1167.8l6.2 12.8M373.1 1180.6l5.7 11.3M409.4 1246.8l8.1 13.2M410.6 1241.4l7.2 12.1M422.4 1261.2l3.6 5.9M352.4 1116.4l2.6 6.8M343.6 1084.3l4.5 13.1M327.7 1017.5l4.3 18M438.3 1276.9l2.6 4.1M325.2 991.4l7.3 34.5M352.7 1095.3l2.9 8.2M453.6 1297.7l5.9 9M433.3 1262l2.5 4.2M351.6 1075l3.5 11.2M468.5 1309.2l1.8 2.8M411.5 1205.5l6.1 12.1M446.1 1269.6l4.5 7.7M469.1 1307.1l3.1 4.9M349.3 1024.4l4.5 19M367.1 1089.7l4.5 13.8M431.4 1239.8l2.9 5.4M438.9 1253.4l2.8 5M335.2 885l3.4 55.5M373.6 1101.3l3.2 9.5M431.7 1236.3l4.6 8.6M466.6 1294l3.2 5.3M342.4 913.7l1.9 24M371.2 1066.6l3.2 11.4M387.1 1109.8l3.5 10.2M441.4 1238l2.6 5.1M452.5 1259l2.8 5.1M446.7 1244.1l3 5.8M359.3 939.9l5.8 45.9M422.1 1181.9l3 6.9M441.1 1219.3l3.7 7.8M463.8 1264.7l2.4 4.5M402.6 1116.7l4.5 13.4M467.5 1267.8l3.8 7.1M365.3 891l3.7 56.2M393.5 1077.7l3.1 11.1M477.1 1281.7l4 7.3M410.9 1126l2.8 8.2M413.7 1134.2l2.4 6.7M417.7 1145.5l1.6 4.5M466.6 1257.9l3.2 6.2M402.2 1089.4l3.3 11.2M405.5 1100.5l2.2 7.2M465.7 1251.9l2.4 4.8M486.4 1291.6l3.8 6.9M423.3 1146.8l1.9 5.2M430 1165.1l3.4 8.7M408.4 1082.2l2.9 10.6M462.1 1225.8l3.4 7.6M489.5 1278.8l2.5 4.8M495.6 1290.8l3.9 7.3M431.4 1133l2.9 8.8M442.5 1165.5l2.9 7.8M458.8 1207.3l3.1 7.3M466.3 1219.9l2.1 5M483.5 1258.2l2.1 4.5M493.3 1278.6l3.6 7.2M395.6 902l3 45.5M398.6 947.5l7.4 58M408.8 1021.7l4.2 21.3M464.5 1204.3l3.5 8.6M484 1250.3l2.8 6.2M426.2 1077l9.2 34.7M476.2 1227.3l3.5 8.2M462.2 1185.9l1.6 4.2M448 1136.4l2.1 6.6M450 1143l2.1 6.5M465.2 1187.7l2.4 6.4M411.5 920.8l2.7 34.5M460.1 1158.6l2.8 8.4M489.9 1239l2.3 5.6M419.8 908.5l1.7 29.4M421.6 937.9l6.6 60.7M428.1 998.6l3.5 22.4M443.9 1082.1l1.7 7.3M466.9 1164.4l2.2 6.6M422.2 890.5l3.8 65.7M443.2 1066.8l1.8 8.3M491.7 1227l3 7.5M508.5 1267.8l2.8 6.3M464.4 1140l2 6.6M502.5 1248.5l2.1 5M500.7 1238.5l1.8 4.6M510.9 1258.7l3.7 8.9M437.7 953.6l7.5 62.6M471.1 1136.2l2.1 7.6M503.5 1234.6l2.5 6.4M460 1081.1l1.4 6.2M467.9 1091.9l2.2 9.7M487.9 1168.1l1.5 5M465.2 1051.2l0.7 3.8M543.9 1308.8l1.4 3.2M536.7 1287l2.9 7M467.1 1028.4l4.7 28.5M483.4 1113l1.2 5.3M511 1211.1l2.1 6.3M513 1217.4l1.9 5.6M497.6 1158.8l2.1 7.4M518.4 1212.9l1.6 4.9M517.3 1176.6l1.6 5.9M506 1107l1.8 8.7M512.7 1138.3l1.7 7.4M525.8 1190.4l2.4 8.8M546.2 1257.6l2.6 7.7M550.9 1271.8l2.9 8.4M537.9 1224.4l2.1 6.9M542.6 1239.8l1.5 4.9M518.8 1142.5l1.8 7.7M537 1205.4l1.7 6M527.8 1148.3l1.1 4.9M548.3 1229.5l1.2 4.2M541.2 1194.7l1.8 7M544.5 1207.5l2.2 8.3M569 1290.1l1.9 5.8M550.1 1219.9l2.4 8.9M532 1131.7l1.2 6.2M535.9 1150.8l0.9 4.2M570.8 1283.4l1.3 4.1M544.3 1166.9l1.7 7.9M547.1 1179.3l1.2 5.1M564.2 1239.1l1.8 6.7M558 1205.8l1.8 7.4M563.6 1219.2l1.6 6.7M566 1149.5l1.5 8.3M582.8 1234.7l1.3 5.8M563 1114.6l1.3 8.6M558.8 1061.7l3.3 27.4M585.7 1227.5l0.9 4.4M590.5 1249.4l1.6 7.1M600.2 1290.6l2.2 8.8M602 1281.9l1.6 6.6M600.6 1266.6l1.4 6.3M568.7 1049.5l2.2 21.6M568 1007.3l1.7 21.8M581.5 1134.3l1.1 8M582.6 1142.3l0.8 5.8M600.6 1246.9l1.5 7.6M613.2 1305.1l1.5 6.3M583.6 1130.9l0.7 5.4M576.3 1040.1l1.5 16.9M583.4 1108.7l1.4 11.5M584.8 1120.1l0.8 6.6M596.2 1197.8l0.8 4.5M596.9 1202.4l1.5 8.6M613.4 1288.9l1.5 6.9M579.6 1045.7l1.2 13.1M591.8 1152.9l1 7M578.4 988.4l0.2 4.1M580.3 1018.1l0.1 1M578.1 891.5l0.5 30.7M582 934.5l0.1 1.8M589 1056.6l0.5 6.1M586.3 971.1l1.5 29.3M608.3 1199.9l1.1 7.5M613 1230.6l1 6M627.2 1310l0.4 2M613.9 1221.8l0.7 4.8M622.1 1272.2l1.4 8.2M590.1 894l0.5 28.3M603.5 1123.2l0.5 4.2M608.5 1165.8l0.7 5.6M629.4 1302l1.1 5.9M593.1 893l0.3 20.7M596.4 998.8l0.6 10.2M598.5 1033.8l0.9 13.2M619.6 1230.3l1.1 7.7M622.8 1236.7l0.8 5.7M632.1 1295.8l1.3 7.3M600.7 964.3l0 0.8M603.8 1028.4l0.5 7.5M613.2 1140.9l0.4 4M630.9 1276.5l1.1 7.1M607.3 1037.7l1.1 16.6M616.5 1148.3l0.9 8.8M625.4 1223.7l0.9 6.7M609 1017.9l1.2 21M624.3 1196.3l0.6 5.3M627.7 1224.1l0.5 4.2M634.2 1256.8l1.2 8.5M641.9 1297.4l0.8 5.5M618.9 1043.4l1.5 24.7M636.3 1220.9l0.8 7.3M629.2 1076.1l0.6 10.1M633.2 1135.8l0.5 6.2M641.5 1227.1l0.9 8.5M648.9 1292.9l0.8 6.7M637.6 1158.6l0.5 6.2M647.1 1259.8l0.9 8.5M641.2 1173.2l0.6 7M641.8 1180.2l0.4 4.3M644.6 1212.2l0.7 7.8M648.2 1249.6l0.5 5.2M649.6 1242.5l0.7 7M637.3 1008.9l0.1 1.7M654.9 1276l0.7 6.7M640.3 1011.7l0.4 13.1M643.2 1012.9l0.7 21.5M655 1228.1l0.6 7.7M644.5 938.1l0.1 9.5M653.9 1180l0.4 6.1M663.4 1253.6l0.6 8.2M667.7 1285.2l0.3 4.6M661.8 1141.1l0.3 6.2M662.3 1151.7l0.3 7.7M664.8 1204l0.3 5.1M660 989.3l0.3 13.7M663.5 1117.1l0.2 6.5M668.7 1235.4l0.4 7.3M670.9 1273.4l0.4 7.3M664.4 1058.3l0.3 11M668.8 991.9l0.2 13.4M669.2 1020.6l0.4 20.3M674.8 1006.3l0.2 15.2M675 1021.5l0.3 20.2M678.7 1084.6l0.1 6M683.7 1294.7l0.2 5.3M680.4 981.9l0.1 12.1M680.5 994l0.7 68.4M683.8 1219.9l0.1 6.2M685.4 1287.9l0.2 6.5M685.8 1301.9l0.2 7.3M686 1309.2l0.1 2.8M683.4 994.4l0.1 13.1M684 1072.9l0.1 11.3M687.1 1273.6l0.2 9M689.2 1007.9l0.1 20M692.1 964.9l0 18M695 1005.9l0 2.1M695 1023l0 11M695 1067l0 11M695.1 1234.9l0 4.7M697.3 1254.3l-0 8.4M705.9 1089.3l-0.1 11.3M705.4 1135.8l-0.1 6M707.1 1188.5l-0.1 6.1M706.6 1298.8l-0.3 8.4M712.5 1162.7l-0.2 7.2M711.2 1212.9l-0.2 6.2M718.4 987.4l-0.8 55.1M721.3 986.7l-0.1 5.2M714.1 1256.9l-0.3 6.2M730.8 921l-0.4 37.9M718.7 1287l-0.4 6.3M733.4 955.4l-0.3 19.9M735.9 987.2l-0.3 13.9M739.6 934.3l-0.1 8.9M738.8 986l-0.3 14.1M745.5 938.3l-0.1 9.3M742 1069.8l-0.5 12.3M730.3 1264.5l-0.7 8.1M728.6 1285.6l-0.7 8.2M741 1143l-0.3 4.7M744.9 1121.3l-0.4 6.2M743.6 1142.7l-0.3 4.4M734.2 1287.7l-0.8 7.9M753.9 1050.7l-1.1 21.9M751.9 1091.5l-0.5 8.3M744.9 1193.8l-0.6 7.7M741.3 1235.9l-0.6 6.8M758.5 1007.5l-0.4 11.1M759.6 1048.6l-1.2 23.3M749.2 1199l-0.7 8.1M745.9 1233.4l-0.4 4.3M766 952.8l-0.4 16.8M755.4 1206.9l-0.8 7.6M760.2 1182.9l-0.8 7.5M775.2 1104.4l-0.8 9.5M769.2 1208.2l-0.6 4.7M791.4 984.5l-1.3 26.2M791.5 1034.4l-0.7 10.5M782.6 1136.7l-0.6 5.9M798.2 961.8l-0.7 15.8M779.6 1200l-1.1 7.4M804.9 940.9l-0.1 1.7M798.9 1049.3l-1.9 22.7M770.4 1282.3l-1.1 5.8M808.4 994.2l-0.1 1.6M806.6 1021.6l-2.6 33.6M767.3 1308l-0.8 4M799.5 1124.5l-0.9 7.6M811.9 1027.8l-0.9 11.1M804.4 1127.1l-0.7 5.4M791 1215.7l-1.3 7.2M823.8 900.5l-0.9 37.5M820.8 981.6l-1.8 27.3M799.4 1179.1l-0.7 4.2M826.4 918.5l-0.4 12.9M829.3 920.9l-1.8 45.8M825.9 993.7l-0.7 9.9M786.3 1273.2l-1.3 5.8M783 1288.1l-1.7 7.4M830.4 966.7l-0.1 1.5M835 930.8l-1.1 27.1M831.5 997.1l-1.6 20.3M826.2 1056.4l-1.4 13.2M804.9 1202.5l-1.4 7.2M798.4 1235.9l-1.7 8.2M814.2 1177.8l-1.6 8.5M837.8 1024.7l-1.1 11.5M819.2 1163.7l-1.4 8M842.9 999.9l-1.4 16.1M828.2 1124.8l-1 6.5M809.6 1224.8l-1.3 6.1M806.9 1237.2l-1.4 6.3M824.5 1161.8l-0.9 4.9M794.6 1303l-1.2 4.5M833.6 1139.1l-0.7 4.2M857.8 952.7l-0.1 2.4M831.3 1209.4l-1.6 6.7M829.7 1216l-1.2 4.8M825 1235.1l-1.2 4.6M842.3 1171.7l-1.9 8.4M809.9 1295.8l-2.3 7.4M877.6 903l-0.8 24.6M848.9 1152.6l-0.8 4.1M875.7 989.5l-3 29.9M851.9 1150.2l-1.2 5.6M841.7 1195.3l-1.8 7.4M883.6 903l-0.9 25.3M841.6 1214.5l-1.7 6.3M837.7 1228.9l-2 7.3M892.6 900l-2.2 50.5M890.4 950.5l-3.2 40.6M842.5 1227.5l-1.5 5.2M843.9 1245.1l-1.5 4.7M829.2 1289.8l-2.1 6M874.9 1138l-1.7 7.4M895.3 1042.8l-4.3 27M844.4 1256.9l-2.6 7.9M907.9 988.3l-8.9 66.8M899 1055.1l-1.8 11.1M897.2 1066.2l-3.1 17.2M870.3 1186.2l-2.2 8M845.9 1276.4l-2.6 7.1M889.4 1141.9l-1.4 5.6M855.9 1253.9l-2.3 6.5M836.9 1305.1l-2.2 5.5M918.8 1018l-3.6 24.4M926.4 979.3l-3.6 30.6M889.4 1178.5l-2.5 8.2M914.6 1089.7l-2.3 10.3M907.3 1121.4l-1.6 6.6M860 1276.2l-3.2 7.9M899.7 1168.4l-2.2 7.3M860.5 1284.8l-3.4 8.1M920.8 1109.6l-2.8 11.3M879.3 1242.8l-2.6 6.9M857.2 1296.9l-3.1 7M906.7 1169.8l-2.4 7.6M891.8 1214.8l-2.4 6.7M949.3 983.7l-5 36.1M918.6 1137.9l-2.5 8.9M873 1274.1l-3.4 8M961 913.5l-3.4 47.8M911.8 1184.2l-2.4 6.9M894.9 1230.7l-2.4 6.1M866.1 1298.4l-4.2 9M958.2 1003.9l-4.7 29.2M929.3 1144.9l-2.4 7.9M924.5 1160.6l-2.8 8.6M917.3 1182.1l-1.8 5.1M917.6 1188.3l-1.6 4.6M893.5 1250.3l-3.3 7.7M967.9 1016l-5.5 29.8M932.4 1159.4l-2.8 8.5M972.5 1005.3l-2.3 14.3M961.4 1063.7l-8 33.1M927.4 1187.5l-1.5 4.1M912.6 1225.5l-2.5 5.9M994.4 901l-3.8 54.6M977.3 1042.1l-5.2 23.7M925.4 1210.9l-3.2 7.8M900.5 1267.3l-2.8 5.8M887.6 1293.4l-2.6 5.1M994 951.5l-2.6 22.7M984.3 1020.6l-5.2 26.4M939.3 1181.6l-2.9 7.7M921.2 1226.3l-3.5 8.1M910 1251.3l-2.6 5.6M939.5 1187.4l-3.1 7.9M931.4 1207.5l-2.2 5.2M945.6 1177.8l-1.6 4.1M944 1181.9l-2.2 5.5M910.1 1260.2l-3.5 7.1M987.6 1046.6l-4.7 20.2M951.6 1168.1l-3.1 8.3M907.5 1269.7l-4.1 8.1M996.3 1031.9l-6.6 29.6M983.9 1093.9l-2.3 8M970.8 1135.6l-2.4 7M960.1 1165.4l-2 5.1M925.2 1246.4l-2 4.2M1012.3 972.1l-11.9 67.8M982.6 1107l-2.2 7M968.1 1150.4l-2.2 6M1007.2 1020.5l-6.7 31M1010.1 1020.6l-2.7 12.9M1021.7 967.4l-4.2 28.3M979.1 1141.1l-3 8.1M939.7 1234.5l-4.1 8.4M908 1294.8l-4.1 7.2M941.7 1247.7l-3.9 7.4M909.7 1308l-2.4 4M1040.9 955.6l-9.7 59.7M985.2 1164.4l-5.8 13.7M1046.1 934.4l-2.5 23.3M952.6 1239.2l-4.7 9M932.2 1279.8l-3.6 6.1M1011.7 1122.8l-2.2 6M935.7 1284l-4.7 7.7M947.8 1267l-5.1 8.6M1012.4 1141.1l-3.1 7.5M971.8 1228l-2.9 5.4M964.4 1241.6l-4.7 8.4M939.2 1284.7l-2.9 4.7M949.4 1271.2l-3 4.9M1072.7 888.5l-2 36.7M1011.8 1154.8l-5.8 13.1M970.7 1238.1l-4 7.1M959.5 1257.7l-4.2 7.1M1078.3 901l-5.6 59.9M1076.8 952.3l-6.2 39.6M1065.1 1017.9l-6.4 25.8M1079.4 955l-5.5 34.5M1060.6 1047l-8.7 29.1M1064.4 1043.5l-9 30.5M974.1 1251l-4.3 7.1M941.4 1302.2l-3.8 5.5M983.7 1245.7l-8.4 13.6M949.4 1298.7l-5.6 8.1M1001.4 1219.2l-3.5 6.2M1100 955.3l-5.8 34.3M1047.3 1137.4l-6.2 13.7M1075.9 1070.1l-2.4 7.2M1025.3 1188.1l-5.3 10M1014.4 1208.2l-4.9 8.6M963.8 1289l-5.5 7.9M1114.5 934.4l-11.7 69.8M1084.6 1068.7l-2.4 6.9M1110.9 979l-15.4 64.1M1095.5 1043l-8.8 27.5M1079 1092l-2.4 6.2M1069.5 1116l-5.8 13.5M1023.4 1208.7l-6.2 10.6M1123.8 884.5l-5.5 66.7M1065.7 1130.8l-5 11M985 1272.7l-5 7.2M1126.5 894l-1.4 23M1074.8 1115.8l-3.2 7.4M1028.2 1208.4l-7.3 12.2M1129 904.2l-8 67.8M1039.7 1192.4l-5.5 9.6M1092.5 1085.1l-3.8 9.8M1016.9 1234.3l-6.4 9.9M1080.7 1120.6l-5.3 11.7M1088 1109.8l-5.2 11.9M1053.5 1189l-7.9 13.4M1039.9 1212l-8.4 13.4M1071.7 1165l-5.9 10.8M1136.6 1007.8l-9.6 33.8M1078.1 1157.7l-6.8 12.6M1100.3 1117.8l-4.8 10.4M1091.8 1140.9l-6.2 12M982.1 1307.6l-3.6 4.4M1102.1 1125.2l-3.7 7.7M1112.6 1108.3l-5.7 12.4M1073.5 1183.5l-4.4 7.3M1056.1 1211.8l-7.1 10.9M1128.1 1077.7l-4.7 11.7M1044 1236.6l-6.2 8.7M1019 1270.7l-9.3 12M1079.8 1185.2l-4.7 7.6M1068.1 1203.9l-4.5 6.9M1109.3 1136.8l-4.9 9.4M1130.6 1097.9l-5.5 12.1M1135.3 1093.4l-5.5 12.3M1083.4 1190.9l-4.7 7.4M1073.2 1206.7l-4.9 7.4M1136.6 1096.4l-4.3 9.6M1066.7 1223.1l-8.4 11.8M1170 1031l-4.6 13.7M1135.4 1116.1l-4.7 9.4M1071.4 1222.8l-9 12.6M1066.2 1233.2l-10.3 13.8M1085.7 1208.8l-8.6 12.3M1068.6 1232.9l-6.2 8.4M1159.5 1081.4l-5 11.4M1050.8 1261.6l-8.5 10.4M1128.5 1157.2l-4.7 7.8M1100 1201.5l-5.6 8.1M1172.8 1075.8l-5.5 12.4M1128.7 1160.9l-8.4 13.5M1120.4 1174.4l-5.5 8.6M1162.4 1104.3l-3.1 6.3M1137.1 1151.2l-5.4 9M1058.7 1264.7l-9.4 11.1M1163 1118.7l-6.2 11.3M1146.8 1147.6l-7.7 12.6M1097 1221.7l-10.5 13.7M1085.5 1239.5l-7.7 9.5M1045.5 1286.9l-6.5 7.2M1027.1 1306.9l-4.8 5.1M1211.2 1018.6l-12.2 34.1M1058.3 1274.7l-10.8 12.2M1120.6 1199l-5.7 7.9M1163.8 1136.1l-7.5 12.7M1110.1 1228l-9.9 12.2M1064.9 1287.1l-12.1 12.6M1199.1 1115.4l-6.3 11M1120.2 1231.9l-5.3 6.3"/><path stroke="#0a8afc" d="M240.3 1209.4l6.1 7.5M246.4 1216.9l5.7 6.9M331.8 1308.8l3.4 3.2M112 935.1l12.6 57M285.9 1259.9l12 12.9M287.3 1259.1l10.2 11M130.8 993.5l10.9 33.3M154.8 1059.5l15.3 32M167.7 1081.1l3.5 7M208.8 1152.9l4.5 6.8M128 873l1.2 29.7M140.6 962l3.7 16.5M211.9 1137.7l3.7 6M272.3 1223.8l8.4 10.3M301.9 1259l7.9 8.9M152 996.6l8.9 28.3M291.4 1244.3l6.1 7.1M272.9 1206.6l6.9 9.2M296.9 1235.1l5.5 6.8M216.7 1103.7l6.5 12.6M282.4 1210.2l5 6.8M161 867.5l0.8 29.2M258.9 1164.8l5.3 8.4M290.5 1211.9l5.7 7.7M346.8 1282.4l10.5 11.9M237.7 1123.9l6.6 12M219.7 1081.4l4.7 10.3M246.7 1135.5l4.3 7.6M230.2 1092.6l6.1 12.9M254.2 1135.1l7.3 13.1M206.7 1015.8l5.7 17.9M371.5 1293l9.5 11M225 1037.5l11.1 30.5M284 1152.3l7.2 12.8M350 1253.6l6.5 8.6M317 1203.2l7.5 11.4M270.3 1115.5l6.6 13.5M330.2 1219.6l9.4 13.6M266 1100.3l3.6 8M374.8 1277.8l11.1 13.9M262.4 1079l3.6 8.8M276.4 1105.8l4.9 10.8M285.6 1125.6l3.6 7.3M281.6 1111.4l6.2 13.4M274.2 1087.9l5.8 13.9M307.4 1158.4l4.6 8.4M312 1166.8l5.3 9.4M379.8 1271.1l10.6 13.9M233.4 890l2.2 33M261.2 1025.8l4.1 13.6M245.3 930.1l11.3 66.6M292.6 1099.8l4.3 10.1M248 871l1.9 44.8M257.1 881.5l1.9 36.7M262.1 946.3l6.3 37.7M420.6 1301.9l5.4 7M275.6 1003.7l8.3 32M280.3 949.6l10.9 59.4M313.3 1083.3l4.1 11.1M317.3 1094.4l3.4 8.9M288.6 982.6l3.1 15.3M313.8 1069l4.1 12M367.9 1193.9l4.6 8.4M326.8 1074.9l4.5 13.3M368.7 1176.7l4.1 8.2M448.1 1308.9l2.2 3.1M444.1 1300.6l4.2 6.1M388.4 1201.3l6.8 12.9M439.7 1288.3l5.4 8.1M384.8 1189.7l4.1 8M448.9 1296.4l5.5 8.2M344.9 1080l2.9 8.9M433.2 1268.7l5.1 8.2M457 1305.7l4.3 6.3M340.2 1034.2l2.9 11.4M326.2 886l3.8 57.3M425.4 1236.8l2.7 4.9M442.7 1267.3l3 5.1M329 875.5l0.8 27.6M357.6 1067.5l2.5 8.6M402.2 1186l4.9 10.4M420.8 1219.6l2.5 4.9M444.6 1263.6l2.4 4.1M338.9 904.5l4.5 52.4M435.5 1239.3l3.8 7.2M469.8 1299.3l4.4 7.2M444.3 1251.7l3.3 6M468.7 1294.4l3.4 5.6M355.7 999l1.9 10.1M444.6 1248.3l4.6 8.5M468.2 1287.1l4.9 8.3M383 1088.6l3.9 12.6M452.3 1254.8l3.9 7.3M433.7 1208.2l2.7 5.9M451.4 1240.5l3.8 7.5M474.2 1283.7l4.8 8.5M411 1133.7l4.9 13.8M425.9 1173.5l3 7.4M480.1 1283.7l3.2 5.8M393.6 1056.7l8.6 32.7M428.1 1166.5l2.7 6.9M459.3 1238.8l3.2 6.6M458.2 1227.1l3 6.5M488.9 1289l2.2 4.1M491 1293.1l3.3 6.1M425.9 1131.8l1.7 5.2M491.1 1285.9l3.6 6.9M474.2 1247.6l2.6 5.4M444.8 1164.8l2.1 5.7M476.1 1237.4l2.5 5.7M490.4 1264.1l2.7 5.7M440.7 1129.5l1.5 4.8M464.7 1199l3.3 8.4M469.3 1192.2l3.2 8.6M474.6 1206.2l3.3 8.5M446.5 1103.6l3.2 11.9M454.3 1122.7l1.9 6.6M472.1 1179.8l1.6 4.6M487.4 1221.7l2.9 7.4M516.8 1290.5l3.9 8.3M461.9 1140.1l1.3 4.4M487.3 1215.5l1.8 4.7M432 956.1l2.5 23.7M525.4 1296.7l1.9 4.1M472.7 1150.8l1.9 6.3M484.2 1179.9l2.6 8M474.5 1139.2l1.8 6.4M499.3 1217.1l2.5 7M491 1185.8l2.3 7.1M472.1 1098.5l2.7 11.6M488.7 1153.8l1.4 4.9M490.4 1141.3l1.6 6.2M464.2 952.9l7 64.4M543.5 1289.4l1.9 4.8M521.8 1223.2l2.7 8.2M527.3 1239.8l2.8 8.2M467.3 894l0.6 20.2M544.2 1275.6l2.4 6.6M559.8 1306.9l1.8 4.6M490.4 1032.6l5.1 32.7M534.4 1212.4l2.2 7.6M502.7 1058.2l0.5 3.1M538.6 1202.5l1.2 4.5M562.3 1281.6l2 5.8M520 1096.3l2.1 11.6M524.1 1118.2l1.2 6M526.1 1115l1.5 7.8M566.6 1276.3l2.5 8.1M517.9 1047.5l2.8 19.8M556.8 1236l2.5 8.9M538 1148.8l0.9 4.1M549.5 1199.6l1.1 4.3M555.5 1222.9l1.3 4.9M569.3 1265.1l1.7 5.7M528.8 1065.6l0.7 5.2M549.4 1178.7l1.7 7.4M566.8 1240.8l1.7 6.5M553.5 1163.4l1 4.9M563.2 1207.9l1.4 5.9M588.3 1303.1l1.5 5M527.2 894l1.6 48.4M543 1087.8l1.5 9.8M570.8 1230.7l1.7 6.8M543.2 1047.1l1.8 14.9M553.9 1107l1.5 9.8M594.3 1290.4l1.8 6.8M543.2 931.4l0.9 20.2M551.8 1049.1l1.5 12.8M573.8 1191.6l1.6 8M559.7 1091.3l1.6 11.8M594.5 1275.6l2 8.1M584.7 1211.7l0.9 4.7M587.3 1224.6l1.9 9M563.6 1053.9l1.1 10.1M584.8 1156.8l1.2 7.5M592.1 1187.5l1.2 7.3M604.3 1254.4l1.7 8.4M570.4 944.8l0.1 2.1M572.3 906.6l1 37.3M580.8 1058.8l0.5 5M601 1212.8l0.9 5.3M590.8 1103.6l1 8.8M618.2 1283.4l0.9 4.5M603.9 1169l1.1 8.2M614.8 1241.7l1.5 8.7M587.4 913.3l0.6 25M596 1073.4l0.9 9.5M614.4 1209.9l1 6.6M593.4 913.7l0.3 16.4M615.5 1201.1l1.2 8.9M597.7 961.4l0.9 22.2M619.8 1216l0.9 6.1M628.7 1275.3l1.1 6.8M622.2 1216.9l0.7 5.1M632.9 1289.3l1.5 8.9M637.1 1303.2l0.9 5.4M608.9 1017.1l0 0.8M610.2 1038.8l0 0.7M612.4 1072.6l0.9 11.6M623.6 1190.9l0.6 5.5M614.7 1065.4l2.1 28.1M630.5 1188.1l0.7 6.5M631.2 1194.5l0.6 5.7M631.8 1200.2l0.5 4.6M617.1 893.5l0.1 15.1M622.3 1054.3l0.5 8.3M620.9 945.2l0.1 4.9M647.9 1299.5l1 7.7M636.3 1172.5l0.5 6M644.7 1256.6l0.5 4.3M629.5 1028.9l0.9 19.6M642.6 1215.4l0.4 4M630.9 990l0.6 17.4M634 1063.5l0.7 13.9M638.9 1142.7l0.4 6.1M643.3 1132.6l0.4 5.8M651.7 1215.2l0.3 4M643.9 1034.4l0.5 13.5M644.1 896l0.4 42.1M648.2 1073.1l0.3 7.5M647.6 949.8l0.4 21.2M665.1 1302.4l0.3 4M650.5 943.1l0.1 8.8M661.2 1221.1l0.4 6.5M661.6 1227.5l0.3 4.4M661.2 1180.3l0.4 7.8M668.3 1226.6l0.2 4.3M662.2 923.5l0.2 26.9M672.4 1263.5l0.5 8.9M670.4 1168.5l0.2 4.7M670.6 1173.2l0.2 5.5M668.4 953l0.1 7.5M676.6 1264.5l0.3 7M677.8 1242.1l0.3 8.7M677.8 1167.4l0.2 6.8M678.5 1194.7l0.1 5.2M681.1 1062.4l0.1 7.5M683.4 1201.4l0.1 6.4M684.6 1253.8l0.2 8.2M688.5 1230.2l0.1 4.8M691.2 1280.4l0.1 7.4M692.1 983l0 12M695 990.8l0 4.2M695.1 1137.5l0 5.7M698 935l-0 43.7M697.9 1008l-0 15M699.1 1281.4l-0.1 6.9M703.8 982.6l-0 12M703.7 1246.9l-0.1 5.8M709.9 933l-0.1 23.5M706.3 1228.3l-0.2 7.8M717.3 1059.6l-0.1 7.8M720.8 1020.6l-0.2 14.4M717.3 1167.5l-0.1 4.6M712.9 1284.4l-0.3 7.4M727.1 990.3l-0.2 13.6M720.2 1216.3l-0.4 8M724.4 1176l-0.3 5.8M721.3 1239.7l-0.4 7.4M720.9 1247.1l-0.5 8.6M733.5 947.2l-0.1 8.2M730.1 1094.4l-0.4 11.4M723.1 1246.4l-0.3 4.5M721.2 1278.1l-0.3 5.1M720.2 1294l-0.5 7.3M730.5 1150.2l-0.4 7.7M737.3 1043.2l-0.4 12.7M737.9 1102.5l-0.3 6M735.6 1148.5l-0.4 7.4M732.7 1199.9l-0.4 6.6M736.1 1183.6l-0.3 4.7M748 967.6l-0.3 14.1M740.7 1147.7l-0.3 5.6M751.9 898l-0.3 31.7M749.7 1011.7l-0.5 13.4M738.4 1216.7l-0.7 8.3M735.1 1256.5l-0.7 8M753.8 970.2l-1.5 50.8M739.2 1234l-0.5 5.2M757.9 898.5l-0.3 25.4M756.1 991.8l-0.6 17.2M745.2 1217.5l-0.7 7.8M739.7 1291.1l-0.5 4M748.9 1226l-0.5 4.5M739.8 1306.4l-0.7 5.6M769.1 949.5l-0.5 17.5M750.8 1229.2l-0.6 5.7M775.8 903.5l-0.5 31.2M774 980.7l-1.2 29.7M778.6 920.5l-0.3 17.5M775.2 1021.4l-1.1 20.5M754.8 1250.6l-0.8 6.4M763 1201.5l-0.8 7.3M748.9 1307.1l-0.7 4.4M770.7 1175.9l-0.7 6M790.8 899.5l-0.2 12.1M789.3 964.2l-0 0.8M791.5 983.6l-0 0.9M788.7 1033.5l-0.1 0.8M796.4 923.4l-0.6 22.1M795.8 945.5l-0.4 11.4M777.2 1182.5l-0.8 5.9M776.4 1188.4l-1.1 8.4M760.1 1296.3l-1.3 7.2M792.5 1059.9l-0.9 11.6M770.3 1246.8l-0.8 5.1M783 1175.1l-0.8 6.2M804.8 942.6l-1 27.2M789.7 1141.2l-0.7 5.6M780.9 1206.8l-1.3 8.4M805.3 996.9l-2.7 40.1M802.7 1037l-1.2 15.3M801.5 1052.2l-1.3 15.3M783.2 1207l-1.2 7.7M779.1 1245.6l-1.1 6.2M814.1 932l-2 48.5M809.7 1019l-1.2 15.4M787.5 1209.2l-1.4 8.6M811 1039l-0.9 11M787.5 1223l-1.4 8M819.7 941.8l-0.2 4.8M815.7 1015l-1.3 17.1M793.8 1199.4l-0.7 4.1M822.8 938l-1.8 40.2M781.7 1275.9l-1.4 6.7M822 1007.6l-2.7 33.5M801.1 1183.7l-0.9 5.3M829.8 899.5l-0.5 21.4M825.1 1004.4l-2.6 31.7M813.3 1119.3l-0.9 6.9M801.6 1195.1l-1.2 7M779.1 1305.1l-1 4.1M793.3 1249.9l-1.5 7.3M803.3 1222.8l-1.3 6.5M806.4 1218.7l-1.2 6M844.7 899l-0.7 28.2M843.5 941.2l-0.1 1.4M835.4 1049.5l-1.1 10.3M815.6 1195.7l-1.5 7.3M793.9 1291.3l-2 7.6M850.2 919.7l-2.6 55M829.5 1133l-0.9 5.5M815 1210l-1.5 7M844.4 1044.5l-3.4 28M828.6 1153.2l-1.3 7.1M826.1 1166.5l-1.3 6.8M818.3 1205.6l-0.9 4.4M854.6 955.5l-4.8 63.5M848.6 1031.6l-2.1 18.6M834.8 1132l-1.2 7.1M832.9 1143.3l-1.6 8.8M814.6 1232.1l-1.1 4.5M861.4 938.1l-0.4 8M835.6 1155.7l-0.9 4.9M812.3 1259.1l-1.5 5.8M864.4 939.3l-3.6 55.2M865.4 972l-2 24.9M863.4 996.8l-1.1 12M830.9 1201.2l-1.5 6.6M868.3 971.9l-2.9 34.1M874.3 913.5l-1.1 27.1M831.6 1217.8l-1.2 4.8M830.4 1222.6l-1.8 7.1M822.8 1251.2l-2 7.2M807.6 1303.2l-1.7 5.3M845.4 1168.9l-2 8.8M872.7 1019.4l-2.5 21.4M812.5 1299.5l-2.4 7.6M855.9 1143.2l-1.4 6.8M831.9 1241.8l-1.6 5.7M823.3 1277.8l-1.7 5.5M882.1 1056.3l-1.2 7.9M880.9 1064.2l-4.9 29M838.9 1247.4l-1.3 4.4M832.6 1267.6l-2.4 7.5M868.7 1153.9l-1.6 6.8M897.4 1005l-3.2 25.6M873.2 1145.4l-1.4 5.8M828.6 1297.1l-1.7 4.7M913.7 894.5l-1.9 45.7M880.2 1148l-1 4M843.3 1283.4l-1.7 4.5M908.5 1048.3l-3.9 22.8M880.1 1177l-1.5 5.2M914.4 1028.5l-2.4 15.8M862.6 1240.7l-2.7 7.8M861.9 1249.1l-2.7 7.6M896.7 1143.1l-2.3 8.7M873 1223.1l-1.5 4.4M856 1276.2l-2.7 6.9M842.4 1309.8l-0.9 2.2M899.9 1159.3l-1.2 4.1M855.3 1292.4l-3.3 7.8M938.2 1022.6l-4 23.7M904.4 1169.5l-2.3 7.6M895.6 1204l-2.2 6.4M939.5 1047.9l-3.4 17.5M922.7 1122.7l-1.6 6M878.6 1255.5l-2.5 6.3M949 1042.2l-6.7 32.8M966.7 918l-5.4 62.2M887.5 1254.3l-2.8 6.7M956.7 1031l-3.6 19.2M962 1016.9l-2.1 12.2M911 1212.4l-2.9 7.4M939.2 1137.8l-2.1 6.7M929.2 1175.9l-2.1 6M914.8 1214.3l-1.8 4.4M901.4 1246.7l-3.3 7.5M982.8 973l-4.9 34.8M945.3 1142.9l-2.7 8.2M909.3 1243.5l-3.3 7.4M945.6 1157.3l-2.5 7.2M913.6 1238.6l-2.9 6.4M942.4 1173.1l-3.2 8.5M926.4 1213.9l-2.1 5.1M952 1153.1l-2.6 7.4M940 1192.1l-3.1 7.7M933.6 1207.7l-3.2 7.7M916.5 1251.2l-3.4 7M954 1168.4l-3 8M931.5 1223.3l-3.1 6.9M1012.6 893.5l-1.2 25.6M1005.2 981.1l-8.8 50.8M932.9 1225.1l-3.1 6.9M952.9 1183.8l-2.4 6M899 1297.3l-4.3 7.8M945.2 1207.7l-3.7 8.4M990 1091.4l-2 6.8M1023 979.3l-12 63.4M1028.7 980.3l-4.5 26.8M949.1 1228.8l-2.4 4.8M1038.7 913l-5.1 53.2M1025.5 1028.9l-3.9 16.9M968 1198.5l-3.7 7.9M954.7 1226.5l-4 8M979.4 1178.1l-3.6 8.3M959.4 1221.5l-3.6 7.2M925.3 1288.3l-4.9 8.3M920.3 1296.6l-3.9 6.4M996.3 1149.5l-3.2 7.9M928.6 1286l-4.4 7.3M1020.8 1088.1l-3.2 9.9M1017.6 1097.9l-2.9 8.7M916.8 1308.5l-2.2 3.5M991 1174l-2.8 6.2M967.8 1222.7l-4.2 8.1M1055.6 956l-9.8 58.2M1034.9 1059.1l-2.8 9.8M997.3 1165.2l-5.3 12M1044.8 1031.5l-5.7 22.5M1069.7 890.5l-5.4 66.5M1036.1 1082.9l-3.3 10.1M1007.2 1159.6l-3.2 7.3M1055.1 1023.9l-8.2 32M1019.3 1136.8l-2.5 6M982 1217.1l-5.6 10.5M935.8 1296.2l-3.1 4.7M1075.1 904l-2.2 29.3M1028.9 1118.7l-4.3 11.2M947.3 1281.3l-3.8 6M1070.5 991.9l-5.4 26.1M1041.6 1098.6l-4.2 11.5M1037.8 1122.8l-4.6 11.4M1026 1156.7l-2.8 6.1M1051 1109.4l-2.5 6.3M1063.7 1089.5l-4.6 12.6M1080.2 1047.4l-8.3 26.6M1096.6 992.2l-5.4 24.4M1042.6 1158.5l-6.8 13.7M985.9 1262.3l-5.3 7.9M1052.9 1152.8l-3.4 7M992.4 1258.7l-4.4 6.7M1091.3 1065.2l-4 11.7M1079.7 1097.4l-3.4 8.5M981.7 1283l-5.2 7.2M1125.4 963l-15.1 68M1038.1 1199.3l-6.6 11.3M1096.6 1081.4l-2.5 6.6M1100.1 1086.6l-5.5 13.7M1089.8 1111.7l-5.9 13.4M1015.5 1246.4l-8.2 12.1M1127.8 1008.4l-5.1 19.2M1118.4 1042l-6.3 19.2M1092.1 1112.5l-5.1 11.4M1071.1 1156.7l-5.7 10.9M1061.7 1183.1l-6.6 11.4M1050 1203l-4.4 7.1M1063 1189.1l-5.6 9.4M1144.3 999.8l-4.5 17.3M1115.5 1088.8l-5.9 13.9M1067.6 1185.3l-4.6 7.8M1118.4 1107.1l-3 6.5M1079.5 1181.6l-5.5 9.1M1009.7 1282.7l-8.9 11.1M1000.8 1293.8l-8.8 10.8M1073.4 1199.2l-7.2 11.2M1040.6 1247.3l-4.4 6M1027 1265.6l-6.1 7.9M1140.9 1073.2l-5.4 13.3M1069.7 1208.6l-6.5 9.8M1102.4 1163.4l-7.1 12.1M1147.5 1084l-4.2 9.6M1079.9 1207.2l-8.4 12.3M1113.4 1157.2l-8.1 13.7M1136.2 1139.4l-6.3 11M1052.6 1261.9l-5 6.2M1146.3 1125.6l-6.2 11.5M1026.7 1297.2l-5.8 6.5M1187.6 1053.3l-9.7 23.6M1168 1098.4l-6.3 12.8M1120.2 1189.3l-7.1 10.3M1071.4 1256.9l-9.2 10.9M1112.3 1213.5l-6.9 9.1M1201.9 1065.9l-3.8 8.7M1120.5 1211.7l-7.9 10.3M1073.9 1268.5l-5.7 6.5M1156.3 1164.4l-7.6 11.3M1203.4 1086.5l-4.5 9M1073.9 1277.4l-9.1 9.7M1193.6 1129.3l-4.3 7.1M1182.7 1146.9l-7 10.7M1085.4 1271.5l-11.4 12.2"/><path stroke="#2e9fff" d="M186 1133.3l8.8 13.8M239.5 1205.6l6.8 8.6M317.3 1288.8l12.6 12.8M141 977l8.9 32M179.9 1083.9l5.9 11.9M132.1 901.1l8.5 60.9M207.6 1130.5l4.3 7.2M318.6 1277.6l11.8 12.6M261.5 1206.9l5.2 6.9M184.7 1076.7l6.6 13.9M326.8 1280l8.3 9M249 1179.7l5.4 7.8M336.4 1288.4l6.8 7.3M343.2 1295.7l12.1 12.6M208.6 1108.6l4.8 8.9M242.3 1166l5.1 7.7M315.1 1259.9l5.6 6.5M197.4 1054.6l11.5 27.2M175.1 972.4l3.5 15.2M251.6 1157.1l4.9 7.9M278.9 1184.7l5.2 7.9M284.1 1192.5l6.1 9M209.2 1041.1l8.3 22.2M314.8 1229.6l6.3 8.5M283.1 1180l7.1 11.1M195.3 935l7.2 41.6M250 1106.4l3.6 7.6M299 1193.6l6.7 10.2M305.8 1203.8l5 7.3M345.8 1256.3l6.5 8.3M354.3 1264.6l8.4 10.6M329.3 1228.1l7.2 10M354.6 1262.4l7.6 9.7M357.3 1254.7l5.2 7M262 1084.5l5.4 12.8M221 875.5l5 67.1M320 1193l5.2 8.3M289.2 1132.9l5 9.9M347.4 1228.5l7.8 11.4M234.1 936.4l10.9 60.4M327 1192.7l5.1 8.4M358.2 1241l8.1 11.6M240.2 958.1l14.6 65.3M313.4 1160.2l4.5 8.3M314.2 1152.1l5.3 10.1M401.2 1281.1l8.6 11.6M268.4 984l4.5 20.7M318.5 1134.9l4 8.5M298.9 1081.4l2.9 7.7M345.8 1174.7l3.5 6.7M338.7 1150.6l6.4 13.1M415.7 1281.9l3.2 4.6M280 919.4l4.2 36.8M421.1 1283.9l3.2 4.6M363.4 1185.2l4.6 8.7M303.8 969l4.5 25.3M362 1157.5l4.8 10.3M390.9 1214.6l7.1 12.7M442.5 1289.6l5 7.5M312.4 945.4l8 51.2M347.9 1088.9l2.5 7.4M402.8 1215.5l3.4 6.3M383.1 1171l6.5 13.9M389.7 1184.9l3 6.2M334.8 1010.6l5.4 23.6M432.3 1253.1l5 8.6M457.4 1294.8l5.5 8.6M378.8 1130.7l3.4 8.6M452.5 1270.1l2.4 4.1M459 1281.4l4.1 6.9M477.3 1308.4l2.2 3.6M465.4 1285.6l2.6 4.4M478.5 1307.4l2.8 4.6M410.2 1171l3.6 8.5M438.1 1222.5l4.3 8.9M466.7 1273.8l3.6 6.4M371.1 986.9l2.3 14.1M431.2 1186.3l3.7 8.6M485.7 1297.3l4.4 7.7M423.7 1161.6l1.7 4.3M446.1 1215.4l1.8 4M413.5 1125.9l2.3 6.9M491.2 1297l2.8 5M419.2 1127.4l2.8 8.4M389.3 991.7l4.3 25.2M405 1069.2l3.4 13M499.7 1305.5l3.6 6.5M405.1 1057.8l3.6 14.7M485.3 1274.6l2.4 4.7M439.1 1162.9l2.2 6M476.8 1248.4l3.7 8M392.3 890.5l2.2 43.4M485.6 1262.7l2.4 5M504.6 1300.7l3.9 7.4M477.9 1236.3l3.3 7.5M474.1 1211.1l3.2 8.1M461 1169l2.6 7.4M461.9 1156.5l2.7 8.3M436.7 1033.9l2.4 12.9M463.2 1135.7l1.2 4.3M485 1203l3.2 8.9M504.6 1253.5l1.7 4.2M512.2 1271.5l2.4 5.6M514.6 1277l3.8 8.5M485.4 1197.5l3 8.5M527.3 1300.8l2.8 6.1M447.4 1030l5 27.3M444.1 987.1l2.5 19.3M440.7 907.8l1.9 34.2M482 1138.7l1.7 6.4M488.5 1161.7l1.7 5.8M493.6 1178.7l1.8 5.6M501.9 1204.8l2 5.9M471.8 1085l2 9.1M481.1 1125l2.2 8.8M458.5 985.8l3.5 27.7M491.9 1156.4l1.8 6.4M519.9 1231.1l2 5.9M464.6 905.5l2.6 47M500.1 1149l1.3 4.8M515.9 1197.3l2.3 7.6M553.3 1304.6l2.3 5.7M532.3 1241.6l2.5 7.3M473.2 889.5l2.8 62.3M528.3 1199.2l1.5 5.1M505.7 1091.9l1.6 8.2M513.6 1130.7l1.1 4.8M533.2 1200l2.4 8.5M520.8 1140.1l2 8.7M556.9 1271.5l2 6.2M532.1 1167.5l1.3 5.4M539.9 1198.7l1.4 5.4M520.8 1067.3l1.5 9.5M536.8 1155l1.5 7M548.1 1203.3l2.2 8.4M559.8 1213.2l1.6 6.7M580.6 1290l2.1 6.8M550.1 1158.8l0.9 4.2M545.6 1120.7l1.2 6.8M568.8 1222.2l2 8.4M564.7 1182.1l1.3 6.5M588.6 1283.6l2.1 7.8M545.5 1042.4l2.1 18.1M580.8 1235.5l1.8 7.9M589.4 1271.1l1.4 5.7M586.2 1239.8l1.4 6.4M593.4 1262.2l1.6 6.8M589.9 1226.4l1.3 6.5M596.2 1235.5l1.8 8.9M573.9 1044.5l1.2 12.5M573.7 952.3l1.7 35M604.5 1232.7l0.8 4.4M605.3 1237.1l1.4 7.5M581.1 892l0.8 42.5M582 936.3l1.1 29.3M622.9 1297.7l1.7 8.5M585.1 940.7l0.1 1.8M590.9 1004.5l0.9 14.1M615.3 1230.9l1.3 8.3M623 1252.6l0.6 4.1M633.9 1283l0.9 6M611.1 1054.1l1 14.7M611.1 897.5l0.6 40M616 979.8l0.7 18.7M630.6 1164l0.4 4.5M620.3 916.4l0.5 28.8M628.3 1060.4l0.9 15.6M626.1 893.5l0.2 19.1M627 955.8l0.4 16.2M627.9 988.2l0.6 17.7M630.4 974.2l0.5 15.8M635.1 896l0.3 32.1M639.8 1068.2l0.2 4.3M653.8 1264.7l0.6 6M645.6 1127.8l0.5 9M657.4 1280.8l0.7 7.3M652.6 1196.2l0.6 8.1M646.6 1029.4l0.2 6.1M651.4 1137.7l0.4 6.9M647.1 903.5l0.4 37.2M647.5 940.7l0.1 9.1M651.5 1086.1l0.4 10.3M652 1096.3l0.4 8.5M653.7 1071.7l0.4 10.4M664.8 1272.9l0.4 5M653.6 953.7l1.4 68.2M660.8 1172l0.4 8.2M656.5 947.2l0.1 8.2M656.9 975.3l0.2 13M659.8 976.5l0.2 12.8M673.8 1290l0.3 4.7M666.8 1040.4l0.4 18M671.2 929.5l0.2 24.6M671.4 961.5l0.3 28.2M672.4 1041.4l0.3 18.2M674.7 993.1l0.1 13.2M680.1 1245.3l0.3 7.8M680.5 1260.2l0.3 8.4M678.8 1090.6l0.1 5.9M679.7 1142.2l0.1 5.5M682.8 1169.9l0.1 6.6M683.2 957.1l0 7.1M683.3 982.3l0.1 12.1M687.6 1298.8l0.1 5.7M687.7 1304.5l0.2 7.4M686.1 957.5l0 7.1M686.4 1022.7l0.1 12.5M686.5 1035.3l0 7.5M689.2 999.1l0 8.8M692.1 995l0 13M695 1043l0 18M695 1061l0 6M697.9 978.7l-0 4.2M698.9 1304.2l-0.1 7.6M703.9 934.5l-0.1 23M711.8 1056.7l-0 3.5M709.7 1175l-0.1 6.4M714.6 1175l-0.2 8M714.4 1183l-0.2 7.5M712.7 1237.3l-0.2 6M721.8 928l-0.2 25M719.5 1174.5l-0.2 6.7M716.3 1254l-0.4 8.3M719.1 1240.7l-0.4 8.7M716.5 1290.3l-0.4 7.2M719.3 1276.7l-0.2 4.2M728.6 1135.5l-0.4 8.7M720.6 1287.8l-0.4 6.2M738.5 1000.1l-0.2 10.1M726.8 1254.9l-0.5 7.1M741.1 1012.4l-0.1 2.8M734.9 1162.6l-0.3 6M745 969.6l-0.3 13.6M736.5 1176.4l-0.5 7.2M731.2 1252.3l-0.4 5.5M730.8 1257.7l-0.5 6.8M748.9 899.5l-0.6 49M748.3 948.5l-0.4 19.1M739.1 1174l-0.6 8.6M751.9 1031.5l-1.1 25.4M757.5 935.9l-0.5 25.2M743.6 1209.2l-0.4 4.6M741.6 1255l-0.7 7M735.8 1308.5l-0.4 3.5M765.6 969.6l-0.5 16.6M763.5 1027.3l-1.6 32.8M741.3 1294.1l-0.8 6.3M768.6 967l-0.5 17M772.8 908.8l-0.6 33.6M771.1 1043.6l-1.6 26.3M778.8 900l-0.3 20.5M774.1 1041.9l-1.4 23.1M756 1272.6l-1.1 7.5M769.8 1203l-0.7 5.1M764.5 1242.1l-1.1 7.7M763.4 1249.9l-1 6.8M779.7 1139.9l-0.5 5M772.3 1201.9l-1 7.5M795.5 956.9l-0.9 23.6M799.5 919.2l-1.3 42.6M795.1 1022.9l-0.5 7.2M785.6 1132.4l-0.7 6.1M796.7 1041l-2.4 29.5M771.9 1262.9l-1.2 7M810.1 961.1l-0.1 1.7M808.3 995.9l-1.6 24.4M804 1055.2l-1.7 18.4M789.8 1194.6l-1.1 6.9M792.5 1192.4l-1.4 8.6M777.9 1284.6l-1.1 5.1M803.5 1152.4l-0.7 4.5M779.1 1288.1l-1.5 6.7M781.3 1295.5l-0.9 4M828.5 998.6l-0.2 2.2M827.2 1015.8l-1.2 13.8M786.2 1282.4l-2 8.8M829.9 1017.4l-1.7 19.7M809.6 1176.2l-1.2 7.1M782.8 1305.1l-1.3 5.2M834.6 993.1l-2.3 28.5M815.2 1172.5l-0.9 5.3M802.3 1238l-1.1 5.1M847 926l-0.2 6.8M823.1 1182.4l-1 4.8M816.8 1241.4l-2.3 9M865.6 904.5l-1.2 34.8M853.2 1063.8l-0.6 4.7M808.5 1287.5l-1.6 5.4M803.6 1304.1l-2 6.4M870.2 985.5l-2.8 30.3M869.3 1024.6l-4 32.3M817.1 1285.1l-2.5 8M876 1039.8l-1.9 14.1M874.8 1067.5l-0.6 4.1M837.9 1235.8l-1.9 6.8M889.6 996.5l-2.2 20M898.1 916.5l-0.9 20.2M892 1001.1l-2.6 22.2M898.9 1016.5l-3.6 26.3M910.5 905.5l-1.9 39.8M877.3 1169.3l-2.4 9M875.4 1185.2l-2.1 7.2M922.1 915l-2.9 47M873 1201.5l-2.4 7.7M875.6 1208.1l-2.3 7.2M866.2 1236.6l-2.7 7.8M930.4 928.7l-4 50.5M922.7 1009.8l-2.1 15.1M937.8 951.1l-3.1 32.3M915.9 1096.3l-2.5 11M879.6 1223.7l-1.7 4.9M938.5 974.8l-4.3 35.1M880.2 1228.3l-3.2 9M876.9 1237.3l-2.9 7.9M918.9 1106.5l-2.5 10.1M874.5 1255.1l-3.1 7.9M912.6 1158.6l-2 6.4M957.7 920.5l-1.9 28.1M948 1014.3l-2.5 15.8M930.9 1100.9l-2.6 10.3M869.5 1282.1l-2.8 6.3M948.1 1031.3l-6.1 32.2M917.6 1158.5l-2.5 8M961.5 950.4l-6.5 55.7M936.6 1099.5l-2 8M925.2 1141.6l-1.8 6.2M915.3 1173.6l-1.4 4.1M930.7 1131.8l-1.6 5.4M934.3 1128l-2.3 8M943.2 1105.2l-2.7 10M891.1 1260.6l-4 9M875.1 1295.5l-4.2 8.7M975.2 961.8l-4 32.4M937.1 1144.5l-2.4 7.5M877.4 1294.6l-2.6 5.3M939.2 1145.9l-1.8 5.5M982.9 943.6l-5.4 47.9M898.3 1258.5l-3 6.7M892 1272.3l-2.8 6M940.4 1157.9l-2.4 7M878.9 1303.2l-2.5 4.9M969.1 1066.5l-2 8.2M943.3 1156.5l-2.6 7.6M952.4 1136.5l-2.4 7.3M980.5 1065.3l-0.7 3M947.7 1172.2l-2.1 5.6M906.6 1267.3l-4.4 9M913.1 1258.2l-2.8 5.7M942.8 1196.8l-3.6 8.7M979.2 1100.6l-2.8 9.4M1012.9 939l-6.7 54.1M976.9 1125l-4.2 12.4M921.3 1258.6l-3.7 7.2M945.7 1211.9l-3.1 6.9M1013.4 1018l-3.5 16.8M971.3 1168.3l-3.5 8.6M955.9 1204.5l-3.3 7.2M916.7 1282.7l-2.8 5M919.1 1282l-3.5 6.2M977.1 1166.1l-5 12.1M954.3 1218l-3.2 6.6M931.4 1263.2l-4.1 7.5M1033.6 966.2l-6.3 39.6M920.1 1287.2l-2.6 4.5M949.3 1241.5l-2.4 4.6M924.5 1286.4l-2.5 4.2M1042.9 999.6l-5.4 26.2M968.1 1217.7l-3.3 6.6M1015.1 1113.3l-3.4 9.5M984.4 1193.7l-4.5 9.4M1063.9 935l-2.6 22.9M1064.3 957l-4.5 29.2M1059.9 986.3l-12.1 56M967.2 1240.6l-2.4 4.3M1064.2 1009l-6.9 29.3M1008.9 1172.2l-3.1 6.5M968.7 1249.2l-3.6 6.1M1065.2 1029.4l-4.6 17.6M1033.4 1127.5l-3.6 8.9M947.2 1299.2l-5.6 8.1M997.5 1222l-6.4 11.2M1089.7 983.1l-4.8 23.6M978.9 1256.8l-7 11.1M964.3 1279.6l-3.7 5.5M1086.1 1013.9l-7.3 28.5M955.3 1301.1l-5.7 7.9M1113 918.8l-3.3 30.7M1034.3 1180.1l-5.1 9.7M963.3 1295.3l-3.6 5.1M1096.7 1028.8l-2.9 10.4M1118.3 951.2l-6.8 39.4M1009.1 1239.7l-6.8 10.4M1034.2 1202l-7.8 13.3M1078.5 1119.5l-3.3 7.5M1035.3 1212l-5.5 9M1102.8 1079.5l-2.7 7.1M1054.6 1182.9l-6.5 11.4M1107.4 1074.6l-3.5 9.4M1088.4 1132.2l-6.2 12.6M1101.2 1110l-5.3 11.7M1026.5 1242.9l-5.2 7.5M1162.8 884l-5.2 61.7M1167.5 938.5l-10.9 58.3M1135.9 1071.9l-3.8 9.6M1098.1 1153.1l-5.3 9.5M1075.1 1192.8l-7 11.2M1046.1 1236.7l-5.9 8.2M1082.1 1185.3l-8.6 13.9M1013.3 1285.5l-9.6 11.7M1001.7 1304.2l-6.7 7.8M1139.7 1101.4l-4.2 9M1141.9 1102.5l-6.5 13.5M1143.8 1104.2l-5.1 10.5M1021.1 1290.3l-11 12.8M1155.8 1083.5l-4.1 9.3M1077.1 1221.1l-8.5 11.7M1045.4 1263.2l-8.9 11M1158.8 1089l-5 10.8M1147.4 1113.2l-5.2 10.3M1132.1 1171.4l-5.8 9M1062.2 1267.8l-8.2 9.5M1054 1277.3l-8.5 9.6M1158.6 1136.1l-8 13.5M1207 1046.4l-10.6 25.7M1070 1265.9l-5.9 6.8M1166.8 1135.2l-3.8 6.5M1109.3 1220.5l-6.4 8.3M1186.2 1104.8l-3.3 6.4M1042.5 1300.6l-10 10.4M1125.3 1205.4l-4.8 6.4M1083.2 1257.8l-9.3 10.7M1172 1139.6l-5.5 9M1219.1 1051.6l-6.1 14.4M1254.2 934.9l-13.9 63.7M1195.3 1107.7l-4.4 8.1M1120.2 1234.7l-9.1 10.7M1154 1195.2l-8.6 11.1"/><path stroke="#5bb5ff" d="M147.6 1055.6l7.5 16.4M223.1 1184.1l8.7 11.6M329.9 1301.5l7.8 7.7M126.3 931.1l9.2 47.5M239 1182.7l9.2 12.7M257.8 1188.9l6 8.5M364.6 1308.4l3.4 3.6M189.1 1032l8.4 22.6M362.9 1300.5l7.7 8.4M370.7 1309l2.8 3M305 1228.4l5.1 6.7M367.5 1299.3l11.5 12.7M345.9 1272l6.7 8M208.8 1031.7l6.9 19.5M240.4 1091.3l5.4 11.8M347.4 1263.7l6.5 8.1M220.2 977.2l5.1 22M304.8 1179.8l4 6.6M317.3 1200l8.6 13.2M268.9 1081.4l3.5 8.6M390.3 1285l8.6 11M312.9 1163.8l5.9 10.6M334.9 1201.9l3.7 6M249.1 975.2l3.5 16.8M247.4 921.7l7.5 53.4M341.1 1192.6l4.2 7.2M300.9 1107l5.9 13.7M395.8 1267.8l4.8 6.8M345.6 1179l7.1 13M307.3 1089.1l4.3 11.2M413.8 1282.1l5.7 8M289.1 1012l3.9 15.2M340.8 1149.8l3.9 8.1M412.5 1271.4l8.5 12.5M317.9 1081.1l4.8 13.3M391 1234.3l6.7 10.9M313.1 1038.9l5.7 19.7M392 1224.6l5.7 9.7M324.8 1050.2l7.4 24.3M326.6 1046.9l9.7 31.9M308 878l0.9 27.2M365 1128.7l2.6 6.6M343.2 1045.6l8.4 29.4M423.1 1240.5l2.7 4.8M337.1 1007.7l4 18.3M453.4 1288.4l4 6.4M350.6 1052.3l6.7 23.5M355.6 1038.9l8.2 30.9M356.3 1017.1l5.9 25.9M371.2 1076.4l4.2 13.8M363.9 1038.2l2.7 10.9M359.2 886.5l3.7 59.3M457.9 1253.4l2.7 5.2M439 1209.8l2.2 4.8M489.1 1306.6l2.6 4.5M428.7 1174.5l1.9 4.6M417.2 1136.9l1.4 4M432.6 1178.1l2.3 5.6M458.1 1231.6l3 6.4M461.1 1238l3.1 6.6M429.8 1157.8l2.8 7.7M383.6 901l1.7 29M501.8 1302.5l2.8 5.2M460.8 1206.6l2.9 7M452.2 1178.5l1.8 4.9M446 1153.9l2.1 6.3M442.2 1125.9l1.7 5.7M509.7 1283.8l3 6.3M491 1213.3l3.3 8.8M531.6 1293.4l2.4 5.5M515.3 1248.3l2 5.2M530.7 1286.7l2.3 5.4M513.6 1238.2l2.2 5.9M473.8 1094.1l1.3 5.6M479.9 1120.3l1.2 4.7M506.7 1212l1.7 5.1M475.8 1091.3l2.2 9.8M493.7 1162.7l1.8 6.4M498.1 1177.5l1.3 4.3M493.9 1145l2.3 8.6M545.4 1294.2l3.3 8.3M476.1 1031.6l4.2 25.9M470.4 898.5l2.6 52.4M536 1239.8l2.5 7.5M538.7 1211.5l2.5 8.7M550.8 1252.3l1.6 5M535.9 1173.1l1.3 5.4M509.5 907l3.7 69.6M558.7 1226.8l1.7 6.6M565.6 1252l1.6 5.7M542 1143.4l1.1 5.3M551 1163l1 5.1M554.5 1168.3l1.3 6.4M528.8 942.4l0.2 4.3M572.5 1237.5l1.4 5.6M586.9 1291.6l1.3 4.5M555.6 1147.9l1.2 6.3M565.6 1197.9l1.8 8.1M576.1 1234.3l1.5 6.2M554.5 1047.3l2.6 23.3M580.8 1191l1.5 8.2M606.3 1307.5l1.1 4.5M559.6 966.6l0.1 1.6M591.4 1210.3l1.5 8.1M564 932.3l1.9 42.6M567.6 1001.5l0.4 5.8M570.9 1007.8l0.2 2.8M575.1 1057l0.6 5.6M594.3 1200.7l0.9 5.5M596.7 1214l1.2 6.4M577.2 1014.9l0.1 1.5M581.4 1033.2l1.3 15.6M584 1062.8l0.6 6.8M595.9 1164.5l0.6 4.4M599.1 1186l0.8 5.4M620.6 1305.2l0.9 4M583.3 1019.6l0.1 2M620.5 1295.4l1.2 5.8M585.2 942.6l1 27.2M623.5 1290.7l1.3 7M592.4 1028l2.1 28.3M591.5 953l1 24.3M599 1076.1l0.8 9.5M610 1177.9l0.5 4.2M612.5 1196.6l0.7 4.8M617.4 1230.3l1 6.8M622.1 1260.2l1.1 6.4M602.3 1048.5l0.8 11.2M600.7 965.1l1.5 33.8M603.1 946.1l2.3 58.2M605.1 893.5l0.5 33.3M617.7 1135l0.4 4.4M625.6 1207.1l0.5 4.4M612.9 977.2l0.8 19.3M619.3 990.6l0.4 10.1M621.5 1039.3l0.8 15.1M623.1 898.5l0.1 5.9M626.5 927.7l0.6 28.1M638.1 1164.8l0.4 4.8M629.5 932.1l0.5 26.5M640.2 1160.5l0.6 8M639.5 1112.4l0.4 6.9M642.8 1161.1l0.6 8.1M653.1 1278l0.4 4.3M638.1 893.5l0.3 29.8M638.3 923.3l0.1 8.8M638.4 932.1l1.5 67M641.6 945.1l0.4 22.1M642 967.2l0 0.7M644.6 947.6l1.3 60.1M654.3 1186.2l0.4 6.6M651.2 986l0.3 14.1M666 1289.1l0.3 4.2M662 1196.1l0.3 5.2M664.1 1230.7l0.5 7.7M664.8 1243.2l0.3 4.4M666.3 1265l0.3 4.3M668.8 1301.6l0.7 9M656.2 918l0.3 29.2M659.2 921l0.3 27.9M659.6 956.9l0.3 19.6M667.8 1218.2l0.4 8.5M669.1 1242.8l0.3 5.9M667.7 1160.5l0.2 5.1M669 1005.2l0.2 15.3M674.1 1204l0.2 4.9M677.1 1276.7l0.2 4.9M677.5 1234.7l0.3 7.4M674.2 931l0.2 24M674.3 955l0.1 7.3M682.8 1264.4l0.2 5.7M680.1 933l0.1 23.5M686.1 934.5l0.1 23M689.4 1042.9l0.1 18M690.9 1248.4l0.1 8.2M692.2 1043l0.1 30M692.8 1198.6l0 5.4M697.2 1275.5l-0 8.8M700.8 1007.9l-0 15M700.7 1038l-0 4.9M699.7 1217.7l-0 5.3M703.8 964.5l-0.1 18.1M703.7 1007.7l-0.1 24.4M706.5 1022.5l-0.2 20.1M709.1 1042.4l-0.2 15.3M712.4 1002.9l-0 3.9M712 1042.1l-0.2 14.6M715.7 962.3l-0.2 18.5M721 1005.2l-0.2 15.3M726.8 1003.8l-0.3 15.5M725.7 1058.3l-0.4 16.5M716.1 1297.5l-0.4 7.6M732.9 988.3l-0.3 13.8M736.4 953.7l-0.3 20.3M735.6 1001.1l-0.4 15.9M742.6 934.4l-0.6 38.2M741.4 998.9l-0.3 13.5M732.2 1206.5l-0.5 7.5M745 968.1l-0 1.5M729.6 1272.6l-0.6 6.8M747.7 981.7l-0.4 14.7M735.7 1222.6l-0.6 7.3M748.2 1052.6l-1 22.4M735.8 1249.1l-0.6 7.4M754.6 928.1l-0.2 11.2M750 1075.9l-0.4 7.3M741.5 1207.2l-0.5 6.3M743.2 1213.8l-0.7 7.7M742.6 1283.2l-0.7 6.2M765.4 1046.1l-0.6 10.2M756.4 1172l-0.6 6.5M766.5 1143.4l-0.6 6M761.6 1193.2l-1 9M781.9 898.5l-1.4 65.3M769.1 1143.4l-0.8 8.4M759.6 1229.6l-1.1 8.4M783.2 971l-1.1 27.4M760.4 1256.1l-0.6 4.4M754.5 1295.7l-0.7 4.7M777 1202l-1.2 8.5M800.7 973.6l-0.1 1.2M800.6 974.8l-2 37.5M765 1290.1l-1.3 7.1M767.6 1286.8l-1.2 6.4M774.7 1258.9l-1.5 8.1M811.7 904.5l-0.5 23.2M796.6 1126.9l-0.8 6.7M777.7 1265.2l-0.9 5M791.2 1201l-0.8 5M820.8 901.5l-1 40.3M779.6 1276.4l-1.7 8.2M801.2 1167.8l-1 6.6M785.3 1258.2l-0.9 4.5M819.1 1094.8l-0.7 5.6M824.8 1069.6l-1.3 11.2M806 1196.5l-1.1 5.9M832.4 1021.7l-1.2 12.8M819.4 1131.5l-0.7 4.4M806.2 1208.1l-1.3 6.5M801.9 1229.3l-1.1 5.1M840.1 950.1l-2.1 35.9M805.1 1224.7l-1.4 6.8M803.7 1231.5l-1.4 6.5M846.8 932.8l-2.2 43.1M810.1 1232.6l-1.1 4.9M800.6 1280.4l-1.5 5.7M794.8 1308.8l-0.9 3.2M822.6 1207l-1.7 7.5M862.7 902l-1.2 36.1M818.3 1235.1l-1.6 6.3M803.3 1298.7l-2.5 8.4M845.3 1145.2l-1 5.2M826.4 1229.3l-1.5 5.8M825 1243.4l-2.1 7.8M876.8 927.6l-1.4 26.2M842.4 1182.1l-1.2 5.3M820.4 1267.2l-2.2 7.4M889.8 894l-2.5 59.7M885.3 979.7l-4.7 45.5M864.6 1125.6l-1.5 7.4M870.9 1132.6l-1.4 6.6M863.3 1166.2l-1.2 5M847.3 1226.6l-2.5 8.6M823.4 1301l-1.6 4.6M899 955.5l-1.9 23.6M897.1 979.1l-7.7 65.9M902.6 945l-5.3 60M868.6 1164.6l-1.5 6M903.3 975.5l-4.4 41M862.4 1197.5l-1.3 4.5M855.2 1222.6l-1.4 4.6M911.8 940.2l-4 48.1M860.8 1219.1l-1.7 5.6M859 1224.6l-2.1 6.7M916.6 899l-2.1 45.5M906.3 1025.7l-3.1 21.2M919.5 904.5l-1.6 33.7M873.3 1192.5l-2 6.9M865.9 1224.2l-2.8 8.6M852.5 1274.7l-1.8 4.7M925.2 1032.6l-5.7 33.1M883.1 1206.5l-1.8 5.4M940.2 909.5l-2.5 41.6M927.6 1035.2l-5 28.2M883.3 1219.5l-3.1 8.9M909.6 1142.8l-2 7.3M946.1 957.6l-3.2 30.4M889.4 1215.2l-2.7 7.6M944.3 1019.9l-4.8 28M879.2 1269l-3.3 7.7M985.6 896.5l-2.7 47.1M918.9 1209.9l-3.4 8.5M876.3 1308.1l-2 3.9M928.3 1197.6l-2.8 7M943.1 1164.5l-2.7 7.6M997.6 895l-3.6 56.5M923.9 1225.2l-2 4.6M968.6 1118.3l-2.2 7M956.2 1155.6l-2.2 6.2M891.1 1304.9l-3.9 7.1M983.8 1084.5l-2.4 8.5M949.1 1187.1l-3.4 8.4M897.5 1296.4l-2.7 5M955.1 1195.7l-3.7 8.4M931.7 1246.3l-4 8M921.9 1265.4l-2.2 4.2M915.6 1288.2l-3.7 6.5M977.8 1170.4l-2.7 6.5M937.9 1258.9l-2.3 4.3M943.4 1256.4l-3.4 6.1M1050.5 916.5l-7 62.8M946.6 1258.3l-4.5 8M933.8 1293.4l-5.5 8.7M943.5 1287.3l-4.7 7.4M953.6 1274.3l-4.1 6.6M962.4 1266.7l-5.1 8.2M1081.8 1019.9l-7.8 29.1M1090.6 993.4l-4.5 20.6M1087.5 1050.9l-3.4 10.9M967 1289.9l-3.8 5.3M965 1300.7l-4.9 6.5M966.6 1301.1l-3.5 4.7M1129.8 883.5l-0.9 20.7M1044 1184.5l-4.4 7.9M1110.3 1031l-6.4 21.4M1067.4 1143.9l-3.9 8M1045.7 1185.8l-7.6 13.5M1092.7 1098.4l-4.7 11.4M1129.8 986.7l-5.8 25.2M1007.2 1258.5l-6.7 9.5M974.4 1303.2l-4.4 5.6M1039.1 1224l-8.1 12.3M1053.1 1219.8l-8.7 12.9M1030.7 1252.1l-5.6 7.6M1074 1190.7l-7.6 12.2M1037.8 1245.3l-8.5 11.7M1122.8 1103.2l-5.9 12.9M1116.9 1116.1l-4.5 9.3M1120.5 1130l-5.5 10.6M1010.2 1294.1l-8.6 10.1M1115.1 1149.8l-6.5 11.4M1054.6 1243l-5.9 7.8M1160.5 1058.4l-6.7 17M1135.3 1121.5l-4.5 8.7M1183.2 1016.3l-5.1 16.3M1092.1 1202.9l-8.7 12.6M1042.3 1272.1l-6.4 7.7M1068.4 1244.7l-9 11.4M1161.6 1111.2l-6.6 12.7M1139.3 1151.7l-3.9 6.5M1039.4 1295.8l-8.3 8.9M1128 1188.4l-7.4 10.6M1225.5 1009.6l-10.1 29.6M1249.1 899l-1.9 21.9M1161.8 1159.8l-7.5 11.3M1049.8 1298.9l-9.7 9.9M1143.9 1196.1l-10.1 13.3M1047.2 1309.2l-2.8 2.8M1136 1212.5l-8.6 10.8M1230.8 1069.3l-4.5 9.5M1112.5 1246.1l-11.8 13.2"/><path stroke="#9dd0ff" d="M167.2 1101.2l7.2 12.8M110 870l0.7 24.2M213.6 1167.4l9.9 13.9M277.4 1248.1l9.9 11M294.7 1264.9l10.4 11.1M244.3 1199.7l9.7 12.5M293.4 1249.3l8.4 9.7M242.1 1180.3l6.5 9.2M170 998.8l10.1 32M238.9 1152.7l5.3 8.5M244.2 1161.2l7.5 11.6M357.6 1296.8l8.2 9M232.7 1119.4l6.4 11.8M227.3 1066.9l5.4 13M300.5 1192.2l4.1 6.4M352.3 1253.8l7.6 10.1M345.3 1228.7l6.4 9.3M372.3 1263.8l7 9.3M264.9 1055.6l4.3 12.2M277 1088l4.9 11.7M289.1 1110.3l3.6 8M370.6 1249.7l5.6 8M420.7 1309.3l2.1 2.7M259 918.2l3.1 28M425.4 1305.7l4.8 6.3M417.3 1292.3l5.2 7M274.3 968.6l5.9 30.2M408.7 1274.7l5.1 7.4M291.6 997.9l2.9 12.8M348.2 1160l4.9 9.9M416.1 1273.7l2.9 4.4M284 874l2.6 52.8M296 872l1.3 38.1M421.9 1263.6l4.2 6.7M444.4 1289.6l4.5 6.8M311.7 899.5l6.9 69.4M361.8 1126.9l5.1 12.5M413.6 1235.2l5.7 10M411.7 1219.4l6.4 12.1M330 943.3l8.2 54.9M385.8 1154.4l5.7 13.1M437.5 1254.7l3.6 6.4M366.7 1079.8l2.9 9.3M444 1255l3.6 6.5M413.8 1179.5l4.6 10.5M476.5 1301l4.8 7.9M383.8 1050.7l6.9 26.7M447.1 1227.3l3.7 7.7M475.8 1275.7l4.3 8M440.1 1196.4l3.6 8.3M417.3 1121.5l1.9 5.9M413.5 1100.4l3.9 12.9M446.1 1193.8l1.7 4M456.5 1177l3 8.3M420.4 1037.7l3.3 16.3M512.7 1290.1l3.4 7.2M508.1 1271.3l2.8 6.3M502.4 1253.4l2.5 6M427.3 934.5l3.4 37.9M510.2 1251.6l2.8 6.9M529.2 1292.3l2.7 6.2M450.1 988.5l4.7 34.3M538 1299.3l2.2 5.1M460.7 978.9l6.4 49.5M467.5 1011.2l3.2 22.4M529 1238.3l2.3 6.9M473 950.9l5.2 53.4M521 1198.6l2.2 7.5M501.2 1096.4l1.9 9.5M532.4 1221.3l1.8 5.8M514.7 1135.5l1.4 6M492.4 929.2l3 45M506.2 1044.2l2.4 16.4M543 1201.7l1.5 5.8M540 1158.4l1.6 7.2M515.7 915.5l2.2 44.8M569.9 1259.8l1.6 5.5M525.6 938.3l2.5 41.7M579.5 1272.3l2 7.2M554.6 1156.1l1.6 8.3M532.1 948.8l0.3 5.8M533.3 899.5l2.2 57.9M539.2 894.5l0.6 24.9M545.1 890.5l1.2 45.4M589 1252.2l1.2 5.3M573.8 1165.6l0.9 5M552.6 943.9l0.6 12M566.6 1025.9l2.1 23.6M572.3 983.5l0.1 2.1M574.2 1013.6l1.2 15.8M575.4 987.3l0.1 2M576 934l0.8 22.7M580.4 1019.1l1.1 14.1M582.7 1048.8l1.3 14M603.1 1211.5l1.1 6.8M596.5 1150.2l0.6 4.9M601.4 1168.8l0.6 4.5M600.9 1066.8l1 12.3M614 1190.4l0.6 4.5M622.9 1221.9l1.2 8.9M628.7 1262.3l1.2 7.6M607.7 991.8l0 0.7M620.3 1161.1l0.5 4.4M608.1 894l0.4 30.5M609.9 973.9l0.8 20.2M622.7 1133.1l0.6 6.4M624.9 1156.6l0.8 8.1M634 1174.2l0.6 6.2M624.4 969.6l0.5 16.6M630.4 1048.5l1.2 23.4M650.5 1289.4l0.7 5.6M654.1 1287l0.5 5M636.9 994.6l0.5 14.3M645.6 1166.2l0.5 7M654.9 1253l0.6 6.6M658.8 1295.4l0.6 6.4M651.4 1178.9l0.3 4.6M650.9 1071.5l0.3 7.3M651.2 1078.9l0.3 7.2M656.7 1186.4l0.4 6.4M659.2 1224.9l0.4 6.2M650.6 951.9l0.3 20.7M657.4 1002.1l0.3 15.7M657.7 1017.9l0.5 20.7M662.4 950.4l0.1 7.8M673.3 1281.1l0.3 4.7M665.4 951.8l0.1 7.7M670.8 1178.7l0.2 4.3M668.5 960.6l0.2 18.9M677.1 1221.5l0.1 4.2M678.3 1255.5l0.2 4.8M678.8 1268.3l0.3 6.9M674.4 962.3l0.2 18.5M677.1 932l0.1 23.8M680.6 1181.3l0.2 6.5M680.3 963.7l0.1 18.3M683.1 934l0.1 23.1M683.2 964.1l0.1 18.2M684 1066.5l0.1 6.4M687.5 1293.7l0.1 5M686.2 964.5l0.1 18.1M686.8 1075l0.1 9.4M697.7 1095.3l-0 11.1M697.5 1201.4l-0 6.8M701 935l-0 22.8M700.9 964.8l-0 18M700.7 1022.9l-0.1 15.1M700.6 1060.9l-0 7.6M706.6 1007.5l-0.1 15.1M704.6 1190.3l-0.1 4.5M709.7 963.7l-0.1 18.3M705.1 1281.3l-0.1 5.7M712.9 932l-0.1 23.8M715.4 993.1l-0.1 13.2M712.7 1152.6l-0.1 5M718.6 961.5l-0.3 25.9M721.6 960.6l-0.3 26.2M724.1 991.1l-0.2 13.4M714.5 1291l-0.4 8.1M727.8 923.5l-0.2 25.2M726.1 1039.9l-0.4 18.4M717.5 1272.3l-0.3 6.2M717.9 1300.2l-0.3 4.5M733.8 918l-0.3 29.2M726.2 1188.9l-0.3 6.7M721.3 1304.4l-0.4 5.6M736.9 1055.9l-0.7 20.5M741.8 984.7l-0.3 14.3M726.8 1282.7l-0.4 4.6M745.7 923.4l-0.2 14.9M742.5 1194.2l-0.4 4.9M760.9 899l-0.2 19.8M754 1139.7l-0.5 7.1M765.1 986.2l-0.9 24M747.1 1243.3l-0.7 6.7M745 1262l-0.8 7.5M768.1 984l-0.7 18.4M767.4 1002.4l-0.5 13.2M756.7 1235.4l-1 8.5M782 998.4l-1 20.4M779.9 1039.4l-1.4 21.4M766.5 1210.9l-0.6 4.5M789.3 965l-0.9 21.5M773.1 1176l-0.7 6.2M760.3 1270.8l-1.1 7.3M790.8 1044.9l-2 25.7M802.6 913.4l-0.9 33.2M774.5 1234l-1.2 7.8M778.8 1220.8l-1.3 8.6M770.7 1269.9l-0.9 5M809.8 1017.6l-0.1 1.4M817.8 898l-1.5 54.2M773.6 1295.6l-1.6 7.5M821 978.2l-0.2 3.4M822.6 1036.1l-2.7 27.9M798 1215.1l-1.7 8.9M790.7 1262.1l-1.9 8.6M837.9 988.9l-5.7 64.6M843.4 942.6l-3.2 53.9M800.5 1255.9l-1.2 5M847.8 898.5l-0.7 27.5M813 1209l-1.8 8.6M859.8 897l-1 33.7M856.7 1006.8l-1.7 17.4M844.6 1104.6l-1.6 9.7M862.3 1008.8l-1 10.1M828.6 1220.8l-2.1 8.5M867.4 1015.8l-3.1 27.1M812.2 1288.3l-2.3 7.5M861.3 1100.2l-1.9 10.7M883.4 967.1l-2.1 25.5M854.5 1161.3l-1.9 8.5M877.8 1046.8l-3 20.7M821.8 1305.6l-2.3 6.4M860.2 1197.1l-2.4 8.8M907.1 916l-3.8 59.5M853.7 1234.5l-2.7 8.5M846.6 1256.5l-2.7 8.1M828.2 1308.4l-1.4 3.6M875.4 1167.2l-1.7 6.3M842.9 1273.5l-1.9 5.3M866.5 1207.5l-1.5 5M842.7 1279.6l-3.1 8.4M917.9 938.2l-1.8 25M925.6 900l-3.3 59.2M887.4 1159.4l-2 7.4M853.4 1266.7l-2.3 6.3M891.9 1151.8l-1.8 6.8M874.6 1225.1l-2.2 6.3M852 1300.3l-2.4 5.6M949.3 907.5l-3.2 50.1M880.2 1256.7l-3.7 8.9M942 1063.5l-0.5 2.4M899.4 1212.7l-1.5 4.2M882.2 1266.7l-2.9 6.7M975.2 927.3l-4.6 49.6M923.5 1191.6l-1.9 5.1M883.9 1285.1l-4 8.4M991.6 894.5l-1.6 33.6M935.6 1178.3l-2.8 7.4M962.3 1121.8l-1.4 4.5M918.7 1241.7l-2.8 6.1M1004.6 932.6l-6.8 59.5M946.7 1219.7l-1.9 4.1M909.7 1295.1l-4.7 8.1M1029.9 947.8l-4.3 33.8M1024.2 1007.1l-4.1 20.3M963.1 1198.9l-4.1 9M921.5 1288.1l-2.7 4.5M1003.8 1122.8l-2.7 7.3M986 1168.5l-3.7 8.6M916.8 1305.5l-4.1 6.5M1054.4 899l-3.1 42.9M1049.5 978.3l-12.3 61M999.5 1154.2l-5.5 13.1M1015.4 1119.7l-3.9 10.4M962.1 1237.9l-2.9 5.3M1037.5 1110.1l-2.2 5.9M967.9 1274.1l-3.6 5.5M1052 1120.2l-3 7.2M1009.6 1216.7l-5.7 9.8M1108.9 931.2l-3.1 25.4M1068.7 1098l-4 10.2M1075 1095.6l-5.4 13.7M1078.3 1131.6l-4.9 10.4M975.5 1299.3l-9.4 12.2M1043.1 1210.4l-5.7 9.1M1044.1 1219.8l-4.4 6.8M1099.1 1126l-3.7 7.7M1085.7 1152.9l-6.8 12.7M1037.4 1242.8l-6.7 9.3M1086 1178.7l-4 6.6M1023.5 1282.7l-9.7 11.6M1049.3 1275.8l-6.8 7.8M1193.4 1059.7l-6.9 16.3M1046.1 1294.7l-6.3 6.7M1195.8 1101.7l-3.5 6.6M1059.5 1290.8l-6 6.3M1124.1 1221.7l-11 13.4M1128.5 1224.7l-8.3 10"/><path stroke="#d2e9ff" d="M107 873.5l1.2 29.1M189.1 1125.6l8.5 13.8M204.2 1149.8l8.6 12.8M243.4 1195.3l9 11.8M347.9 1304.5l7.3 7.5M264.9 1205.3l10 13.2M287.2 1231.3l5.3 6.6M322.4 1272.9l7.3 8.1M355.8 1305l6.7 7M152.4 889l3.2 38.1M339.1 1280.5l6.1 6.9M261.8 1173.3l7.5 11.4M239.1 1131.2l3.9 7M325 1256.7l7.7 9.3M180.2 933.5l11.2 58.2M234.6 1107.6l3.5 7.1M297.5 1212l5.6 7.9M362 1293.1l5.5 6.2M376.4 1300.8l7.8 8.8M344.2 1248.6l5.7 7.5M339.8 1236.6l8 11.1M291.7 1152.5l4.9 8.8M347.8 1241.8l9.4 12.9M240 936.4l4.1 27.8M259.7 1030.4l3.6 11.7M334.6 1197.6l4.5 7.4M239 869.5l1.5 41.6M390.6 1274.7l10.3 13.9M426 1308.9l2.4 3.1M263.1 883l3.4 51.1M419.5 1290.1l5.8 8M429.5 1293.2l4.2 5.9M310.9 1041.2l9.1 29.8M360.6 1170.1l5.8 11.6M331.3 1088.2l4.1 11.4M317.5 938.1l3.5 27.6M375.7 1154.4l2.6 6M425.7 1252.6l3.4 5.8M451.9 1292.2l5.3 8.2M396.1 1188.2l5.9 12.1M384.1 1156.3l4.1 9.5M449.6 1272.2l3 5.1M448.5 1266.8l3.5 6.1M411 1184.2l3 6.6M377.3 1087.7l2.7 8.6M347.8 904l6.5 68.3M380.9 1090.6l3.5 11.1M448.8 1239.6l3.8 7.5M443.7 1220.1l3.4 7.2M457.8 1249l3 5.9M394.2 1034.3l3.3 15.2M434.7 1170.9l3 7.6M401 1025.9l3.4 16.6M443.9 1175.9l3 7.8M434.3 1141.8l1.7 5.2M487.3 1270.4l4.1 8.3M471.7 1227.3l2.4 5.5M470.4 1218.8l2.6 6.1M480.7 1227.4l3.3 7.9M492.8 1255.5l2.6 5.9M493 1241.1l2.8 6.7M436.7 1017.3l5.8 32.6M440.1 885.5l0.6 22.3M467.8 1103.1l1.4 5.8M529.3 1273.5l2.7 6.7M542.1 1300.1l2 4.7M476 951.8l6.3 62.8M479.2 890.5l0.8 25.9M541.7 1250.5l3 9M485.2 892.5l0.8 26.8M486 919.3l2.4 40.6M488.7 910l4.1 67.3M535.6 1208.5l1.6 5.6M535.5 1123.2l1.6 8.3M515.2 891.5l0.6 24M576.8 1254.4l2 7.5M579.4 1256.3l2.2 8.7M571.3 1191.1l1 4.8M584.4 1232l1.7 7.8M548.4 905.5l1.4 41.5M552.2 989.1l1.8 23.5M578.1 1189.6l1.6 8.6M602.4 1299.4l1.2 4.8M557.7 919.5l0.9 26.3M586 1193.8l1 5.5M562.1 958l2 35M564.8 1003.6l0.1 0.8M567.2 937.7l0.1 2.4M567.3 940.1l1.8 39.2M610.2 1283.1l0.9 4.1M569.4 909l1 35.8M575.4 1029.5l0.9 10.6M578.1 1027.3l1.5 18.4M583.1 965.7l0.1 1.5M598.7 1126.8l0.5 4.7M588 938.3l0.3 9.3M588.3 947.6l0.9 24.2M589.4 974.7l1.5 28.4M611.2 1186.9l0.7 5.4M599.1 893.5l0.2 17.9M626.7 1216.1l1 8M626.5 1194.8l0.8 6.7M612.8 973.2l0.1 3.9M632.8 1229.1l0.6 4.6M617.9 945.9l1.4 44.8M633 1189.5l0.6 5.5M623.4 922.6l0.6 30.3M641 1222.3l0.5 4.8M630 958.6l0.4 15.7M654.6 1292l0.5 4.5M635.4 928.1l1.5 66.5M638.2 1031.8l0 0.8M660.2 1289.6l0.4 4.4M658.3 1242.1l0.5 6M650.1 909.5l0.3 33.6M659.5 948.9l0.1 8M660.3 1003l0.3 15.6M662.5 958.3l0.3 19.3M669.7 1209l0.3 5.5M665.2 926l0.2 25.8M670 1059.2l0.2 9.9M680.1 1161.6l0.2 8.5M680.7 1187.7l0.1 4M681.9 1232.3l0.1 5.4M683.1 1188.2l0.2 8.8M684.3 1241.4l0.2 8M686.4 1007.7l0.1 15M689.1 935l0.2 64.1M692 935l0 22.9M692.1 1008l0 11.5M693.2 1282l0 4.5M695 935l0 23M695 965l0 25.8M699.5 1235.1l-0 4M702.4 1175.2l-0.1 5.8M706.6 994.4l-0.1 13.1M703.1 1282.2l-0.1 7.6M712.2 1019.8l-0 2.1M727.5 958.3l-0.2 19.3M739.9 909.5l-0.2 24.8M729.3 1216.3l-0.5 8.4M728.5 1261.3l-0.3 4.5M726.5 1287.2l-0.3 4.3M745.9 899.5l-0.2 23.9M745.4 947.6l-0.4 20.5M733.4 1252.3l-0.7 8.9M751.6 929.7l-1.4 66M747.1 1195.5l-0.6 6.4M744.5 1225.4l-0.8 8.1M763.5 927.7l-0.6 28.1M762.1 988.2l-0.6 17.7M761.5 1005.9l-1.1 27.2M769.9 899l-0.2 17.4M746.8 1264.6l-0.9 7.3M772.2 942.4l-0.1 4.2M771.4 970.9l-1.8 47.1M749.6 1258.7l-1 8.2M758.9 1196.2l-0.7 6.2M756.5 1218.2l-0.5 4.8M776.7 986.6l-0.4 10.1M755.7 1243.9l-0.8 6.7M787.8 902.5l-0.3 17.7M786.2 967.7l-0 0.7M800.7 1025.1l-0.1 1.1M811.2 927.7l-1.2 33.3M774.1 1273.3l-1.6 8.3M811.4 992l-1.6 25.6M792 1180l-1 6.6M798.2 1154.4l-0.9 6.1M789 1214.1l-1.5 9M794.5 1194.9l-0.8 4.6M777.6 1294.8l-1.5 7M835.8 898l-0.8 32.8M812.1 1161.7l-1.5 8.8M844.3 979.5l-1.5 20.4M839.8 1034.2l-2.5 22.9M829.5 1147.9l-0.9 5.3M807.6 1252.6l-1.6 6.4M856.3 975.6l-5.5 61.7M826.1 1212l-1.3 5.5M816.9 1257.6l-1.6 5.9M832.3 1223.8l-1.7 6.6M814.3 1287.7l-1.4 4.6M835.4 1220.6l-1.2 4.8M829.9 1269.8l-1.3 4M887.4 1016.4l-2.9 22.6M846.4 1237.1l-2.5 8M837.2 1278.1l-2.5 7.2M870.1 1178.1l-2.4 8.8M912.4 1022.7l-1.7 12M867.7 1244.8l-1.5 4M863.8 1261l-3.2 8.4M852.2 1290.6l-2.3 5.6M952.6 898.5l-1 24.6M905 1216.2l-2.3 5.9M907.1 1227.9l-2.8 6.8M886.4 1280l-2.4 5.2M915.5 1218.4l-2.9 7.1M990 928.1l-7.5 68.4M899.4 1277.8l-3.9 7.8M1006.3 993.1l-2.2 13M968.3 1142.7l-1.6 4.7M942.6 1223.6l-4.1 8.7M923 1267.3l-3.8 7.2M1028.7 1013.5l-3.2 15.4M1002.8 1110.4l-3.1 9M989.2 1198.5l-6.4 12.8M934.5 1295.4l-3.4 5.2M1026.2 1150.7l-3.8 8.4M1077.9 1072.4l-4.6 13.1M1064.6 1121.4l-3 7.1M1011.5 1261.3l-5.7 7.9M1121.9 1137.2l-6.8 12.5M1142.9 1127l-6.7 12.4M1076.8 1247.7l-10.9 13.3M1152 1181.6l-9.1 12.6M1102.9 1244.8l-9.3 10.8M1221.5 1088.5l-6.9 13.1"/><path stroke="#f6faff" d="M270.6 1245.3l6.9 7.7M277.5 1253l11.8 12.8M316.8 1294.1l6.8 6.7M124.5 992.1l10.4 32.1M296.2 1264.3l7.3 7.9M235.4 1187.7l8.9 12M156.6 1043.7l10.6 24.9M302.8 1267l11.3 12.2M137.8 975.8l9.2 32.9M289.2 1249.3l10.3 11.7M323.1 1286.7l8.2 8.5M294.5 1253l6.1 6.9M342.8 1301.2l8.7 8.9M206.1 1114l4.7 8.5M347.9 1292.5l9.1 9.9M161 922.8l11.5 63.2M342.2 1279.4l9.5 10.7M174 951.4l12.2 53.5M216.4 1086.2l3.6 7.7M220.5 1070.3l3.7 8.7M238.5 1104.5l3.7 7.6M366.9 1292.1l11.1 12.7M203.3 992.8l2.7 10.6M222.8 1055.3l4.5 11.6M314.5 1223l9.9 13.6M333.5 1245.8l6 7.8M263.3 1122.8l4.7 9.2M356.6 1262.2l5.8 7.5M364.9 1270.3l8.6 10.9M308.5 1173.7l7.6 12.9M351.7 1238l6.7 9.5M275.6 1097.7l6 13.7M386 1276.7l6.5 8.5M388.2 1274.2l8.6 11.4M296.9 1109.9l2.9 6.7M401.5 1286.7l7.9 10.4M375.7 1247.7l6.5 9.5M354.5 1211.1l7.9 12.7M408 1285l4.8 6.6M312.1 1108.3l2.8 6.6M320.8 1103.3l4.3 10.8M400.5 1253l5.2 8M377.7 1207.4l3.9 7M436.9 1301.1l5.4 7.5M398.5 1220.2l7.4 13.1M349 1107.3l3.4 9M451.1 1302.5l4.2 6.1M365.7 1142.7l3.2 7.4M419.3 1245.3l4.2 7.2M460.5 1305.4l4.4 6.6M443.5 1275.6l4.5 7.2M388.2 1165.8l2.7 6.1M413 1213.1l4.7 9.2M394.2 1168.1l3.4 7.6M417.6 1217.6l2.5 4.8M418.4 1210l2.4 4.8M371.1 1085.3l2.2 6.9M380 1096.2l2.8 8.7M453.4 1264.5l2.8 5.1M429.6 1209.3l3 6.2M456.9 1259.5l3.5 6.5M475.8 1293.4l4.5 7.7M471.3 1274.8l3.7 6.7M418.6 1154.7l1.7 4.4M467.3 1263.4l3.2 6M469.8 1264.2l3.3 6.3M373.1 926.6l6.3 57.2M483.6 1286.5l2.8 5.1M494 1302l2.8 5M486.2 1284l2.7 5.1M420.9 1116.2l3.1 9.9M424 1126l1.9 5.8M433.8 1147.8l2.4 6.9M483.5 1266.9l2.1 4.3M465.1 1222.4l2.7 6.2M480.5 1256.3l2.5 5.3M498.8 1293.1l4 7.6M472.7 1234.7l2.2 4.9M487.3 1262l3 6.3M441.3 1139.9l1.9 5.8M508.1 1300.1l2.1 4.1M405.8 925l4.6 49.9M474.6 1218.1l2.3 5.7M496.5 1268.3l2 4.2M467.6 1194.1l3.2 8.4M492.3 1244.6l3.1 7.4M462.1 1149.1l1.6 5.2M490.3 1229.1l3.6 8.9M473.3 1176.4l1.7 5.1M500.1 1247.9l2.3 5.5M434.6 1003.4l2.1 13.9M474.6 1157.1l1.8 6M466.5 1119.2l2.2 8.3M493.3 1193l1.6 4.9M494.9 1197.8l1.7 5M505.2 1227.1l3.2 8.8M539.7 1307.7l1.9 4.3M521.6 1259.3l3.4 8.8M531.8 1284.6l3.4 8.1M535.2 1292.7l2.8 6.6M449.3 893.5l1.8 41.6M535.1 1288l3 7.3M478 1101.1l2.5 10.9M505.7 1202.2l2.6 8M516.5 1227.5l2.6 7.4M510 1200.8l1.8 5.8M471.2 1017.3l4.5 29.6M518.5 1220.2l2.4 7.1M522.4 1231.8l2.8 8.2M469.2 975.6l4 34.9M473.1 1010.5l2.9 21M520 1217.7l1.8 5.4M471.6 970l8.6 69.9M478.1 1004.3l3.9 29.4M513.8 1181.7l1.8 6.2M551.9 1296.1l2.6 6.7M482.3 1014.6l3 21.8M485.3 1036.4l1.7 10.8M558.9 1309.3l1 2.7M476.2 891l3 64.5M479.2 955.5l6.9 66.3M486.1 1021.8l4.3 29.3M534.1 1233.7l2 6.1M556.5 1298.3l3.3 8.6M479.9 916.4l2.1 36.9M482 953.4l2.3 27.7M484.3 981.1l3.3 30.3M487.7 1011.4l2.8 21.2M515.5 1160.4l1.6 6.1M555.1 1289.1l2.4 6.6M482.2 893.5l3.1 64.4M485.3 957.9l4.4 46.8M489.7 1004.7l4.1 32M493.9 1036.7l2.4 16.3M556.4 1287.5l1.5 4.2M488.4 959.8l2.8 31.7M491.2 991.5l3.1 27.3M494.3 1018.8l3.3 24.3M560.9 1294.7l2.1 5.8M492.8 977.3l2.8 28.1M495.6 1005.4l2.2 18M497.8 1023.4l2 14.9M499.8 1038.3l3 20M515.5 1127.4l1.7 7.9M555.2 1272.3l2.4 7.2M557.6 1279.4l2.8 8.3M568.1 1309.3l1 2.7M495.4 974.2l6.8 61.3M502.2 1035.5l2 14.1M541.2 1220.2l1.7 5.8M494.7 912l3.4 58.5M498.1 970.5l4.5 45.1M502.5 1015.6l3.7 28.6M519.2 1120.1l0.8 4.1M548.2 1236.9l2 6.8M553.7 1255l2.7 8.8M497.1 888l1.2 40.3M498.3 928.3l4.5 63M502.8 991.3l2.5 23.4M505.3 1014.7l3.6 28.2M508.9 1042.9l2 13.9M536 1183.4l1.7 6.9M549.5 1233.7l1.8 6.3M573.7 1309.7l0.8 2.3M500.8 914.3l3 53.3M503.7 967.6l2.3 26.6M506 994.2l3.3 30.6M509.4 1024.8l2.5 19.4M511.9 1044.3l3.1 21.4M552 1234.7l1.5 5.1M555.5 1246.8l2.1 7.1M561.2 1265.8l2.2 7M503.4 903.5l2.2 49.9M505.7 953.4l5.1 58.4M510.7 1011.7l2.5 21M513.2 1032.8l2.8 21M558.3 1248.9l1.5 5M506.4 904l3.6 69.6M510.1 973.6l5.8 57.5M515.8 1031.1l2.1 16.3M559.3 1244.9l1.4 4.9M575.7 1298.8l1.8 5.6M513.2 976.6l7.4 69.7M520.6 1046.3l2.2 16.3M561 1243.2l2.4 8.4M512.6 910l2.8 56.1M515.4 966.1l5 54.9M520.4 1021l4.3 35M582.3 1307.6l1.4 4.4M517.9 960.3l5 58.3M523 1018.7l4 33.2M561.9 1230.5l2.3 8.6M519 922l1.7 33.8M520.6 955.8l1.5 22M522.1 977.9l4.1 44.4M526.2 1022.3l1.8 15.7M528 1038l3.3 25.6M521.2 892.5l1.5 47.6M525 977.3l2.9 33M527.9 1010.4l1.5 14.9M529.4 1025.2l1.8 15.6M531.2 1040.8l2.4 19.2M552 1168.1l1.4 6.6M587 1305l1.3 4.2M524.4 905.5l1.2 32.8M528.1 980l3.6 40.5M531.8 1020.5l2.7 23.8M529 946.6l4.6 63.5M533.6 1010.1l2.7 26.3M536.3 1036.5l2.9 24M564.1 1201.7l1.2 5.4M575.4 1249.1l1.4 5.4M584.2 1282l1.3 4.6M530.3 899.5l0.8 27.8M531.1 927.3l1 21.5M532.4 954.6l3.8 51.9M536.2 1006.5l2.6 26.2M538.8 1032.7l2.1 18.7M581.6 1265l1.8 6.7M535.5 957.4l0.3 4.6M535.7 962l5.4 66.9M541.2 1028.8l2 18.3M572 1216.6l2 8.8M536.2 895.5l0.1 7.1M536.3 902.6l1.3 38.9M537.6 941.5l1.3 24.1M538.9 965.6l0.2 3M539.1 968.6l5.2 62.6M544.3 1031.2l1.2 11.2M539.8 919.4l0.1 2.4M539.8 921.7l2.3 48.5M542.1 970.2l5.2 63.4M547.4 1033.6l2.8 25.5M544 951.6l1.5 26.4M545.6 978l0.1 1.8M545.7 979.7l6.1 69.3M567.4 1157.9l1.4 7.6M576.8 1206.5l1.7 7.9M546.3 935.9l0.3 6.2M546.6 942.1l2.2 39.2M548.9 984.4l4.2 50M553.1 1034.4l1.3 12.9M580.4 1212.8l1.1 5.4M590.2 1257.5l2.1 8.8M597.7 1288.3l1.3 5.2M549.8 947l0.1 3.1M549.9 950.1l1.2 22.4M551.1 972.5l1 15.3M552.1 987.8l0.1 1.4M554 1012.6l1.9 20.7M555.9 1033.3l3 28.4M551.2 893l0.4 21.4M551.6 914.4l1 29.5M553.1 955.9l2.1 34.6M555.2 990.5l0.2 2.7M555.4 993.2l2.5 30.9M557.9 1024.1l1.1 12.2M559 1036.2l1.9 19.1M591.7 1245.5l1.4 6.2M555.7 946.9l0.7 14.8M556.4 961.7l0.1 1.2M556.4 962.9l2 31.8M558.4 994.7l0.2 2.4M558.6 997.1l2 25.4M560.6 1022.6l3 31.3M595.4 1252.6l0.9 4.1M558.6 945.8l1 20.8M559.7 968.2l1.9 30.4M561.7 1000.8l2.2 27.6M606.1 1291.1l2 8.7M608.2 1299.8l1.2 5M560.3 902l0.4 19.1M560.7 921.1l1.4 36.9M564.1 993l0.7 10.6M564.9 1004.4l1.7 21.5M577.8 1126.4l1.2 8.6M585 1173.7l1.2 7.2M563.4 910.5l0.5 20.4M564 930.9l0 1.5M566.1 977.5l1.5 24M595.2 1218.4l1.6 8.4M566.1 893l1.1 44.7M569.1 979.4l1.8 28.4M593.3 1194.8l1 5.9M599 1200.5l0.8 5M612.2 1273.4l1 4.9M606.3 1230.5l0.7 4.1M579.4 947.2l0.6 14.7M602.6 1193.7l0.6 4.2M605.3 1195.9l0.6 4.3M616.6 1264.1l1.4 7.8M586.2 969.8l0.1 1.3M605 1177.1l1 6.9M622.1 1283.4l1.3 7.3M624.8 1297.7l1.3 6.6M589.3 971.9l0.1 2.9M611.9 1209l1.2 7.8M627 1277.2l1.5 8.9M624.4 1247.9l0.7 4.6M617.5 1179.8l1.1 8.8M619.2 1193.1l0.9 7.2M624.1 1230.8l1.2 8.4M602.1 895l0.4 25.1M617.4 1157.2l0.5 4.4M622.4 1200.3l0.7 5.9M608.5 924.5l0.2 8.7M629.3 1218.6l0.8 6.8M641.6 1308.1l0.6 3.9M634.3 1241.7l1 8M614.1 895l0.6 39M636.9 1244.8l0.8 6.8M639.1 1262.2l1 7.4M617.2 908.6l0.7 37.3M621 950.1l1.5 47.2M622.4 997.3l0.2 5.4M646.6 1289.8l0.7 5.5M647.3 1295.3l0.5 4.3M627.4 972l0.5 16.2M629.1 896.5l0.2 22.3M643.8 1203.4l0.8 8.9M632.1 895l0.3 28.8M632.4 923.8l0.2 12.1M632.6 935.9l0.5 25.2M644.6 1151.9l0.6 8M649.8 1219.7l0.7 7.8M639.9 999.1l0.4 12.6M653.1 1232.8l0.5 5.8M641.5 934.8l0.2 10.3M654.7 1192.7l0.3 4.8M657.4 1231.1l0.5 6.3M661.8 1285.8l0.5 5.8M648.6 998.9l0.4 16.2M661.6 1257.5l0.6 7.3M662.1 1264.8l0.6 7.9M659.9 1199.5l0.3 5.7M653.2 914l0.3 31.2M668.4 1295l0.5 6.6M656.6 955.4l0.3 19.9M661 1035.8l0.1 3.5M666 1178.7l0.4 9M668.3 1176.5l0.2 5.1M671.4 1243.9l0.3 5.4M668.2 928l0.2 25M672.7 1162.8l0.3 7.9M675.2 1233.1l0.3 8.4M676.3 1259.6l0.2 5M677.9 1295.3l0.4 8.2M671.3 954.1l0.1 7.4M676.2 1196.7l0.2 5.2M678 1174.1l0.2 5.8M678.1 1179.9l0.2 7.6M677.3 955.8l0.4 45M681.4 1213.9l0.2 6.3M682.2 1243.7l0.2 7.2M687.3 1282.6l0.1 7.1M687.7 1170l0 4.1M688.1 1201.2l0.1 5.6M688.3 1221.4l0.1 8.8M690.6 1221.1l0 5.1M691.3 1292.3l0.1 4.7M692.1 957.9l0 7M692.2 1019.5l0 3.5M692.7 1175.7l0 8.6M695 1008l0 15M697.2 1270.1l-0 5.4M697.1 1300.7l-0 5.7M700.1 1150.9l-0 4.3M699.8 1195.5l-0 6.9M702.7 1147.1l-0 4.9M709.6 994l-0.1 13.1M712.3 1006.8l-0.1 13M712.2 1021.9l-0.2 20.1M709.6 1181.4l-0.1 4.9M708.3 1236.2l-0.1 4.5M706.3 1307.2l-0.1 4.6M715.7 955l-0.1 7.3M714.8 1041.7l-0.3 18.2M711.7 1192.8l-0.2 8.3M708.5 1298l-0.3 7.3M718.8 929.5l-0.2 24.6M715.4 1148.2l-0.2 8.5M714.2 1190.5l-0.2 5.1M712.1 1253.2l-0.3 7.8M710.6 1292.9l-0.2 5.6M724.8 926l-0.2 25.8M724.5 959.5l-0.4 29.4M718 1215.4l-0.2 4.2M724.5 1171.8l-0.2 4.2M731.9 1036.8l-0 1.9M725.5 1202.5l-0.4 6.8M736.8 914l-0.3 31.2M739.5 943.3l-0.1 8.6M739.4 951.9l-0.3 20.7M729.6 1211.2l-0.3 5.1M742.9 903.5l-0.3 30.9M733.6 1184.2l-0.3 4.6M731.3 1220.5l-0.4 6.2M728.1 1265.9l-0.6 8.5M736.5 1211.5l-0.4 5M739.8 1199l-0.6 7.7M754.9 900l-0.3 28.1M754.4 939.3l-0.6 30.8M744.9 1160.7l-0.6 8M743.4 1181.9l-0.5 6.6M740.6 1242.8l-0.6 6.8M756.8 1049.6l-0.7 15.2M738.8 1282.1l-0.6 5.9M751.8 1168.4l-0.6 7.6M766.9 900.5l-0 4M748.4 1230.5l-0.6 5.5M769.7 916.4l-0.6 33.1M772.8 901.5l-0.1 7.3M769.3 1024.5l-1 20.2M748.1 1286.1l-0.6 4.4M747.5 1290.5l-1.2 8.6M763.6 1196.2l-0.6 5.3M755.3 1262.9l-0.9 6.6M784.8 900l-0.4 26.9M768.5 1173.4l-0.6 5.4M786.9 946.1l-0.7 21.6M765.4 1219.6l-0.7 5.6M759.8 1260.6l-1.1 7.3M758.7 1267.9l-1.2 8M792.6 1017.3l-1.1 17.1M765.7 1262.6l-0.7 4.1M801.7 948.1l-1 25.6M797.6 1028.4l-0.9 12.6M772.6 1246.3l-0.9 5.6M789.1 1146.9l-1 7.7M808.8 899l-0.8 35.7M778 1239.4l-0.7 4.1M775 1268.4l-0.9 4.8M778.4 1272.2l-0.9 4.4M782.4 1262.3l-1.8 8.9M797.9 1188.5l-1.4 8.2M787.4 1294.1l-2.1 8.6M840.2 996.5l-2.4 28.1M844.6 976l-0.2 3.5M816.6 1190.9l-1 4.8M805.4 1243.5l-1.1 4.8M845.9 1029.9l-1.5 14.5M815.7 1217.5l-1.6 7.2M812.9 1229.9l-1.2 5.3M819.8 1209.6l-1 4.5M812.4 1241.4l-1.6 6.8M806.8 1264.3l-1.4 5.4M806.3 1281.5l-1.9 6.7M860.7 994.5l-7.5 69.3M808 1282.4l-2 7.2M821.4 1240.4l-1.5 5.7M811.7 1276.4l-1.6 5.7M835.8 1210l-1.9 7.4M879.4 934.9l-3.7 54.6M882.7 928.3l-1.7 31M875.1 1023.9l-2.5 20.2M826.8 1259.6l-1.9 6.6M816.2 1294.1l-1.9 5.9M881.3 992.5l-5.3 47.3M838.8 1224.8l-1.1 4.1M887.3 953.7l-2 25.9M893 955.9l-3.5 40.6M830.2 1275.1l-2.1 6.4M885.8 1050.3l-2.7 17.5M837.6 1264.9l-1.7 5.3M822.9 1307.7l-1.6 4.3M841.8 1264.8l-2.4 7.1M827.8 1304.3l-2.1 5.7M863 1211.7l-2.2 7.4M911.8 978.8l-3.4 30.7M903.1 1046.9l-3.7 22.3M862.4 1221.1l-1.3 4.1M832.4 1307l-1.9 4.8M838 1297.5l-2.4 6.3M848.2 1275.5l-2.9 7.7M840.1 1301.7l-3.5 8.6M866 1255.3l-2.1 5.7M910.4 1173.6l-1.6 5M964.7 895l-3.1 55.4M952.3 1023.7l-3.2 18.5M936.2 1111.5l-2.2 8.4M905.7 1208.1l-2.5 6.8M919.8 1174.9l-2.4 7.2M937.2 1127.2l-1.2 4.1M902.8 1233l-2.8 6.9M893.5 1255.2l-2.4 5.4M901.5 1241.5l-2 4.7M896.2 1253.7l-3.6 8.2M889.1 1269.7l-2.2 4.8M884.8 1279.1l-3.4 7.2M929.4 1182.1l-2 5.4M890.4 1279.9l-3.5 7.2M980.4 1009.6l-4.7 25.8M881.9 1304.6l-3.6 6.9M917.7 1234.4l-2 4.5M934.4 1200.3l-2.9 7.2M924.4 1234.2l-3.8 8.3M888.7 1305.9l-2.4 4.4M947.6 1196.7l-3.6 8.6M923.1 1250.6l-3.3 6.7M893.9 1309.8l-1.3 2.2M988 1098.2l-2.4 7.9M939 1226.4l-3.2 6.7M948.3 1211.2l-3.6 8M913 1282.2l-2.2 4.1M1005.3 1054.9l-2.8 11M924.1 1269.2l-4.5 8.4M1033.6 894.5l-3.7 53.3M976.7 1160.9l-4.6 11.4M996.1 1114.7l-3.2 9.4M917.6 1288.1l-5 8.6M964.7 1200.5l-4 8.6M1040.6 928.5l-4.6 41.5M1023.2 1050.5l-2.6 10M967.6 1209.3l-3.8 7.8M990.8 1168.7l-4.1 9.5M921.3 1307.2l-3.1 4.8M928.3 1302.1l-5.4 8.3M970.4 1234.6l-3.3 6M1017.8 1146.5l-4.2 9.8M938.8 1294.7l-3 4.5M962.7 1259.4l-5.1 8.4M973.1 1245.3l-4.3 7.4M1003.9 1197.3l-4.8 9.2M992.8 1241.3l-5.1 8.3M995 1241.4l-4.1 6.7M973.8 1285.9l-4.9 6.9M968.9 1292.8l-4.5 6.2M960.2 1307.2l-3.6 4.8M1039 1189.3l-3.7 6.7M996.5 1258.9l-7.6 11.2M963.1 1305.7l-4.6 6.1M976.6 1290.2l-6.6 8.9M1029.7 1221l-7.7 12.1M1020.4 1242.3l-8.8 12.9M1033.2 1226.2l-6.7 10.2M1018.6 1251.2l-7.1 10.2M1013.3 1261.7l-7.3 10M1092.4 1154.4l-3.5 6.4M1109 1127.1l-6.5 12.9M1107.5 1135.3l-5.3 10.2M1051.8 1237.9l-10.1 13.8M1065.7 1221.2l-6.9 9.9M1020.9 1281.1l-10.6 13M1150.2 1077.4l-2.7 6.5M1062.4 1235.3l-7.1 9.6M1013.1 1297.5l-11.3 13M1028.1 1281.9l-7 8.4M1086.7 1214l-8.9 12.4M1151.9 1109.4l-4.7 9.4M1087 1216.8l-8.8 12.1M1063.5 1248.2l-10.9 13.7M1020.4 1302.1l-7.1 7.8M1049.2 1278.2l-7.1 8.1M1023.2 1307.2l-4.5 4.8M1050.2 1279.3l-9.8 11.1M1101.8 1221.3l-6.1 7.9M1068 1263.4l-9.7 11.2M1193 1079.8l-2.8 6M1055.6 1292.8l-5.8 6.1M1183.1 1129.4l-6 10.1M1160.8 1165.1l-4.7 7"/></g>
<g fill="none" stroke="#fff" stroke-width="3.5" stroke-dasharray="3.5 7.53"><circle cx="695.5" cy="692.0" r="615.5" stroke-dasharray="3.5 7.456" stroke-dashoffset="1.75"/><circle cx="695.5" cy="692.0" r="472" stroke-dasharray="3.5 7.443" stroke-dashoffset="1.75"/><circle cx="695.5" cy="692.0" r="318.5" stroke-dasharray="3.5 7.435" stroke-dashoffset="1.75"/><circle cx="695.5" cy="692.0" r="159.5" stroke-dasharray="3.5 7.393" stroke-dashoffset="1.75"/><circle cx="695.5" cy="692.0" r="23.5" stroke-dasharray="3.3 2.852" stroke-dashoffset="1.65"/><path d="M695.50 659.45L695.50 75.00M703.92 660.56L855.19 96.02M711.77 663.81L1004.00 157.66M718.52 668.98L1131.78 255.72M723.69 675.73L1229.84 383.50M726.94 683.58L1291.48 532.31M728.05 692.00L1312.50 692.00M726.94 700.42L1291.48 851.69M723.69 708.27L1229.84 1000.50M718.52 715.02L1131.78 1128.28M711.77 720.19L1004.00 1226.34M703.92 723.44L855.19 1287.98M695.50 724.55L695.50 1309.00M687.08 723.44L535.81 1287.98M679.23 720.19L387.00 1226.34M672.48 715.02L259.22 1128.28M667.31 708.27L161.16 1000.50M664.06 700.42L99.52 851.69M662.95 692.00L78.50 692.00M664.06 683.58L99.52 532.31M667.31 675.73L161.16 383.50M672.48 668.98L259.22 255.72M679.23 663.81L387.00 157.66M687.08 660.56L535.81 96.02"/></g>
<circle cx="695.6" cy="692.0" r="12.5" fill="none" stroke="#fff" stroke-width="3.8"/>
<circle cx="695.6" cy="691.3" r="3.6" fill="#fff"/>
<line x1="695.65" y1="692" x2="695.65" y2="1310" stroke="#d6400c" stroke-width="4.9"/>
</g>
<g fill="#fff" font-size="37">
<text x="857.2" y="958.7"><tspan dy="2.3">+</tspan><tspan dy="-2.3" dx="0.6">70</tspan><tspan font-size="16" dy="-16.8" dx="1.4">o</tspan></text>
<text x="1037.6" y="1196.4"><tspan dy="2.3">+</tspan><tspan dy="-2.3" dx="0.6">50</tspan><tspan font-size="16" dy="-16.8" dx="1.4">o</tspan></text>
</g>
<g fill="#000" font-size="49">
<text transform="translate(694.2 55.3) scale(1.015 1.07)" text-anchor="middle">24:00</text>
<text transform="translate(695.8 1361.5) scale(1.015 1.07)" text-anchor="middle">12:00</text>
<text transform="translate(56.8 692.5) rotate(-90) scale(1.015 1.07)" text-anchor="middle">06:00</text>
<text transform="translate(1329.8 689.2) rotate(90) scale(1.015 1.07)" text-anchor="middle">18:00</text>
</g>
<rect x="1339" y="1000" width="46.5" height="307.5" fill="url(#cb)" stroke="#000" stroke-width="2"/>
<path d="M1339 1245.0h3M1385.5 1245.0h-3M1339 1208.3h3M1385.5 1208.3h-3M1339 1182.3h3M1385.5 1182.3h-3M1339 1162.1h3M1385.5 1162.1h-3M1339 1145.6h3M1385.5 1145.6h-3M1339 1131.7h3M1385.5 1131.7h-3M1339 1119.6h3M1385.5 1119.6h-3M1339 1108.9h3M1385.5 1108.9h-3M1339 1099.4h5M1385.5 1099.4h-5M1339 1036.7h3M1385.5 1036.7h-3M1340.3 1000.5v2.2M1342.2 1000.5v2.2M1344.1 1000.5v2.2M1346.0 1000.5v2.2M1347.9 1000.5v4.5M1349.8 1000.5v2.2M1351.7 1000.5v2.2M1353.6 1000.5v2.2M1355.5 1000.5v2.2M1357.4 1000.5v4.5M1359.3 1000.5v2.2M1361.2 1000.5v2.2M1363.1 1000.5v2.2M1365.0 1000.5v2.2M1366.9 1000.5v4.5M1368.8 1000.5v2.2M1370.7 1000.5v2.2M1372.6 1000.5v2.2M1374.5 1000.5v2.2M1376.4 1000.5v4.5M1378.3 1000.5v2.2M1380.2 1000.5v2.2M1382.1 1000.5v2.2M1384.0 1000.5v2.2" stroke="#000" stroke-width="1.2" fill="none"/><path d="M1347.9 1000.5v4.5M1357.4 1000.5v4.5M1366.9 1000.5v4.5M1376.4 1000.5v4.5M1339 1099.4h5M1385.5 1099.4h-5" stroke="#000" stroke-width="2" fill="none"/>
<text x="1316" y="985" font-size="37">kR H<tspan font-size="17" dy="5">2</tspan></text>
<text x="1395.5" y="1110" font-size="29.8">10</text>
<text x="1393.5" y="1308.2" font-size="29.8">1</text>
</svg>
</body></html>
